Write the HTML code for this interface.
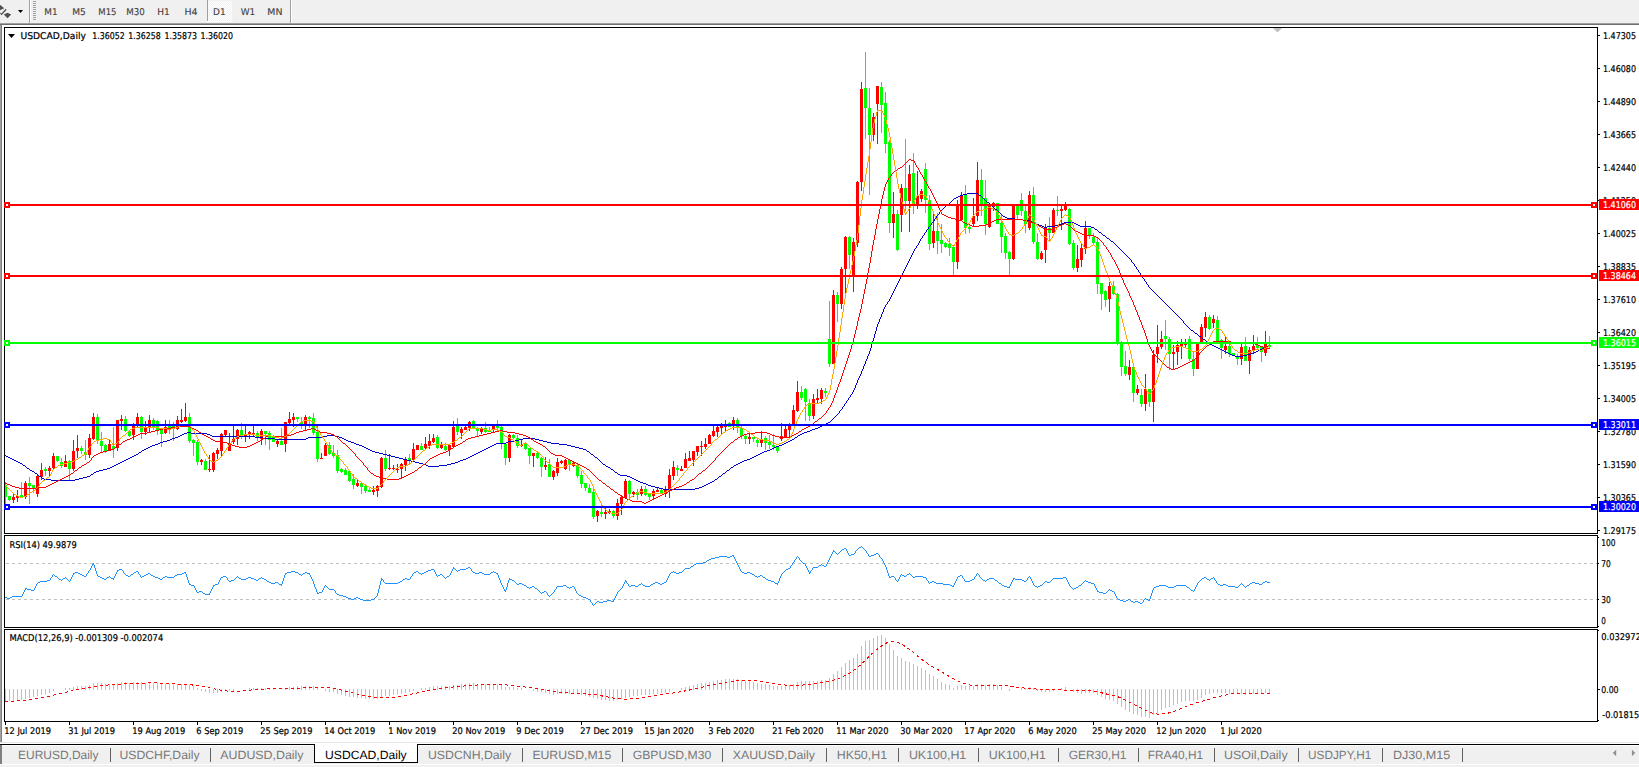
<!DOCTYPE html>
<html><head><meta charset="utf-8"><title>USDCAD,Daily</title>
<style>html,body{margin:0;padding:0;background:#fff;overflow:hidden}svg{display:block}</style></head>
<body>
<svg width="1639" height="767" viewBox="0 0 1639 767" shape-rendering="crispEdges" text-rendering="geometricPrecision">
<rect x="0" y="0" width="1639" height="767" fill="#fff"/>
<rect x="0" y="0" width="1639" height="23" fill="#f0f0f0"/>
<rect x="0" y="23" width="1639" height="1" fill="#a0a0a0"/>
<rect x="0" y="24" width="1639" height="1" fill="#707070"/>
<g fill="#505050" shape-rendering="auto"><path d="M0 4.8 L4.2 8.2 L0 10.2Z"/><path d="M5.6 8.8 L6.6 9.8 L1.7 15.2 L0 13.6 L0 12.4 L1.5 13.6Z"/><path d="M7.5 12.8 L11.2 14.5 L7.5 18.2 L3.8 14.5Z"/></g>
<path d="M18 10h5l-2.5 3z" fill="#000" shape-rendering="auto"/>
<rect x="29" y="0" width="1" height="23" fill="#a0a0a0"/>
<rect x="30" y="0" width="1" height="23" fill="#fff"/>
<rect x="33" y="1" width="3" height="1" fill="#a0a0a0"/>
<rect x="33" y="3" width="3" height="1" fill="#a0a0a0"/>
<rect x="33" y="5" width="3" height="1" fill="#a0a0a0"/>
<rect x="33" y="7" width="3" height="1" fill="#a0a0a0"/>
<rect x="33" y="9" width="3" height="1" fill="#a0a0a0"/>
<rect x="33" y="11" width="3" height="1" fill="#a0a0a0"/>
<rect x="33" y="13" width="3" height="1" fill="#a0a0a0"/>
<rect x="33" y="15" width="3" height="1" fill="#a0a0a0"/>
<rect x="33" y="17" width="3" height="1" fill="#a0a0a0"/>
<rect x="33" y="19" width="3" height="1" fill="#a0a0a0"/>
<defs><pattern id="dz" width="2" height="2" patternUnits="userSpaceOnUse"><rect width="2" height="2" fill="#f0f0f0"/><rect width="1" height="1" fill="#fff"/><rect x="1" y="1" width="1" height="1" fill="#fff"/></pattern></defs>
<rect x="208" y="1" width="24" height="20" fill="url(#dz)"/>
<rect x="207" y="21" width="26" height="1" fill="#fff"/>
<rect x="207" y="0" width="1" height="21" fill="#a0a0a0"/>
<rect x="290" y="0" width="1" height="23" fill="#a0a0a0"/>
<rect x="291" y="0" width="1" height="23" fill="#fff"/>
<text x="50.95" y="15" font-size="9.3" fill="#404040" stroke="#404040" stroke-width="0.12" font-family="'DejaVu Sans','Liberation Sans',sans-serif" text-anchor="middle" textLength="13.3" lengthAdjust="spacingAndGlyphs">M1</text>
<text x="79" y="15" font-size="9.3" fill="#404040" stroke="#404040" stroke-width="0.12" font-family="'DejaVu Sans','Liberation Sans',sans-serif" text-anchor="middle" textLength="13.6" lengthAdjust="spacingAndGlyphs">M5</text>
<text x="107.4" y="15" font-size="9.3" fill="#404040" stroke="#404040" stroke-width="0.12" font-family="'DejaVu Sans','Liberation Sans',sans-serif" text-anchor="middle" textLength="18.2" lengthAdjust="spacingAndGlyphs">M15</text>
<text x="135.45" y="15" font-size="9.3" fill="#404040" stroke="#404040" stroke-width="0.12" font-family="'DejaVu Sans','Liberation Sans',sans-serif" text-anchor="middle" textLength="18.5" lengthAdjust="spacingAndGlyphs">M30</text>
<text x="163.55" y="15" font-size="9.3" fill="#404040" stroke="#404040" stroke-width="0.12" font-family="'DejaVu Sans','Liberation Sans',sans-serif" text-anchor="middle" textLength="12.5" lengthAdjust="spacingAndGlyphs">H1</text>
<text x="190.95" y="15" font-size="9.3" fill="#404040" stroke="#404040" stroke-width="0.12" font-family="'DejaVu Sans','Liberation Sans',sans-serif" text-anchor="middle" textLength="13.1" lengthAdjust="spacingAndGlyphs">H4</text>
<text x="219.4" y="15" font-size="9.3" fill="#404040" stroke="#404040" stroke-width="0.12" font-family="'DejaVu Sans','Liberation Sans',sans-serif" text-anchor="middle" textLength="12.6" lengthAdjust="spacingAndGlyphs">D1</text>
<text x="248.05" y="15" font-size="9.3" fill="#404040" stroke="#404040" stroke-width="0.12" font-family="'DejaVu Sans','Liberation Sans',sans-serif" text-anchor="middle" textLength="14.5" lengthAdjust="spacingAndGlyphs">W1</text>
<text x="274.85" y="15" font-size="9.3" fill="#404040" stroke="#404040" stroke-width="0.12" font-family="'DejaVu Sans','Liberation Sans',sans-serif" text-anchor="middle" textLength="15.1" lengthAdjust="spacingAndGlyphs">MN</text>
<rect x="0" y="25" width="1" height="717" fill="#a0a0a0"/>
<rect x="1" y="25" width="1" height="717" fill="#808080"/>
<rect x="4" y="27" width="1594" height="1" fill="#000"/>
<rect x="4" y="27" width="1" height="507" fill="#000"/>
<rect x="4" y="533" width="1594" height="1" fill="#000"/>
<rect x="1597" y="27" width="1" height="507" fill="#000"/>
<rect x="4" y="535" width="1594" height="1" fill="#000"/>
<rect x="4" y="535" width="1" height="93" fill="#000"/>
<rect x="4" y="627" width="1594" height="1" fill="#000"/>
<rect x="1597" y="535" width="1" height="93" fill="#000"/>
<rect x="4" y="629" width="1594" height="1" fill="#000"/>
<rect x="4" y="629" width="1" height="93" fill="#000"/>
<rect x="4" y="721" width="1594" height="1" fill="#000"/>
<rect x="1597" y="629" width="1" height="93" fill="#000"/>
<defs><clipPath id="cm"><rect x="5" y="28" width="1592" height="505"/></clipPath><clipPath id="cr"><rect x="5" y="536" width="1592" height="91"/></clipPath><clipPath id="cd"><rect x="5" y="630" width="1592" height="91"/></clipPath></defs>
<g clip-path="url(#cm)">
<path fill="#ff0000" d="M13 493h1v10h-1z M12 497h3v3h-3z M17 490h1v12h-1z M16 496h3v2h-3z M25 481h1v18h-1z M24 483h3v14h-3z M37 475h1v22h-1z M36 476h3v18h-3z M41 463h1v17h-1z M40 470h3v7h-3z M49 466h1v11h-1z M48 468h3v3h-3z M53 453h1v16h-1z M52 456h3v12h-3z M65 455h1v12h-1z M64 461h3v6h-3z M73 440h1v31h-1z M72 451h3v18h-3z M77 435h1v23h-1z M76 448h3v3h-3z M89 434h1v24h-1z M88 438h3v17h-3z M93 413h1v27h-1z M92 417h3v22h-3z M109 439h1v12h-1z M108 444h3v6h-3z M117 420h1v31h-1z M116 420h3v28h-3z M121 415h1v15h-1z M120 419h3v2h-3z M133 423h1v17h-1z M132 426h3v9h-3z M137 413h1v14h-1z M136 417h3v9h-3z M145 421h1v14h-1z M144 427h3v5h-3z M149 415h1v18h-1z M148 420h3v8h-3z M165 420h1v14h-1z M164 427h3v6h-3z M177 416h1v14h-1z M176 420h3v9h-3z M181 409h1v14h-1z M180 420h3v2h-3z M185 403h1v19h-1z M184 417h3v4h-3z M201 459h1v6h-1z M200 460h3v2h-3z M209 455h1v17h-1z M208 469h3v1h-3z M213 452h1v20h-1z M212 453h3v17h-3z M217 448h1v11h-1z M216 450h3v4h-3z M221 433h1v23h-1z M220 434h3v17h-3z M225 430h1v7h-1z M224 430h3v5h-3z M229 433h1v18h-1z M228 443h3v8h-3z M233 426h1v18h-1z M232 439h3v3h-3z M237 429h1v16h-1z M236 430h3v9h-3z M245 426h1v16h-1z M244 435h3v2h-3z M249 431h1v8h-1z M248 432h3v2h-3z M253 426h1v10h-1z M252 433h3v1h-3z M261 429h1v16h-1z M260 431h3v8h-3z M277 439h1v8h-1z M276 441h3v3h-3z M285 422h1v30h-1z M284 422h3v22h-3z M289 412h1v12h-1z M288 419h3v4h-3z M293 413h1v14h-1z M292 417h3v3h-3z M305 415h1v16h-1z M304 417h3v7h-3z M321 453h1v6h-1z M320 458h3v1h-3z M325 443h1v13h-1z M324 445h3v11h-3z M357 479h1v8h-1z M356 483h3v3h-3z M373 486h1v9h-1z M372 490h3v2h-3z M377 485h1v12h-1z M376 486h3v5h-3z M381 457h1v31h-1z M380 458h3v29h-3z M389 454h1v16h-1z M388 468h3v1h-3z M393 465h1v5h-1z M392 468h3v1h-3z M397 464h1v9h-1z M396 469h3v1h-3z M401 463h1v15h-1z M400 464h3v5h-3z M405 457h1v14h-1z M404 459h3v6h-3z M413 443h1v17h-1z M412 449h3v11h-3z M417 445h1v5h-1z M416 445h3v5h-3z M425 437h1v13h-1z M424 444h3v4h-3z M429 434h1v15h-1z M428 441h3v5h-3z M433 434h1v9h-1z M432 438h3v4h-3z M441 442h1v7h-1z M440 444h3v4h-3z M449 445h1v11h-1z M448 445h3v5h-3z M453 421h1v27h-1z M452 427h3v20h-3z M461 427h1v12h-1z M460 429h3v4h-3z M465 426h1v4h-1z M464 427h3v3h-3z M469 421h1v10h-1z M468 422h3v6h-3z M481 427h1v7h-1z M480 429h3v3h-3z M493 426h1v6h-1z M492 426h3v4h-3z M509 434h1v28h-1z M508 435h3v23h-3z M521 440h1v7h-1z M520 445h3v1h-3z M533 453h1v14h-1z M532 453h3v3h-3z M545 457h1v13h-1z M544 465h3v2h-3z M553 470h1v10h-1z M552 471h3v6h-3z M557 458h1v18h-1z M556 462h3v11h-3z M561 460h1v4h-1z M560 461h3v2h-3z M565 459h1v11h-1z M564 460h3v9h-3z M573 461h1v6h-1z M572 463h3v3h-3z M597 510h1v12h-1z M596 511h3v5h-3z M605 508h1v11h-1z M604 512h3v2h-3z M609 509h1v5h-1z M608 511h3v2h-3z M617 499h1v21h-1z M616 503h3v13h-3z M621 496h1v19h-1z M620 497h3v7h-3z M625 479h1v20h-1z M624 481h3v17h-3z M633 491h1v6h-1z M632 492h3v2h-3z M641 486h1v10h-1z M640 489h3v5h-3z M653 489h1v11h-1z M652 491h3v5h-3z M657 488h1v4h-1z M656 490h3v2h-3z M665 486h1v11h-1z M664 490h3v4h-3z M669 469h1v29h-1z M668 475h3v15h-3z M673 461h1v19h-1z M672 467h3v9h-3z M681 466h1v5h-1z M680 469h3v2h-3z M685 453h1v15h-1z M684 459h3v9h-3z M689 451h1v10h-1z M688 458h3v3h-3z M693 451h1v15h-1z M692 451h3v9h-3z M697 446h1v10h-1z M696 446h3v6h-3z M701 441h1v15h-1z M700 446h3v1h-3z M705 438h1v11h-1z M704 444h3v3h-3z M709 434h1v10h-1z M708 435h3v9h-3z M713 426h1v11h-1z M712 431h3v5h-3z M717 426h1v11h-1z M716 427h3v5h-3z M721 423h1v12h-1z M720 426h3v2h-3z M725 420h1v12h-1z M724 426h3v1h-3z M733 417h1v13h-1z M732 420h3v4h-3z M749 433h1v11h-1z M748 437h3v2h-3z M761 431h1v16h-1z M760 439h3v4h-3z M781 423h1v18h-1z M780 436h3v3h-3z M785 426h1v12h-1z M784 429h3v8h-3z M789 423h1v14h-1z M788 426h3v4h-3z M793 405h1v21h-1z M792 410h3v16h-3z M797 381h1v31h-1z M796 392h3v19h-3z M813 394h1v25h-1z M812 399h3v17h-3z M817 389h1v15h-1z M816 398h3v2h-3z M821 388h1v16h-1z M820 390h3v9h-3z M833 290h1v74h-1z M832 295h3v69h-3z M841 267h1v42h-1z M840 269h3v35h-3z M845 236h1v58h-1z M844 237h3v32h-3z M853 238h1v54h-1z M852 242h3v33h-3z M857 181h1v66h-1z M856 182h3v61h-3z M861 82h1v109h-1z M860 89h3v93h-3z M873 113h1v28h-1z M872 117h3v18h-3z M877 86h1v58h-1z M876 86h3v18h-3z M893 192h1v46h-1z M892 214h3v9h-3z M901 184h1v48h-1z M900 188h3v27h-3z M909 165h1v67h-1z M908 174h3v27h-3z M917 171h1v38h-1z M916 196h3v8h-3z M921 189h1v13h-1z M920 191h3v8h-3z M933 214h1v34h-1z M932 231h3v12h-3z M957 200h1v69h-1z M956 205h3v57h-3z M961 192h1v29h-1z M960 196h3v24h-3z M973 198h1v29h-1z M972 216h3v8h-3z M977 162h1v59h-1z M976 180h3v36h-3z M989 205h1v23h-1z M988 206h3v21h-3z M993 202h1v9h-1z M992 203h3v4h-3z M1013 205h1v55h-1z M1012 206h3v53h-3z M1029 191h1v39h-1z M1028 195h3v33h-3z M1041 251h1v9h-1z M1040 253h3v6h-3z M1045 224h1v39h-1z M1044 228h3v22h-3z M1053 208h1v25h-1z M1052 210h3v23h-3z M1061 206h1v24h-1z M1060 209h3v2h-3z M1065 202h1v9h-1z M1064 206h3v4h-3z M1077 245h1v27h-1z M1076 259h3v9h-3z M1081 243h1v24h-1z M1080 248h3v12h-3z M1085 221h1v33h-1z M1084 228h3v21h-3z M1109 282h1v30h-1z M1108 286h3v13h-3z M1129 360h1v20h-1z M1128 367h3v8h-3z M1137 385h1v10h-1z M1136 389h3v4h-3z M1145 374h1v37h-1z M1144 389h3v15h-3z M1153 350h1v72h-1z M1152 355h3v47h-3z M1157 325h1v38h-1z M1156 347h3v7h-3z M1161 331h1v18h-1z M1160 339h3v8h-3z M1173 345h1v25h-1z M1172 352h3v2h-3z M1177 341h1v24h-1z M1176 345h3v7h-3z M1181 339h1v20h-1z M1180 344h3v2h-3z M1185 339h1v8h-1z M1184 344h3v1h-3z M1197 344h1v25h-1z M1196 344h3v25h-3z M1201 324h1v20h-1z M1200 327h3v17h-3z M1205 312h1v25h-1z M1204 317h3v11h-3z M1213 315h1v13h-1z M1212 319h3v4h-3z M1225 337h1v17h-1z M1224 346h3v4h-3z M1241 344h1v21h-1z M1240 347h3v12h-3z M1249 347h1v27h-1z M1248 350h3v11h-3z M1253 335h1v19h-1z M1252 346h3v4h-3z M1265 331h1v25h-1z M1264 344h3v9h-3z"/>
<path fill="#00ff00" d="M5 482h1v23h-1z M4 485h3v12h-3z M9 496h1v5h-1z M8 496h3v4h-3z M21 482h1v16h-1z M20 495h3v2h-3z M29 477h1v27h-1z M28 483h3v3h-3z M33 485h1v8h-1z M32 485h3v4h-3z M45 467h1v9h-1z M44 469h3v2h-3z M57 456h1v6h-1z M56 456h3v5h-3z M61 458h1v10h-1z M60 462h3v4h-3z M69 460h1v20h-1z M68 461h3v8h-3z M81 446h1v8h-1z M80 448h3v3h-3z M85 440h1v20h-1z M84 452h3v3h-3z M97 414h1v30h-1z M96 417h3v24h-3z M101 432h1v20h-1z M100 441h3v5h-3z M105 444h1v9h-1z M104 445h3v6h-3z M113 427h1v31h-1z M112 446h3v3h-3z M125 416h1v16h-1z M124 419h3v12h-3z M129 431h1v6h-1z M128 431h3v5h-3z M141 416h1v23h-1z M140 417h3v15h-3z M153 418h1v12h-1z M152 420h3v8h-3z M157 420h1v15h-1z M156 421h3v9h-3z M161 429h1v18h-1z M160 430h3v4h-3z M169 420h1v14h-1z M168 426h3v2h-3z M173 422h1v19h-1z M172 426h3v2h-3z M189 413h1v30h-1z M188 417h3v24h-3z M193 439h1v17h-1z M192 440h3v3h-3z M197 440h1v25h-1z M196 442h3v20h-3z M205 459h1v11h-1z M204 461h3v9h-3z M241 423h1v16h-1z M240 430h3v7h-3z M257 431h1v10h-1z M256 433h3v5h-3z M265 431h1v14h-1z M264 431h3v3h-3z M269 431h1v19h-1z M268 433h3v7h-3z M273 435h1v7h-1z M272 436h3v6h-3z M281 428h1v17h-1z M280 441h3v4h-3z M297 417h1v5h-1z M296 417h3v2h-3z M301 417h1v12h-1z M300 422h3v2h-3z M309 416h1v12h-1z M308 417h3v2h-3z M313 413h1v22h-1z M312 418h3v15h-3z M317 426h1v36h-1z M316 432h3v27h-3z M329 442h1v13h-1z M328 445h3v9h-3z M333 445h1v13h-1z M332 453h3v3h-3z M337 450h1v23h-1z M336 455h3v16h-3z M341 468h1v5h-1z M340 469h3v3h-3z M345 468h1v7h-1z M344 470h3v5h-3z M349 471h1v11h-1z M348 471h3v10h-3z M353 474h1v15h-1z M352 479h3v6h-3z M361 482h1v12h-1z M360 483h3v4h-3z M365 484h1v9h-1z M364 486h3v5h-3z M369 488h1v4h-1z M368 490h3v2h-3z M385 450h1v21h-1z M384 458h3v11h-3z M409 454h1v10h-1z M408 458h3v3h-3z M421 443h1v7h-1z M420 446h3v4h-3z M437 435h1v14h-1z M436 437h3v11h-3z M445 443h1v8h-1z M444 446h3v4h-3z M457 418h1v17h-1z M456 426h3v6h-3z M473 420h1v9h-1z M472 421h3v8h-3z M477 427h1v9h-1z M476 428h3v3h-3z M485 422h1v11h-1z M484 428h3v4h-3z M489 427h1v5h-1z M488 430h3v2h-3z M497 420h1v11h-1z M496 426h3v2h-3z M501 426h1v23h-1z M500 427h3v17h-3z M505 443h1v22h-1z M504 444h3v14h-3z M513 434h1v5h-1z M512 435h3v3h-3z M517 435h1v13h-1z M516 438h3v8h-3z M525 443h1v7h-1z M524 444h3v5h-3z M529 448h1v16h-1z M528 448h3v8h-3z M537 451h1v8h-1z M536 453h3v5h-3z M541 457h1v20h-1z M540 458h3v9h-3z M549 459h1v18h-1z M548 464h3v13h-3z M569 460h1v11h-1z M568 460h3v5h-3z M577 464h1v14h-1z M576 465h3v11h-3z M581 471h1v17h-1z M580 475h3v9h-3z M585 483h1v8h-1z M584 483h3v5h-3z M589 484h1v9h-1z M588 488h3v5h-3z M593 489h1v30h-1z M592 492h3v25h-3z M601 505h1v12h-1z M600 512h3v2h-3z M613 510h1v8h-1z M612 511h3v5h-3z M629 480h1v19h-1z M628 481h3v13h-3z M637 489h1v11h-1z M636 492h3v3h-3z M645 486h1v10h-1z M644 489h3v6h-3z M649 493h1v7h-1z M648 494h3v3h-3z M661 489h1v5h-1z M660 490h3v3h-3z M677 465h1v11h-1z M676 468h3v2h-3z M729 422h1v5h-1z M728 423h3v4h-3z M737 418h1v15h-1z M736 420h3v8h-3z M741 426h1v13h-1z M740 428h3v8h-3z M745 434h1v10h-1z M744 436h3v3h-3z M753 437h1v5h-1z M752 437h3v2h-3z M757 439h1v8h-1z M756 440h3v3h-3z M765 436h1v14h-1z M764 438h3v5h-3z M769 435h1v14h-1z M768 442h3v3h-3z M773 434h1v16h-1z M772 445h3v2h-3z M777 446h1v7h-1z M776 447h3v4h-3z M801 386h1v14h-1z M800 392h3v6h-3z M805 388h1v33h-1z M804 389h3v13h-3z M809 399h1v22h-1z M808 403h3v13h-3z M825 388h1v9h-1z M824 391h3v2h-3z M829 301h1v66h-1z M828 339h3v25h-3z M837 292h1v30h-1z M836 295h3v9h-3z M849 236h1v33h-1z M848 237h3v18h-3z M865 52h1v87h-1z M864 88h3v20h-3z M869 88h1v107h-1z M868 108h3v27h-3z M881 82h1v51h-1z M880 87h3v18h-3z M885 92h1v61h-1z M884 103h3v41h-3z M889 140h1v93h-1z M888 142h3v81h-3z M897 210h1v41h-1z M896 214h3v36h-3z M905 139h1v72h-1z M904 188h3v13h-3z M913 153h1v61h-1z M912 173h3v31h-3z M925 163h1v50h-1z M924 169h3v31h-3z M929 195h1v55h-1z M928 200h3v44h-3z M937 213h1v41h-1z M936 231h3v10h-3z M941 224h1v29h-1z M940 240h3v4h-3z M945 242h1v6h-1z M944 243h3v4h-3z M949 238h1v18h-1z M948 244h3v4h-3z M953 245h1v30h-1z M952 247h3v15h-3z M965 185h1v49h-1z M964 195h3v33h-3z M969 225h1v8h-1z M968 227h3v2h-3z M981 169h1v47h-1z M980 180h3v26h-3z M985 180h1v55h-1z M984 198h3v26h-3z M997 203h1v21h-1z M996 203h3v21h-3z M1001 215h1v38h-1z M1000 223h3v14h-3z M1005 233h1v26h-1z M1004 236h3v17h-3z M1009 251h1v24h-1z M1008 252h3v7h-3z M1017 205h1v14h-1z M1016 206h3v9h-3z M1021 193h1v23h-1z M1020 200h3v11h-3z M1025 206h1v27h-1z M1024 211h3v13h-3z M1033 187h1v57h-1z M1032 195h3v47h-3z M1037 233h1v27h-1z M1036 242h3v17h-3z M1049 217h1v25h-1z M1048 228h3v5h-3z M1057 196h1v20h-1z M1056 210h3v1h-3z M1069 208h1v37h-1z M1068 209h3v35h-3z M1073 240h1v30h-1z M1072 243h3v25h-3z M1089 228h1v11h-1z M1088 228h3v8h-3z M1093 233h1v12h-1z M1092 237h3v6h-3z M1097 238h1v56h-1z M1096 242h3v42h-3z M1101 283h1v27h-1z M1100 283h3v11h-3z M1105 290h1v17h-1z M1104 291h3v9h-3z M1113 281h1v14h-1z M1112 286h3v8h-3z M1117 293h1v52h-1z M1116 294h3v48h-3z M1121 341h1v35h-1z M1120 343h3v24h-3z M1125 351h1v25h-1z M1124 366h3v8h-3z M1133 365h1v37h-1z M1132 367h3v26h-3z M1141 389h1v18h-1z M1140 395h3v9h-3z M1149 389h1v18h-1z M1148 389h3v13h-3z M1165 320h1v30h-1z M1164 336h3v3h-3z M1169 337h1v33h-1z M1168 339h3v15h-3z M1189 336h1v25h-1z M1188 339h3v20h-3z M1193 352h1v24h-1z M1192 359h3v10h-3z M1209 315h1v15h-1z M1208 317h3v12h-3z M1217 316h1v26h-1z M1216 320h3v21h-3z M1221 339h1v20h-1z M1220 340h3v8h-3z M1229 344h1v13h-1z M1228 346h3v8h-3z M1233 353h1v3h-1z M1232 353h3v2h-3z M1237 354h1v11h-1z M1236 356h3v3h-3z M1245 337h1v24h-1z M1244 346h3v15h-3z M1257 337h1v12h-1z M1256 345h3v3h-3z M1261 346h1v16h-1z M1260 346h3v6h-3z M1269 336h1v12h-1z M1268 345h3v2h-3z"/>
<path fill="#0000cd" d="M5 455h1v1h-1zM6 456h1v1h-1zM7 456h1v1h-1zM8 457h1v1h-1zM9 457h1v1h-1zM10 458h1v1h-1zM11 458h1v1h-1zM12 459h1v1h-1zM13 459h1v1h-1zM14 460h1v1h-1zM15 460h1v1h-1zM16 461h1v1h-1zM17 461h1v1h-1zM18 462h1v1h-1zM19 462h1v1h-1zM20 463h1v1h-1zM21 463h1v1h-1zM22 464h1v1h-1zM23 465h1v1h-1zM24 465h1v1h-1zM25 466h1v1h-1zM26 467h1v1h-1zM27 468h1v1h-1zM28 468h1v1h-1zM29 469h1v1h-1zM30 470h1v1h-1zM31 470h1v1h-1zM32 471h1v1h-1zM33 471h1v1h-1zM34 472h1v1h-1zM35 473h1v1h-1zM36 473h1v1h-1zM37 474h1v1h-1zM38 475h1v1h-1zM39 476h1v1h-1zM40 476h1v1h-1zM41 477h1v1h-1zM42 478h1v1h-1zM43 478h1v1h-1zM44 479h1v1h-1zM45 479h1v1h-1zM46 479h1v1h-1zM47 479h1v1h-1zM48 479h1v1h-1zM49 479h1v1h-1zM50 479h1v1h-1zM51 480h1v1h-1zM52 480h1v1h-1zM53 480h1v1h-1zM54 480h1v1h-1zM55 480h1v1h-1zM56 480h1v1h-1zM57 480h1v1h-1zM58 480h1v1h-1zM59 480h1v1h-1zM60 480h1v1h-1zM61 480h1v1h-1zM62 480h1v1h-1zM63 480h1v1h-1zM64 480h1v1h-1zM65 480h1v1h-1zM66 480h1v1h-1zM67 480h1v1h-1zM68 480h1v1h-1zM69 480h1v1h-1zM70 480h1v1h-1zM71 480h1v1h-1zM72 480h1v1h-1zM73 480h1v1h-1zM74 480h1v1h-1zM75 479h1v1h-1zM76 479h1v1h-1zM77 479h1v1h-1zM78 479h1v1h-1zM79 478h1v1h-1zM80 478h1v1h-1zM81 478h1v1h-1zM82 478h1v1h-1zM83 477h1v1h-1zM84 477h1v1h-1zM85 477h1v1h-1zM86 477h1v1h-1zM87 476h1v1h-1zM88 476h1v1h-1zM89 476h1v1h-1zM90 475h1v1h-1zM91 474h1v1h-1zM92 474h1v1h-1zM93 473h1v1h-1zM94 472h1v1h-1zM95 472h1v1h-1zM96 471h1v1h-1zM97 471h1v1h-1zM98 471h1v1h-1zM99 470h1v1h-1zM100 470h1v1h-1zM101 470h1v1h-1zM102 470h1v1h-1zM103 469h1v1h-1zM104 469h1v1h-1zM105 469h1v1h-1zM106 469h1v1h-1zM107 468h1v1h-1zM108 468h1v1h-1zM109 468h1v1h-1zM110 467h1v1h-1zM111 467h1v1h-1zM112 466h1v1h-1zM113 466h1v1h-1zM114 465h1v1h-1zM115 465h1v1h-1zM116 464h1v1h-1zM117 464h1v1h-1zM118 463h1v1h-1zM119 463h1v1h-1zM120 462h1v1h-1zM121 462h1v1h-1zM122 461h1v1h-1zM123 461h1v1h-1zM124 460h1v1h-1zM125 460h1v1h-1zM126 459h1v1h-1zM127 459h1v1h-1zM128 458h1v1h-1zM129 458h1v1h-1zM130 457h1v1h-1zM131 457h1v1h-1zM132 456h1v1h-1zM133 456h1v1h-1zM134 455h1v1h-1zM135 455h1v1h-1zM136 454h1v1h-1zM137 454h1v1h-1zM138 453h1v1h-1zM139 452h1v1h-1zM140 452h1v1h-1zM141 451h1v1h-1zM142 450h1v1h-1zM143 450h1v1h-1zM144 449h1v1h-1zM145 449h1v1h-1zM146 448h1v1h-1zM147 448h1v1h-1zM148 447h1v1h-1zM149 447h1v1h-1zM150 446h1v1h-1zM151 446h1v1h-1zM152 445h1v1h-1zM153 445h1v1h-1zM154 445h1v1h-1zM155 444h1v1h-1zM156 444h1v1h-1zM157 444h1v1h-1zM158 443h1v1h-1zM159 443h1v1h-1zM160 442h1v1h-1zM161 442h1v1h-1zM162 442h1v1h-1zM163 441h1v1h-1zM164 441h1v1h-1zM165 441h1v1h-1zM166 441h1v1h-1zM167 440h1v1h-1zM168 440h1v1h-1zM169 440h1v1h-1zM170 439h1v1h-1zM171 439h1v1h-1zM172 438h1v1h-1zM173 438h1v1h-1zM174 438h1v1h-1zM175 437h1v1h-1zM176 437h1v1h-1zM177 437h1v1h-1zM178 436h1v1h-1zM179 436h1v1h-1zM180 435h1v1h-1zM181 435h1v1h-1zM182 434h1v1h-1zM183 434h1v1h-1zM184 433h1v1h-1zM185 433h1v1h-1zM186 433h1v1h-1zM187 432h1v1h-1zM188 432h1v1h-1zM189 432h1v1h-1zM190 432h1v1h-1zM191 433h1v1h-1zM192 433h1v1h-1zM193 433h1v1h-1zM194 433h1v1h-1zM195 433h1v1h-1zM196 433h1v1h-1zM197 433h1v1h-1zM198 433h1v1h-1zM199 433h1v1h-1zM200 433h1v1h-1zM201 433h1v1h-1zM202 433h1v1h-1zM203 433h1v1h-1zM204 433h1v1h-1zM205 433h1v1h-1zM206 433h1v1h-1zM207 434h1v1h-1zM208 434h1v1h-1zM209 434h1v1h-1zM210 435h1v1h-1zM211 435h1v1h-1zM212 436h1v1h-1zM213 436h1v1h-1zM214 436h1v1h-1zM215 436h1v1h-1zM216 436h1v1h-1zM217 436h1v1h-1zM218 436h1v1h-1zM219 436h1v1h-1zM220 436h1v1h-1zM221 436h1v1h-1zM222 436h1v1h-1zM223 436h1v1h-1zM224 436h1v1h-1zM225 436h1v1h-1zM226 436h1v1h-1zM227 436h1v1h-1zM228 436h1v1h-1zM229 436h1v1h-1zM230 436h1v1h-1zM231 436h1v1h-1zM232 436h1v1h-1zM233 436h1v1h-1zM234 436h1v1h-1zM235 436h1v1h-1zM236 436h1v1h-1zM237 436h1v1h-1zM238 436h1v1h-1zM239 436h1v1h-1zM240 436h1v1h-1zM241 436h1v1h-1zM242 436h1v1h-1zM243 436h1v1h-1zM244 436h1v1h-1zM245 436h1v1h-1zM246 436h1v1h-1zM247 436h1v1h-1zM248 436h1v1h-1zM249 436h1v1h-1zM250 436h1v1h-1zM251 436h1v1h-1zM252 436h1v1h-1zM253 436h1v1h-1zM254 436h1v1h-1zM255 437h1v1h-1zM256 437h1v1h-1zM257 437h1v1h-1zM258 437h1v1h-1zM259 437h1v1h-1zM260 437h1v1h-1zM261 437h1v1h-1zM262 437h1v1h-1zM263 438h1v1h-1zM264 438h1v1h-1zM265 438h1v1h-1zM266 438h1v1h-1zM267 438h1v1h-1zM268 438h1v1h-1zM269 438h1v1h-1zM270 438h1v1h-1zM271 438h1v1h-1zM272 438h1v1h-1zM273 438h1v1h-1zM274 438h1v1h-1zM275 439h1v1h-1zM276 439h1v1h-1zM277 439h1v1h-1zM278 439h1v1h-1zM279 439h1v1h-1zM280 439h1v1h-1zM281 439h1v1h-1zM282 439h1v1h-1zM283 439h1v1h-1zM284 439h1v1h-1zM285 439h1v1h-1zM286 439h1v1h-1zM287 439h1v1h-1zM288 439h1v1h-1zM289 439h1v1h-1zM290 439h1v1h-1zM291 439h1v1h-1zM292 439h1v1h-1zM293 439h1v1h-1zM294 439h1v1h-1zM295 439h1v1h-1zM296 439h1v1h-1zM297 439h1v1h-1zM298 439h1v1h-1zM299 439h1v1h-1zM300 439h1v1h-1zM301 439h1v1h-1zM302 439h1v1h-1zM303 439h1v1h-1zM304 439h1v1h-1zM305 439h1v1h-1zM306 438h1v1h-1zM307 438h1v1h-1zM308 437h1v1h-1zM309 437h1v1h-1zM310 437h1v1h-1zM311 437h1v1h-1zM312 437h1v1h-1zM313 437h1v1h-1zM314 437h1v1h-1zM315 437h1v1h-1zM316 437h1v1h-1zM317 437h1v1h-1zM318 437h1v1h-1zM319 437h1v1h-1zM320 437h1v1h-1zM321 437h1v1h-1zM322 437h1v1h-1zM323 436h1v1h-1zM324 436h1v1h-1zM325 436h1v1h-1zM326 436h1v1h-1zM327 435h1v1h-1zM328 435h1v1h-1zM329 435h1v1h-1zM330 435h1v1h-1zM331 435h1v1h-1zM332 435h1v1h-1zM333 435h1v1h-1zM334 435h1v1h-1zM335 436h1v1h-1zM336 436h1v1h-1zM337 436h1v1h-1zM338 436h1v1h-1zM339 437h1v1h-1zM340 437h1v1h-1zM341 437h1v1h-1zM342 438h1v1h-1zM343 438h1v1h-1zM344 439h1v1h-1zM345 439h1v1h-1zM346 440h1v1h-1zM347 440h1v1h-1zM348 441h1v1h-1zM349 441h1v1h-1zM350 441h1v1h-1zM351 442h1v1h-1zM352 442h1v1h-1zM353 442h1v1h-1zM354 443h1v1h-1zM355 443h1v1h-1zM356 444h1v1h-1zM357 444h1v1h-1zM358 444h1v1h-1zM359 445h1v1h-1zM360 445h1v1h-1zM361 445h1v1h-1zM362 446h1v1h-1zM363 446h1v1h-1zM364 447h1v1h-1zM365 447h1v1h-1zM366 448h1v1h-1zM367 448h1v1h-1zM368 449h1v1h-1zM369 449h1v1h-1zM370 450h1v1h-1zM371 450h1v1h-1zM372 451h1v1h-1zM373 451h1v1h-1zM374 451h1v1h-1zM375 452h1v1h-1zM376 452h1v1h-1zM377 452h1v1h-1zM378 452h1v1h-1zM379 453h1v1h-1zM380 453h1v1h-1zM381 453h1v1h-1zM382 453h1v1h-1zM383 454h1v1h-1zM384 454h1v1h-1zM385 454h1v1h-1zM386 454h1v1h-1zM387 455h1v1h-1zM388 455h1v1h-1zM389 455h1v1h-1zM390 455h1v1h-1zM391 456h1v1h-1zM392 456h1v1h-1zM393 456h1v1h-1zM394 456h1v1h-1zM395 457h1v1h-1zM396 457h1v1h-1zM397 457h1v1h-1zM398 457h1v1h-1zM399 458h1v1h-1zM400 458h1v1h-1zM401 458h1v1h-1zM402 458h1v1h-1zM403 459h1v1h-1zM404 459h1v1h-1zM405 459h1v1h-1zM406 459h1v1h-1zM407 460h1v1h-1zM408 460h1v1h-1zM409 460h1v1h-1zM410 460h1v1h-1zM411 461h1v1h-1zM412 461h1v1h-1zM413 461h1v1h-1zM414 461h1v1h-1zM415 462h1v1h-1zM416 462h1v1h-1zM417 462h1v1h-1zM418 462h1v1h-1zM419 463h1v1h-1zM420 463h1v1h-1zM421 463h1v1h-1zM422 463h1v1h-1zM423 464h1v1h-1zM424 464h1v1h-1zM425 464h1v1h-1zM426 465h1v1h-1zM427 465h1v1h-1zM428 466h1v1h-1zM429 466h1v1h-1zM430 466h1v1h-1zM431 466h1v1h-1zM432 466h1v1h-1zM433 466h1v1h-1zM434 466h1v1h-1zM435 466h1v1h-1zM436 466h1v1h-1zM437 466h1v1h-1zM438 466h1v1h-1zM439 465h1v1h-1zM440 465h1v1h-1zM441 465h1v1h-1zM442 465h1v1h-1zM443 465h1v1h-1zM444 465h1v1h-1zM445 465h1v1h-1zM446 465h1v1h-1zM447 464h1v1h-1zM448 464h1v1h-1zM449 464h1v1h-1zM450 464h1v1h-1zM451 463h1v1h-1zM452 463h1v1h-1zM453 463h1v1h-1zM454 463h1v1h-1zM455 462h1v1h-1zM456 462h1v1h-1zM457 462h1v1h-1zM458 461h1v1h-1zM459 461h1v1h-1zM460 460h1v1h-1zM461 460h1v1h-1zM462 460h1v1h-1zM463 459h1v1h-1zM464 459h1v1h-1zM465 459h1v1h-1zM466 458h1v1h-1zM467 458h1v1h-1zM468 457h1v1h-1zM469 457h1v1h-1zM470 456h1v1h-1zM471 456h1v1h-1zM472 455h1v1h-1zM473 455h1v1h-1zM474 454h1v1h-1zM475 454h1v1h-1zM476 453h1v1h-1zM477 453h1v1h-1zM478 452h1v1h-1zM479 452h1v1h-1zM480 451h1v1h-1zM481 451h1v1h-1zM482 450h1v1h-1zM483 450h1v1h-1zM484 449h1v1h-1zM485 449h1v1h-1zM486 448h1v1h-1zM487 448h1v1h-1zM488 447h1v1h-1zM489 447h1v1h-1zM490 446h1v1h-1zM491 446h1v1h-1zM492 445h1v1h-1zM493 445h1v1h-1zM494 444h1v1h-1zM495 444h1v1h-1zM496 443h1v1h-1zM497 443h1v1h-1zM498 443h1v1h-1zM499 443h1v1h-1zM500 443h1v1h-1zM501 443h1v1h-1zM502 443h1v1h-1zM503 443h1v1h-1zM504 443h1v1h-1zM505 443h1v1h-1zM506 442h1v1h-1zM507 442h1v1h-1zM508 441h1v1h-1zM509 441h1v1h-1zM510 441h1v1h-1zM511 441h1v1h-1zM512 441h1v1h-1zM513 441h1v1h-1zM514 441h1v1h-1zM515 440h1v1h-1zM516 440h1v1h-1zM517 440h1v1h-1zM518 440h1v1h-1zM519 439h1v1h-1zM520 439h1v1h-1zM521 439h1v1h-1zM522 439h1v1h-1zM523 438h1v1h-1zM524 438h1v1h-1zM525 438h1v1h-1zM526 438h1v1h-1zM527 438h1v1h-1zM528 438h1v1h-1zM529 438h1v1h-1zM530 438h1v1h-1zM531 438h1v1h-1zM532 438h1v1h-1zM533 438h1v1h-1zM534 438h1v1h-1zM535 439h1v1h-1zM536 439h1v1h-1zM537 439h1v1h-1zM538 439h1v1h-1zM539 440h1v1h-1zM540 440h1v1h-1zM541 440h1v1h-1zM542 440h1v1h-1zM543 441h1v1h-1zM544 441h1v1h-1zM545 441h1v1h-1zM546 441h1v1h-1zM547 442h1v1h-1zM548 442h1v1h-1zM549 442h1v1h-1zM550 442h1v1h-1zM551 443h1v1h-1zM552 443h1v1h-1zM553 443h1v1h-1zM554 443h1v1h-1zM555 443h1v1h-1zM556 443h1v1h-1zM557 443h1v1h-1zM558 443h1v1h-1zM559 444h1v1h-1zM560 444h1v1h-1zM561 444h1v1h-1zM562 444h1v1h-1zM563 444h1v1h-1zM564 444h1v1h-1zM565 444h1v1h-1zM566 444h1v1h-1zM567 445h1v1h-1zM568 445h1v1h-1zM569 445h1v1h-1zM570 445h1v1h-1zM571 446h1v1h-1zM572 446h1v1h-1zM573 446h1v1h-1zM574 446h1v1h-1zM575 447h1v1h-1zM576 447h1v1h-1zM577 447h1v1h-1zM578 447h1v1h-1zM579 448h1v1h-1zM580 448h1v1h-1zM581 448h1v1h-1zM582 448h1v1h-1zM583 449h1v1h-1zM584 449h1v1h-1zM585 449h1v1h-1zM586 450h1v1h-1zM587 451h1v1h-1zM588 451h1v1h-1zM589 452h1v1h-1zM590 453h1v1h-1zM591 454h1v1h-1zM592 454h1v1h-1zM593 455h1v1h-1zM594 456h1v1h-1zM595 457h1v1h-1zM596 457h1v1h-1zM597 458h1v1h-1zM598 459h1v1h-1zM599 460h1v1h-1zM600 461h1v1h-1zM601 462h1v1h-1zM602 463h1v1h-1zM603 464h1v1h-1zM604 464h1v1h-1zM605 465h1v1h-1zM606 466h1v1h-1zM607 466h1v1h-1zM608 467h1v1h-1zM609 467h1v1h-1zM610 468h1v1h-1zM611 469h1v1h-1zM612 469h1v1h-1zM613 470h1v1h-1zM614 471h1v1h-1zM615 472h1v1h-1zM616 472h1v1h-1zM617 473h1v1h-1zM618 474h1v1h-1zM619 474h1v1h-1zM620 475h1v1h-1zM621 475h1v1h-1zM622 475h1v1h-1zM623 475h1v1h-1zM624 475h1v1h-1zM625 475h1v1h-1zM626 475h1v1h-1zM627 476h1v1h-1zM628 476h1v1h-1zM629 476h1v1h-1zM630 477h1v1h-1zM631 477h1v1h-1zM632 478h1v1h-1zM633 478h1v1h-1zM634 479h1v1h-1zM635 479h1v1h-1zM636 480h1v1h-1zM637 480h1v1h-1zM638 481h1v1h-1zM639 481h1v1h-1zM640 482h1v1h-1zM641 482h1v1h-1zM642 482h1v1h-1zM643 483h1v1h-1zM644 483h1v1h-1zM645 483h1v1h-1zM646 484h1v1h-1zM647 484h1v1h-1zM648 485h1v1h-1zM649 485h1v1h-1zM650 485h1v1h-1zM651 486h1v1h-1zM652 486h1v1h-1zM653 486h1v1h-1zM654 486h1v1h-1zM655 487h1v1h-1zM656 487h1v1h-1zM657 487h1v1h-1zM658 487h1v1h-1zM659 488h1v1h-1zM660 488h1v1h-1zM661 488h1v1h-1zM662 488h1v1h-1zM663 489h1v1h-1zM664 489h1v1h-1zM665 489h1v1h-1zM666 489h1v1h-1zM667 489h1v1h-1zM668 489h1v1h-1zM669 489h1v1h-1zM670 489h1v1h-1zM671 489h1v1h-1zM672 489h1v1h-1zM673 489h1v1h-1zM674 489h1v1h-1zM675 489h1v1h-1zM676 489h1v1h-1zM677 489h1v1h-1zM678 489h1v1h-1zM679 489h1v1h-1zM680 489h1v1h-1zM681 489h1v1h-1zM682 489h1v1h-1zM683 489h1v1h-1zM684 489h1v1h-1zM685 489h1v1h-1zM686 489h1v1h-1zM687 489h1v1h-1zM688 489h1v1h-1zM689 489h1v1h-1zM690 489h1v1h-1zM691 489h1v1h-1zM692 489h1v1h-1zM693 489h1v1h-1zM694 489h1v1h-1zM695 488h1v1h-1zM696 488h1v1h-1zM697 488h1v1h-1zM698 488h1v1h-1zM699 487h1v1h-1zM700 487h1v1h-1zM701 487h1v1h-1zM702 486h1v1h-1zM703 486h1v1h-1zM704 485h1v1h-1zM705 485h1v1h-1zM706 484h1v1h-1zM707 484h1v1h-1zM708 483h1v1h-1zM709 483h1v1h-1zM710 482h1v1h-1zM711 482h1v1h-1zM712 481h1v1h-1zM713 481h1v1h-1zM714 480h1v1h-1zM715 479h1v1h-1zM716 479h1v1h-1zM717 478h1v1h-1zM718 477h1v1h-1zM719 476h1v1h-1zM720 476h1v1h-1zM721 475h1v1h-1zM722 474h1v1h-1zM723 473h1v1h-1zM724 473h1v1h-1zM725 472h1v1h-1zM726 471h1v1h-1zM727 470h1v1h-1zM728 470h1v1h-1zM729 469h1v1h-1zM730 468h1v1h-1zM731 467h1v1h-1zM732 467h1v1h-1zM733 466h1v1h-1zM734 465h1v1h-1zM735 465h1v1h-1zM736 464h1v1h-1zM737 464h1v1h-1zM738 463h1v1h-1zM739 463h1v1h-1zM740 462h1v1h-1zM741 462h1v1h-1zM742 461h1v1h-1zM743 461h1v1h-1zM744 460h1v1h-1zM745 460h1v1h-1zM746 460h1v1h-1zM747 459h1v1h-1zM748 459h1v1h-1zM749 459h1v1h-1zM750 458h1v1h-1zM751 458h1v1h-1zM752 457h1v1h-1zM753 457h1v1h-1zM754 456h1v1h-1zM755 456h1v1h-1zM756 455h1v1h-1zM757 455h1v1h-1zM758 454h1v1h-1zM759 454h1v1h-1zM760 453h1v1h-1zM761 453h1v1h-1zM762 452h1v1h-1zM763 452h1v1h-1zM764 451h1v1h-1zM765 451h1v1h-1zM766 451h1v1h-1zM767 450h1v1h-1zM768 450h1v1h-1zM769 450h1v1h-1zM770 449h1v1h-1zM771 449h1v1h-1zM772 448h1v1h-1zM773 448h1v1h-1zM774 447h1v1h-1zM775 447h1v1h-1zM776 446h1v1h-1zM777 446h1v1h-1zM778 446h1v1h-1zM779 445h1v1h-1zM780 445h1v1h-1zM781 445h1v1h-1zM782 444h1v1h-1zM783 444h1v1h-1zM784 443h1v1h-1zM785 443h1v1h-1zM786 442h1v1h-1zM787 442h1v1h-1zM788 441h1v1h-1zM789 441h1v1h-1zM790 440h1v1h-1zM791 440h1v1h-1zM792 439h1v1h-1zM793 439h1v1h-1zM794 438h1v1h-1zM795 437h1v1h-1zM796 437h1v1h-1zM797 436h1v1h-1zM798 435h1v1h-1zM799 435h1v1h-1zM800 434h1v1h-1zM801 434h1v1h-1zM802 433h1v1h-1zM803 433h1v1h-1zM804 432h1v1h-1zM805 432h1v1h-1zM806 432h1v1h-1zM807 431h1v1h-1zM808 431h1v1h-1zM809 431h1v1h-1zM810 430h1v1h-1zM811 430h1v1h-1zM812 429h1v1h-1zM813 429h1v1h-1zM814 429h1v1h-1zM815 428h1v1h-1zM816 428h1v1h-1zM817 428h1v1h-1zM818 427h1v1h-1zM819 427h1v1h-1zM820 426h1v1h-1zM821 426h1v1h-1zM822 425h1v1h-1zM823 425h1v1h-1zM824 424h1v1h-1zM825 424h1v1h-1zM826 423h1v1h-1zM827 423h1v1h-1zM828 422h1v1h-1zM829 422h1v1h-1zM830 421h1v1h-1zM831 420h1v1h-1zM832 419h1v1h-1zM833 418h1v1h-1zM834 417h1v1h-1zM835 416h1v1h-1zM836 415h1v1h-1zM837 414h1v1h-1zM838 413h1v1h-1zM839 411h1v2h-1zM840 410h1v1h-1zM841 409h1v1h-1zM842 407h1v2h-1zM843 406h1v1h-1zM844 404h1v2h-1zM845 403h1v1h-1zM846 401h1v2h-1zM847 400h1v1h-1zM848 398h1v2h-1zM849 397h1v1h-1zM850 395h1v2h-1zM851 394h1v1h-1zM852 392h1v2h-1zM853 390h1v2h-1zM854 388h1v2h-1zM855 385h1v3h-1zM856 383h1v2h-1zM857 380h1v3h-1zM858 378h1v2h-1zM859 376h1v2h-1zM860 374h1v2h-1zM861 371h1v3h-1zM862 369h1v2h-1zM863 366h1v3h-1zM864 364h1v2h-1zM865 361h1v3h-1zM866 359h1v2h-1zM867 356h1v3h-1zM868 354h1v2h-1zM869 351h1v3h-1zM870 348h1v3h-1zM871 344h1v4h-1zM872 341h1v3h-1zM873 338h1v3h-1zM874 334h1v4h-1zM875 331h1v3h-1zM876 327h1v4h-1zM877 324h1v3h-1zM878 322h1v2h-1zM879 319h1v3h-1zM880 317h1v2h-1zM881 314h1v3h-1zM882 312h1v2h-1zM883 309h1v3h-1zM884 307h1v2h-1zM885 305h1v2h-1zM886 304h1v1h-1zM887 302h1v2h-1zM888 301h1v1h-1zM889 299h1v2h-1zM890 297h1v2h-1zM891 295h1v2h-1zM892 293h1v2h-1zM893 291h1v2h-1zM894 289h1v2h-1zM895 287h1v2h-1zM896 285h1v2h-1zM897 283h1v2h-1zM898 281h1v2h-1zM899 279h1v2h-1zM900 277h1v2h-1zM901 275h1v2h-1zM902 273h1v2h-1zM903 271h1v2h-1zM904 269h1v2h-1zM905 267h1v2h-1zM906 265h1v2h-1zM907 263h1v2h-1zM908 261h1v2h-1zM909 259h1v2h-1zM910 257h1v2h-1zM911 255h1v2h-1zM912 253h1v2h-1zM913 251h1v2h-1zM914 249h1v2h-1zM915 248h1v1h-1zM916 246h1v2h-1zM917 245h1v1h-1zM918 243h1v2h-1zM919 241h1v2h-1zM920 239h1v2h-1zM921 238h1v1h-1zM922 236h1v2h-1zM923 235h1v1h-1zM924 233h1v2h-1zM925 232h1v1h-1zM926 230h1v2h-1zM927 229h1v1h-1zM928 227h1v2h-1zM929 226h1v1h-1zM930 225h1v1h-1zM931 223h1v2h-1zM932 222h1v1h-1zM933 221h1v1h-1zM934 219h1v2h-1zM935 218h1v1h-1zM936 216h1v2h-1zM937 215h1v1h-1zM938 214h1v1h-1zM939 212h1v2h-1zM940 211h1v1h-1zM941 210h1v1h-1zM942 209h1v1h-1zM943 208h1v1h-1zM944 207h1v1h-1zM945 206h1v1h-1zM946 205h1v1h-1zM947 204h1v1h-1zM948 204h1v1h-1zM949 203h1v1h-1zM950 202h1v1h-1zM951 201h1v1h-1zM952 200h1v1h-1zM953 199h1v1h-1zM954 198h1v1h-1zM955 198h1v1h-1zM956 197h1v1h-1zM957 197h1v1h-1zM958 196h1v1h-1zM959 196h1v1h-1zM960 195h1v1h-1zM961 195h1v1h-1zM962 195h1v1h-1zM963 194h1v1h-1zM964 194h1v1h-1zM965 194h1v1h-1zM966 194h1v1h-1zM967 193h1v1h-1zM968 193h1v1h-1zM969 193h1v1h-1zM970 193h1v1h-1zM971 193h1v1h-1zM972 193h1v1h-1zM973 193h1v1h-1zM974 193h1v1h-1zM975 193h1v1h-1zM976 193h1v1h-1zM977 193h1v1h-1zM978 194h1v1h-1zM979 195h1v1h-1zM980 195h1v1h-1zM981 196h1v1h-1zM982 197h1v1h-1zM983 198h1v1h-1zM984 199h1v1h-1zM985 200h1v1h-1zM986 201h1v1h-1zM987 202h1v1h-1zM988 202h1v1h-1zM989 203h1v1h-1zM990 204h1v1h-1zM991 205h1v1h-1zM992 206h1v1h-1zM993 207h1v1h-1zM994 208h1v1h-1zM995 209h1v1h-1zM996 209h1v1h-1zM997 210h1v1h-1zM998 211h1v1h-1zM999 212h1v1h-1zM1000 213h1v1h-1zM1001 214h1v1h-1zM1002 215h1v1h-1zM1003 216h1v1h-1zM1004 216h1v1h-1zM1005 217h1v1h-1zM1006 217h1v1h-1zM1007 218h1v1h-1zM1008 218h1v1h-1zM1009 218h1v1h-1zM1010 218h1v1h-1zM1011 218h1v1h-1zM1012 218h1v1h-1zM1013 218h1v1h-1zM1014 218h1v1h-1zM1015 219h1v1h-1zM1016 219h1v1h-1zM1017 219h1v1h-1zM1018 219h1v1h-1zM1019 219h1v1h-1zM1020 219h1v1h-1zM1021 219h1v1h-1zM1022 219h1v1h-1zM1023 220h1v1h-1zM1024 220h1v1h-1zM1025 220h1v1h-1zM1026 220h1v1h-1zM1027 220h1v1h-1zM1028 220h1v1h-1zM1029 220h1v1h-1zM1030 221h1v1h-1zM1031 221h1v1h-1zM1032 222h1v1h-1zM1033 222h1v1h-1zM1034 223h1v1h-1zM1035 223h1v1h-1zM1036 224h1v1h-1zM1037 224h1v1h-1zM1038 224h1v1h-1zM1039 225h1v1h-1zM1040 225h1v1h-1zM1041 225h1v1h-1zM1042 226h1v1h-1zM1043 226h1v1h-1zM1044 227h1v1h-1zM1045 227h1v1h-1zM1046 227h1v1h-1zM1047 226h1v1h-1zM1048 226h1v1h-1zM1049 226h1v1h-1zM1050 226h1v1h-1zM1051 226h1v1h-1zM1052 226h1v1h-1zM1053 226h1v1h-1zM1054 226h1v1h-1zM1055 225h1v1h-1zM1056 225h1v1h-1zM1057 225h1v1h-1zM1058 225h1v1h-1zM1059 224h1v1h-1zM1060 224h1v1h-1zM1061 224h1v1h-1zM1062 223h1v1h-1zM1063 223h1v1h-1zM1064 222h1v1h-1zM1065 222h1v1h-1zM1066 222h1v1h-1zM1067 222h1v1h-1zM1068 222h1v1h-1zM1069 222h1v1h-1zM1070 222h1v1h-1zM1071 222h1v1h-1zM1072 222h1v1h-1zM1073 222h1v1h-1zM1074 223h1v1h-1zM1075 223h1v1h-1zM1076 224h1v1h-1zM1077 224h1v1h-1zM1078 225h1v1h-1zM1079 225h1v1h-1zM1080 226h1v1h-1zM1081 226h1v1h-1zM1082 226h1v1h-1zM1083 226h1v1h-1zM1084 226h1v1h-1zM1085 226h1v1h-1zM1086 226h1v1h-1zM1087 226h1v1h-1zM1088 226h1v1h-1zM1089 226h1v1h-1zM1090 226h1v1h-1zM1091 227h1v1h-1zM1092 227h1v1h-1zM1093 227h1v1h-1zM1094 228h1v1h-1zM1095 229h1v1h-1zM1096 229h1v1h-1zM1097 230h1v1h-1zM1098 231h1v1h-1zM1099 232h1v1h-1zM1100 232h1v1h-1zM1101 233h1v1h-1zM1102 234h1v1h-1zM1103 235h1v1h-1zM1104 235h1v1h-1zM1105 236h1v1h-1zM1106 237h1v1h-1zM1107 238h1v1h-1zM1108 238h1v1h-1zM1109 239h1v1h-1zM1110 240h1v1h-1zM1111 241h1v1h-1zM1112 241h1v1h-1zM1113 242h1v1h-1zM1114 243h1v1h-1zM1115 244h1v1h-1zM1116 245h1v1h-1zM1117 246h1v1h-1zM1118 247h1v1h-1zM1119 248h1v1h-1zM1120 249h1v1h-1zM1121 250h1v1h-1zM1122 251h1v1h-1zM1123 252h1v1h-1zM1124 253h1v1h-1zM1125 254h1v1h-1zM1126 255h1v1h-1zM1127 256h1v1h-1zM1128 257h1v1h-1zM1129 258h1v1h-1zM1130 259h1v1h-1zM1131 260h1v2h-1zM1132 262h1v1h-1zM1133 263h1v1h-1zM1134 264h1v2h-1zM1135 266h1v1h-1zM1136 267h1v2h-1zM1137 269h1v1h-1zM1138 270h1v2h-1zM1139 272h1v1h-1zM1140 273h1v2h-1zM1141 275h1v1h-1zM1142 276h1v2h-1zM1143 278h1v1h-1zM1144 279h1v2h-1zM1145 281h1v1h-1zM1146 282h1v2h-1zM1147 284h1v1h-1zM1148 285h1v2h-1zM1149 287h1v1h-1zM1150 288h1v1h-1zM1151 289h1v1h-1zM1152 290h1v1h-1zM1153 291h1v1h-1zM1154 292h1v1h-1zM1155 293h1v1h-1zM1156 294h1v1h-1zM1157 295h1v1h-1zM1158 296h1v1h-1zM1159 297h1v1h-1zM1160 298h1v1h-1zM1161 299h1v1h-1zM1162 300h1v1h-1zM1163 301h1v1h-1zM1164 302h1v1h-1zM1165 303h1v1h-1zM1166 304h1v1h-1zM1167 305h1v1h-1zM1168 306h1v1h-1zM1169 307h1v1h-1zM1170 308h1v1h-1zM1171 309h1v1h-1zM1172 310h1v1h-1zM1173 311h1v1h-1zM1174 312h1v1h-1zM1175 313h1v1h-1zM1176 314h1v1h-1zM1177 315h1v1h-1zM1178 316h1v1h-1zM1179 317h1v1h-1zM1180 318h1v1h-1zM1181 319h1v1h-1zM1182 320h1v1h-1zM1183 321h1v2h-1zM1184 323h1v1h-1zM1185 324h1v1h-1zM1186 325h1v1h-1zM1187 326h1v1h-1zM1188 327h1v1h-1zM1189 328h1v1h-1zM1190 329h1v1h-1zM1191 330h1v1h-1zM1192 330h1v1h-1zM1193 331h1v1h-1zM1194 332h1v1h-1zM1195 333h1v1h-1zM1196 333h1v1h-1zM1197 334h1v1h-1zM1198 335h1v1h-1zM1199 336h1v1h-1zM1200 336h1v1h-1zM1201 337h1v1h-1zM1202 338h1v1h-1zM1203 339h1v1h-1zM1204 339h1v1h-1zM1205 340h1v1h-1zM1206 341h1v1h-1zM1207 342h1v1h-1zM1208 342h1v1h-1zM1209 343h1v1h-1zM1210 344h1v1h-1zM1211 344h1v1h-1zM1212 345h1v1h-1zM1213 345h1v1h-1zM1214 346h1v1h-1zM1215 346h1v1h-1zM1216 347h1v1h-1zM1217 347h1v1h-1zM1218 348h1v1h-1zM1219 348h1v1h-1zM1220 349h1v1h-1zM1221 349h1v1h-1zM1222 350h1v1h-1zM1223 350h1v1h-1zM1224 351h1v1h-1zM1225 351h1v1h-1zM1226 352h1v1h-1zM1227 352h1v1h-1zM1228 353h1v1h-1zM1229 353h1v1h-1zM1230 354h1v1h-1zM1231 354h1v1h-1zM1232 355h1v1h-1zM1233 355h1v1h-1zM1234 355h1v1h-1zM1235 356h1v1h-1zM1236 356h1v1h-1zM1237 356h1v1h-1zM1238 356h1v1h-1zM1239 356h1v1h-1zM1240 356h1v1h-1zM1241 356h1v1h-1zM1242 356h1v1h-1zM1243 355h1v1h-1zM1244 355h1v1h-1zM1245 355h1v1h-1zM1246 355h1v1h-1zM1247 354h1v1h-1zM1248 354h1v1h-1zM1249 354h1v1h-1zM1250 354h1v1h-1zM1251 353h1v1h-1zM1252 353h1v1h-1zM1253 353h1v1h-1zM1254 352h1v1h-1zM1255 352h1v1h-1zM1256 351h1v1h-1zM1257 351h1v1h-1zM1258 350h1v1h-1zM1259 350h1v1h-1zM1260 349h1v1h-1zM1261 349h1v1h-1zM1262 348h1v1h-1zM1263 348h1v1h-1zM1264 347h1v1h-1zM1265 347h1v1h-1zM1266 347h1v1h-1zM1267 346h1v1h-1zM1268 346h1v1h-1zM1269 346h1v1h-1z"/>
<path fill="#ff0000" d="M5 483h1v1h-1zM6 483h1v1h-1zM7 484h1v1h-1zM8 484h1v1h-1zM9 484h1v1h-1zM10 485h1v1h-1zM11 485h1v1h-1zM12 486h1v1h-1zM13 486h1v1h-1zM14 486h1v1h-1zM15 487h1v1h-1zM16 487h1v1h-1zM17 487h1v1h-1zM18 487h1v1h-1zM19 488h1v1h-1zM20 488h1v1h-1zM21 488h1v1h-1zM22 488h1v1h-1zM23 488h1v1h-1zM24 488h1v1h-1zM25 488h1v1h-1zM26 488h1v1h-1zM27 488h1v1h-1zM28 488h1v1h-1zM29 488h1v1h-1zM30 488h1v1h-1zM31 488h1v1h-1zM32 488h1v1h-1zM33 488h1v1h-1zM34 488h1v1h-1zM35 488h1v1h-1zM36 488h1v1h-1zM37 488h1v1h-1zM38 488h1v1h-1zM39 487h1v1h-1zM40 487h1v1h-1zM41 487h1v1h-1zM42 487h1v1h-1zM43 487h1v1h-1zM44 487h1v1h-1zM45 487h1v1h-1zM46 486h1v1h-1zM47 486h1v1h-1zM48 485h1v1h-1zM49 485h1v1h-1zM50 484h1v1h-1zM51 484h1v1h-1zM52 483h1v1h-1zM53 483h1v1h-1zM54 482h1v1h-1zM55 482h1v1h-1zM56 481h1v1h-1zM57 481h1v1h-1zM58 480h1v1h-1zM59 480h1v1h-1zM60 479h1v1h-1zM61 479h1v1h-1zM62 478h1v1h-1zM63 478h1v1h-1zM64 477h1v1h-1zM65 477h1v1h-1zM66 476h1v1h-1zM67 476h1v1h-1zM68 475h1v1h-1zM69 475h1v1h-1zM70 474h1v1h-1zM71 473h1v1h-1zM72 473h1v1h-1zM73 472h1v1h-1zM74 471h1v1h-1zM75 470h1v1h-1zM76 470h1v1h-1zM77 469h1v1h-1zM78 468h1v1h-1zM79 467h1v1h-1zM80 467h1v1h-1zM81 466h1v1h-1zM82 465h1v1h-1zM83 465h1v1h-1zM84 464h1v1h-1zM85 464h1v1h-1zM86 463h1v1h-1zM87 462h1v1h-1zM88 462h1v1h-1zM89 461h1v1h-1zM90 460h1v1h-1zM91 458h1v2h-1zM92 457h1v1h-1zM93 456h1v1h-1zM94 455h1v1h-1zM95 455h1v1h-1zM96 454h1v1h-1zM97 454h1v1h-1zM98 453h1v1h-1zM99 453h1v1h-1zM100 452h1v1h-1zM101 452h1v1h-1zM102 452h1v1h-1zM103 451h1v1h-1zM104 451h1v1h-1zM105 451h1v1h-1zM106 451h1v1h-1zM107 450h1v1h-1zM108 450h1v1h-1zM109 450h1v1h-1zM110 450h1v1h-1zM111 449h1v1h-1zM112 449h1v1h-1zM113 449h1v1h-1zM114 448h1v1h-1zM115 447h1v1h-1zM116 447h1v1h-1zM117 446h1v1h-1zM118 445h1v1h-1zM119 444h1v1h-1zM120 444h1v1h-1zM121 443h1v1h-1zM122 442h1v1h-1zM123 441h1v1h-1zM124 441h1v1h-1zM125 440h1v1h-1zM126 440h1v1h-1zM127 439h1v1h-1zM128 439h1v1h-1zM129 439h1v1h-1zM130 438h1v1h-1zM131 438h1v1h-1zM132 437h1v1h-1zM133 437h1v1h-1zM134 436h1v1h-1zM135 436h1v1h-1zM136 435h1v1h-1zM137 435h1v1h-1zM138 434h1v1h-1zM139 434h1v1h-1zM140 433h1v1h-1zM141 433h1v1h-1zM142 433h1v1h-1zM143 433h1v1h-1zM144 433h1v1h-1zM145 433h1v1h-1zM146 433h1v1h-1zM147 432h1v1h-1zM148 432h1v1h-1zM149 432h1v1h-1zM150 432h1v1h-1zM151 431h1v1h-1zM152 431h1v1h-1zM153 431h1v1h-1zM154 431h1v1h-1zM155 430h1v1h-1zM156 430h1v1h-1zM157 430h1v1h-1zM158 430h1v1h-1zM159 429h1v1h-1zM160 429h1v1h-1zM161 429h1v1h-1zM162 429h1v1h-1zM163 428h1v1h-1zM164 428h1v1h-1zM165 428h1v1h-1zM166 428h1v1h-1zM167 428h1v1h-1zM168 428h1v1h-1zM169 428h1v1h-1zM170 428h1v1h-1zM171 427h1v1h-1zM172 427h1v1h-1zM173 427h1v1h-1zM174 427h1v1h-1zM175 427h1v1h-1zM176 427h1v1h-1zM177 427h1v1h-1zM178 427h1v1h-1zM179 426h1v1h-1zM180 426h1v1h-1zM181 426h1v1h-1zM182 426h1v1h-1zM183 426h1v1h-1zM184 426h1v1h-1zM185 426h1v1h-1zM186 426h1v1h-1zM187 426h1v1h-1zM188 426h1v1h-1zM189 426h1v1h-1zM190 427h1v1h-1zM191 427h1v1h-1zM192 428h1v1h-1zM193 428h1v1h-1zM194 429h1v1h-1zM195 429h1v1h-1zM196 430h1v1h-1zM197 430h1v1h-1zM198 431h1v1h-1zM199 432h1v1h-1zM200 432h1v1h-1zM201 433h1v1h-1zM202 434h1v1h-1zM203 434h1v1h-1zM204 435h1v1h-1zM205 435h1v1h-1zM206 436h1v1h-1zM207 436h1v1h-1zM208 437h1v1h-1zM209 437h1v1h-1zM210 438h1v1h-1zM211 439h1v1h-1zM212 439h1v1h-1zM213 440h1v1h-1zM214 440h1v1h-1zM215 441h1v1h-1zM216 441h1v1h-1zM217 441h1v1h-1zM218 441h1v1h-1zM219 441h1v1h-1zM220 441h1v1h-1zM221 441h1v1h-1zM222 441h1v1h-1zM223 442h1v1h-1zM224 442h1v1h-1zM225 442h1v1h-1zM226 442h1v1h-1zM227 443h1v1h-1zM228 443h1v1h-1zM229 443h1v1h-1zM230 444h1v1h-1zM231 444h1v1h-1zM232 445h1v1h-1zM233 445h1v1h-1zM234 445h1v1h-1zM235 446h1v1h-1zM236 446h1v1h-1zM237 446h1v1h-1zM238 446h1v1h-1zM239 447h1v1h-1zM240 447h1v1h-1zM241 447h1v1h-1zM242 447h1v1h-1zM243 447h1v1h-1zM244 447h1v1h-1zM245 447h1v1h-1zM246 447h1v1h-1zM247 446h1v1h-1zM248 446h1v1h-1zM249 446h1v1h-1zM250 445h1v1h-1zM251 445h1v1h-1zM252 444h1v1h-1zM253 444h1v1h-1zM254 443h1v1h-1zM255 443h1v1h-1zM256 442h1v1h-1zM257 442h1v1h-1zM258 441h1v1h-1zM259 441h1v1h-1zM260 440h1v1h-1zM261 440h1v1h-1zM262 439h1v1h-1zM263 438h1v1h-1zM264 438h1v1h-1zM265 437h1v1h-1zM266 436h1v1h-1zM267 436h1v1h-1zM268 435h1v1h-1zM269 435h1v1h-1zM270 435h1v1h-1zM271 436h1v1h-1zM272 436h1v1h-1zM273 436h1v1h-1zM274 436h1v1h-1zM275 436h1v1h-1zM276 436h1v1h-1zM277 436h1v1h-1zM278 436h1v1h-1zM279 436h1v1h-1zM280 436h1v1h-1zM281 436h1v1h-1zM282 436h1v1h-1zM283 436h1v1h-1zM284 436h1v1h-1zM285 436h1v1h-1zM286 436h1v1h-1zM287 435h1v1h-1zM288 435h1v1h-1zM289 435h1v1h-1zM290 435h1v1h-1zM291 434h1v1h-1zM292 434h1v1h-1zM293 434h1v1h-1zM294 433h1v1h-1zM295 433h1v1h-1zM296 432h1v1h-1zM297 432h1v1h-1zM298 432h1v1h-1zM299 431h1v1h-1zM300 431h1v1h-1zM301 431h1v1h-1zM302 431h1v1h-1zM303 430h1v1h-1zM304 430h1v1h-1zM305 430h1v1h-1zM306 430h1v1h-1zM307 429h1v1h-1zM308 429h1v1h-1zM309 429h1v1h-1zM310 429h1v1h-1zM311 428h1v1h-1zM312 428h1v1h-1zM313 428h1v1h-1zM314 429h1v1h-1zM315 429h1v1h-1zM316 430h1v1h-1zM317 430h1v1h-1zM318 431h1v1h-1zM319 431h1v1h-1zM320 432h1v1h-1zM321 432h1v1h-1zM322 432h1v1h-1zM323 432h1v1h-1zM324 432h1v1h-1zM325 432h1v1h-1zM326 432h1v1h-1zM327 433h1v1h-1zM328 433h1v1h-1zM329 433h1v1h-1zM330 433h1v1h-1zM331 434h1v1h-1zM332 434h1v1h-1zM333 434h1v1h-1zM334 435h1v1h-1zM335 436h1v1h-1zM336 436h1v1h-1zM337 437h1v1h-1zM338 438h1v1h-1zM339 439h1v1h-1zM340 440h1v1h-1zM341 441h1v1h-1zM342 442h1v1h-1zM343 443h1v1h-1zM344 443h1v1h-1zM345 444h1v1h-1zM346 445h1v1h-1zM347 446h1v1h-1zM348 447h1v1h-1zM349 448h1v1h-1zM350 449h1v1h-1zM351 450h1v1h-1zM352 451h1v1h-1zM353 452h1v1h-1zM354 453h1v1h-1zM355 454h1v2h-1zM356 456h1v1h-1zM357 457h1v1h-1zM358 458h1v1h-1zM359 459h1v1h-1zM360 460h1v1h-1zM361 461h1v1h-1zM362 462h1v1h-1zM363 463h1v2h-1zM364 465h1v1h-1zM365 466h1v1h-1zM366 467h1v1h-1zM367 468h1v2h-1zM368 470h1v1h-1zM369 471h1v1h-1zM370 472h1v1h-1zM371 473h1v1h-1zM372 473h1v1h-1zM373 474h1v1h-1zM374 475h1v1h-1zM375 475h1v1h-1zM376 476h1v1h-1zM377 476h1v1h-1zM378 476h1v1h-1zM379 477h1v1h-1zM380 477h1v1h-1zM381 477h1v1h-1zM382 477h1v1h-1zM383 478h1v1h-1zM384 478h1v1h-1zM385 478h1v1h-1zM386 478h1v1h-1zM387 479h1v1h-1zM388 479h1v1h-1zM389 479h1v1h-1zM390 479h1v1h-1zM391 479h1v1h-1zM392 479h1v1h-1zM393 479h1v1h-1zM394 479h1v1h-1zM395 479h1v1h-1zM396 479h1v1h-1zM397 479h1v1h-1zM398 479h1v1h-1zM399 478h1v1h-1zM400 478h1v1h-1zM401 478h1v1h-1zM402 477h1v1h-1zM403 477h1v1h-1zM404 476h1v1h-1zM405 476h1v1h-1zM406 475h1v1h-1zM407 475h1v1h-1zM408 474h1v1h-1zM409 474h1v1h-1zM410 473h1v1h-1zM411 473h1v1h-1zM412 472h1v1h-1zM413 472h1v1h-1zM414 471h1v1h-1zM415 470h1v1h-1zM416 470h1v1h-1zM417 469h1v1h-1zM418 468h1v1h-1zM419 467h1v1h-1zM420 467h1v1h-1zM421 466h1v1h-1zM422 465h1v1h-1zM423 464h1v1h-1zM424 464h1v1h-1zM425 463h1v1h-1zM426 462h1v1h-1zM427 461h1v1h-1zM428 460h1v1h-1zM429 459h1v1h-1zM430 458h1v1h-1zM431 458h1v1h-1zM432 457h1v1h-1zM433 457h1v1h-1zM434 456h1v1h-1zM435 456h1v1h-1zM436 455h1v1h-1zM437 455h1v1h-1zM438 454h1v1h-1zM439 454h1v1h-1zM440 453h1v1h-1zM441 453h1v1h-1zM442 453h1v1h-1zM443 452h1v1h-1zM444 452h1v1h-1zM445 452h1v1h-1zM446 451h1v1h-1zM447 451h1v1h-1zM448 450h1v1h-1zM449 450h1v1h-1zM450 449h1v1h-1zM451 448h1v1h-1zM452 448h1v1h-1zM453 447h1v1h-1zM454 446h1v1h-1zM455 446h1v1h-1zM456 445h1v1h-1zM457 445h1v1h-1zM458 444h1v1h-1zM459 444h1v1h-1zM460 443h1v1h-1zM461 443h1v1h-1zM462 442h1v1h-1zM463 441h1v1h-1zM464 441h1v1h-1zM465 440h1v1h-1zM466 439h1v1h-1zM467 439h1v1h-1zM468 438h1v1h-1zM469 438h1v1h-1zM470 438h1v1h-1zM471 437h1v1h-1zM472 437h1v1h-1zM473 437h1v1h-1zM474 437h1v1h-1zM475 436h1v1h-1zM476 436h1v1h-1zM477 436h1v1h-1zM478 436h1v1h-1zM479 435h1v1h-1zM480 435h1v1h-1zM481 435h1v1h-1zM482 435h1v1h-1zM483 434h1v1h-1zM484 434h1v1h-1zM485 434h1v1h-1zM486 434h1v1h-1zM487 433h1v1h-1zM488 433h1v1h-1zM489 433h1v1h-1zM490 433h1v1h-1zM491 432h1v1h-1zM492 432h1v1h-1zM493 432h1v1h-1zM494 432h1v1h-1zM495 431h1v1h-1zM496 431h1v1h-1zM497 431h1v1h-1zM498 431h1v1h-1zM499 430h1v1h-1zM500 430h1v1h-1zM501 430h1v1h-1zM502 430h1v1h-1zM503 431h1v1h-1zM504 431h1v1h-1zM505 431h1v1h-1zM506 431h1v1h-1zM507 432h1v1h-1zM508 432h1v1h-1zM509 432h1v1h-1zM510 432h1v1h-1zM511 432h1v1h-1zM512 432h1v1h-1zM513 432h1v1h-1zM514 432h1v1h-1zM515 433h1v1h-1zM516 433h1v1h-1zM517 433h1v1h-1zM518 433h1v1h-1zM519 434h1v1h-1zM520 434h1v1h-1zM521 434h1v1h-1zM522 434h1v1h-1zM523 435h1v1h-1zM524 435h1v1h-1zM525 435h1v1h-1zM526 436h1v1h-1zM527 436h1v1h-1zM528 437h1v1h-1zM529 437h1v1h-1zM530 438h1v1h-1zM531 439h1v1h-1zM532 439h1v1h-1zM533 440h1v1h-1zM534 441h1v1h-1zM535 441h1v1h-1zM536 442h1v1h-1zM537 442h1v1h-1zM538 443h1v1h-1zM539 443h1v1h-1zM540 444h1v1h-1zM541 444h1v1h-1zM542 445h1v1h-1zM543 446h1v1h-1zM544 446h1v1h-1zM545 447h1v1h-1zM546 448h1v1h-1zM547 449h1v1h-1zM548 450h1v1h-1zM549 451h1v1h-1zM550 452h1v1h-1zM551 453h1v1h-1zM552 453h1v1h-1zM553 454h1v1h-1zM554 454h1v1h-1zM555 455h1v1h-1zM556 455h1v1h-1zM557 455h1v1h-1zM558 455h1v1h-1zM559 455h1v1h-1zM560 455h1v1h-1zM561 455h1v1h-1zM562 456h1v1h-1zM563 456h1v1h-1zM564 457h1v1h-1zM565 457h1v1h-1zM566 458h1v1h-1zM567 458h1v1h-1zM568 459h1v1h-1zM569 459h1v1h-1zM570 460h1v1h-1zM571 460h1v1h-1zM572 461h1v1h-1zM573 461h1v1h-1zM574 462h1v1h-1zM575 462h1v1h-1zM576 463h1v1h-1zM577 463h1v1h-1zM578 464h1v1h-1zM579 464h1v1h-1zM580 465h1v1h-1zM581 465h1v1h-1zM582 466h1v1h-1zM583 466h1v1h-1zM584 467h1v1h-1zM585 467h1v1h-1zM586 468h1v1h-1zM587 469h1v1h-1zM588 469h1v1h-1zM589 470h1v1h-1zM590 471h1v1h-1zM591 472h1v1h-1zM592 473h1v1h-1zM593 474h1v1h-1zM594 475h1v1h-1zM595 476h1v1h-1zM596 477h1v1h-1zM597 478h1v1h-1zM598 479h1v1h-1zM599 480h1v1h-1zM600 480h1v1h-1zM601 481h1v1h-1zM602 482h1v1h-1zM603 483h1v1h-1zM604 483h1v1h-1zM605 484h1v1h-1zM606 485h1v1h-1zM607 486h1v1h-1zM608 486h1v1h-1zM609 487h1v1h-1zM610 488h1v1h-1zM611 489h1v1h-1zM612 489h1v1h-1zM613 490h1v1h-1zM614 491h1v1h-1zM615 492h1v1h-1zM616 492h1v1h-1zM617 493h1v1h-1zM618 494h1v1h-1zM619 494h1v1h-1zM620 495h1v1h-1zM621 495h1v1h-1zM622 496h1v1h-1zM623 497h1v1h-1zM624 497h1v1h-1zM625 498h1v1h-1zM626 498h1v1h-1zM627 499h1v1h-1zM628 499h1v1h-1zM629 499h1v1h-1zM630 500h1v1h-1zM631 500h1v1h-1zM632 501h1v1h-1zM633 501h1v1h-1zM634 501h1v1h-1zM635 501h1v1h-1zM636 501h1v1h-1zM637 501h1v1h-1zM638 501h1v1h-1zM639 501h1v1h-1zM640 501h1v1h-1zM641 501h1v1h-1zM642 502h1v1h-1zM643 502h1v1h-1zM644 503h1v1h-1zM645 503h1v1h-1zM646 502h1v1h-1zM647 502h1v1h-1zM648 501h1v1h-1zM649 501h1v1h-1zM650 500h1v1h-1zM651 500h1v1h-1zM652 499h1v1h-1zM653 499h1v1h-1zM654 498h1v1h-1zM655 498h1v1h-1zM656 497h1v1h-1zM657 497h1v1h-1zM658 496h1v1h-1zM659 496h1v1h-1zM660 495h1v1h-1zM661 495h1v1h-1zM662 494h1v1h-1zM663 494h1v1h-1zM664 493h1v1h-1zM665 493h1v1h-1zM666 492h1v1h-1zM667 492h1v1h-1zM668 491h1v1h-1zM669 491h1v1h-1zM670 490h1v1h-1zM671 490h1v1h-1zM672 489h1v1h-1zM673 489h1v1h-1zM674 488h1v1h-1zM675 488h1v1h-1zM676 487h1v1h-1zM677 487h1v1h-1zM678 487h1v1h-1zM679 486h1v1h-1zM680 486h1v1h-1zM681 486h1v1h-1zM682 485h1v1h-1zM683 485h1v1h-1zM684 484h1v1h-1zM685 484h1v1h-1zM686 483h1v1h-1zM687 482h1v1h-1zM688 482h1v1h-1zM689 481h1v1h-1zM690 480h1v1h-1zM691 480h1v1h-1zM692 479h1v1h-1zM693 479h1v1h-1zM694 478h1v1h-1zM695 477h1v1h-1zM696 476h1v1h-1zM697 475h1v1h-1zM698 474h1v1h-1zM699 473h1v1h-1zM700 473h1v1h-1zM701 472h1v1h-1zM702 471h1v1h-1zM703 470h1v1h-1zM704 470h1v1h-1zM705 469h1v1h-1zM706 468h1v1h-1zM707 467h1v1h-1zM708 466h1v1h-1zM709 465h1v1h-1zM710 464h1v1h-1zM711 463h1v1h-1zM712 462h1v1h-1zM713 461h1v1h-1zM714 460h1v1h-1zM715 458h1v2h-1zM716 457h1v1h-1zM717 456h1v1h-1zM718 455h1v1h-1zM719 454h1v1h-1zM720 453h1v1h-1zM721 452h1v1h-1zM722 451h1v1h-1zM723 450h1v1h-1zM724 449h1v1h-1zM725 448h1v1h-1zM726 447h1v1h-1zM727 446h1v1h-1zM728 445h1v1h-1zM729 444h1v1h-1zM730 443h1v1h-1zM731 442h1v1h-1zM732 442h1v1h-1zM733 441h1v1h-1zM734 440h1v1h-1zM735 439h1v1h-1zM736 439h1v1h-1zM737 438h1v1h-1zM738 437h1v1h-1zM739 437h1v1h-1zM740 436h1v1h-1zM741 436h1v1h-1zM742 435h1v1h-1zM743 435h1v1h-1zM744 434h1v1h-1zM745 434h1v1h-1zM746 434h1v1h-1zM747 433h1v1h-1zM748 433h1v1h-1zM749 433h1v1h-1zM750 433h1v1h-1zM751 433h1v1h-1zM752 433h1v1h-1zM753 433h1v1h-1zM754 433h1v1h-1zM755 432h1v1h-1zM756 432h1v1h-1zM757 432h1v1h-1zM758 432h1v1h-1zM759 432h1v1h-1zM760 432h1v1h-1zM761 432h1v1h-1zM762 432h1v1h-1zM763 432h1v1h-1zM764 432h1v1h-1zM765 432h1v1h-1zM766 432h1v1h-1zM767 433h1v1h-1zM768 433h1v1h-1zM769 433h1v1h-1zM770 434h1v1h-1zM771 434h1v1h-1zM772 435h1v1h-1zM773 435h1v1h-1zM774 435h1v1h-1zM775 436h1v1h-1zM776 436h1v1h-1zM777 436h1v1h-1zM778 436h1v1h-1zM779 437h1v1h-1zM780 437h1v1h-1zM781 437h1v1h-1zM782 437h1v1h-1zM783 437h1v1h-1zM784 437h1v1h-1zM785 437h1v1h-1zM786 437h1v1h-1zM787 437h1v1h-1zM788 437h1v1h-1zM789 437h1v1h-1zM790 436h1v1h-1zM791 436h1v1h-1zM792 435h1v1h-1zM793 435h1v1h-1zM794 434h1v1h-1zM795 434h1v1h-1zM796 433h1v1h-1zM797 433h1v1h-1zM798 432h1v1h-1zM799 431h1v1h-1zM800 431h1v1h-1zM801 430h1v1h-1zM802 429h1v1h-1zM803 429h1v1h-1zM804 428h1v1h-1zM805 428h1v1h-1zM806 427h1v1h-1zM807 427h1v1h-1zM808 426h1v1h-1zM809 426h1v1h-1zM810 425h1v1h-1zM811 424h1v1h-1zM812 424h1v1h-1zM813 423h1v1h-1zM814 422h1v1h-1zM815 421h1v1h-1zM816 421h1v1h-1zM817 420h1v1h-1zM818 419h1v1h-1zM819 418h1v1h-1zM820 418h1v1h-1zM821 417h1v1h-1zM822 416h1v1h-1zM823 415h1v1h-1zM824 414h1v1h-1zM825 413h1v1h-1zM826 411h1v2h-1zM827 410h1v1h-1zM828 408h1v2h-1zM829 407h1v1h-1zM830 405h1v2h-1zM831 403h1v2h-1zM832 401h1v2h-1zM833 398h1v3h-1zM834 395h1v3h-1zM835 393h1v2h-1zM836 390h1v3h-1zM837 387h1v3h-1zM838 384h1v3h-1zM839 382h1v2h-1zM840 379h1v3h-1zM841 376h1v3h-1zM842 373h1v3h-1zM843 370h1v3h-1zM844 367h1v3h-1zM845 364h1v3h-1zM846 361h1v3h-1zM847 358h1v3h-1zM848 355h1v3h-1zM849 352h1v3h-1zM850 349h1v3h-1zM851 345h1v4h-1zM852 342h1v3h-1zM853 338h1v4h-1zM854 334h1v4h-1zM855 330h1v4h-1zM856 326h1v4h-1zM857 321h1v5h-1zM858 317h1v4h-1zM859 313h1v4h-1zM860 309h1v4h-1zM861 304h1v5h-1zM862 299h1v5h-1zM863 294h1v5h-1zM864 289h1v5h-1zM865 284h1v5h-1zM866 279h1v5h-1zM867 273h1v6h-1zM868 268h1v5h-1zM869 263h1v5h-1zM870 257h1v6h-1zM871 251h1v6h-1zM872 245h1v6h-1zM873 240h1v5h-1zM874 235h1v5h-1zM875 229h1v6h-1zM876 224h1v5h-1zM877 219h1v5h-1zM878 214h1v5h-1zM879 209h1v5h-1zM880 204h1v5h-1zM881 199h1v5h-1zM882 195h1v4h-1zM883 191h1v4h-1zM884 187h1v4h-1zM885 184h1v3h-1zM886 182h1v2h-1zM887 180h1v2h-1zM888 178h1v2h-1zM889 177h1v1h-1zM890 176h1v1h-1zM891 174h1v2h-1zM892 173h1v1h-1zM893 172h1v1h-1zM894 171h1v1h-1zM895 170h1v1h-1zM896 170h1v1h-1zM897 169h1v1h-1zM898 168h1v1h-1zM899 168h1v1h-1zM900 167h1v1h-1zM901 167h1v1h-1zM902 166h1v1h-1zM903 165h1v1h-1zM904 164h1v1h-1zM905 163h1v1h-1zM906 162h1v1h-1zM907 161h1v1h-1zM908 160h1v1h-1zM909 159h1v1h-1zM910 159h1v1h-1zM911 160h1v1h-1zM912 160h1v1h-1zM913 160h1v1h-1zM914 161h1v2h-1zM915 163h1v2h-1zM916 165h1v2h-1zM917 167h1v1h-1zM918 168h1v2h-1zM919 170h1v2h-1zM920 172h1v2h-1zM921 174h1v1h-1zM922 175h1v2h-1zM923 177h1v2h-1zM924 179h1v2h-1zM925 181h1v1h-1zM926 182h1v2h-1zM927 184h1v2h-1zM928 186h1v2h-1zM929 188h1v1h-1zM930 189h1v2h-1zM931 191h1v2h-1zM932 193h1v2h-1zM933 195h1v2h-1zM934 197h1v2h-1zM935 199h1v2h-1zM936 201h1v2h-1zM937 203h1v3h-1zM938 206h1v2h-1zM939 208h1v2h-1zM940 210h1v2h-1zM941 212h1v2h-1zM942 214h1v1h-1zM943 214h1v1h-1zM944 215h1v1h-1zM945 215h1v1h-1zM946 216h1v1h-1zM947 216h1v1h-1zM948 217h1v1h-1zM949 217h1v1h-1zM950 217h1v1h-1zM951 218h1v1h-1zM952 218h1v1h-1zM953 218h1v1h-1zM954 218h1v1h-1zM955 219h1v1h-1zM956 219h1v1h-1zM957 219h1v1h-1zM958 219h1v1h-1zM959 220h1v1h-1zM960 220h1v1h-1zM961 220h1v1h-1zM962 221h1v1h-1zM963 222h1v1h-1zM964 222h1v1h-1zM965 223h1v1h-1zM966 223h1v1h-1zM967 224h1v1h-1zM968 224h1v1h-1zM969 224h1v1h-1zM970 225h1v1h-1zM971 225h1v1h-1zM972 226h1v1h-1zM973 226h1v1h-1zM974 226h1v1h-1zM975 226h1v1h-1zM976 226h1v1h-1zM977 226h1v1h-1zM978 226h1v1h-1zM979 225h1v1h-1zM980 225h1v1h-1zM981 225h1v1h-1zM982 225h1v1h-1zM983 225h1v1h-1zM984 225h1v1h-1zM985 225h1v1h-1zM986 224h1v1h-1zM987 224h1v1h-1zM988 223h1v1h-1zM989 223h1v1h-1zM990 222h1v1h-1zM991 222h1v1h-1zM992 221h1v1h-1zM993 221h1v1h-1zM994 220h1v1h-1zM995 220h1v1h-1zM996 219h1v1h-1zM997 219h1v1h-1zM998 219h1v1h-1zM999 219h1v1h-1zM1000 219h1v1h-1zM1001 219h1v1h-1zM1002 219h1v1h-1zM1003 219h1v1h-1zM1004 219h1v1h-1zM1005 219h1v1h-1zM1006 219h1v1h-1zM1007 219h1v1h-1zM1008 219h1v1h-1zM1009 219h1v1h-1zM1010 219h1v1h-1zM1011 219h1v1h-1zM1012 219h1v1h-1zM1013 219h1v1h-1zM1014 219h1v1h-1zM1015 219h1v1h-1zM1016 219h1v1h-1zM1017 219h1v1h-1zM1018 219h1v1h-1zM1019 219h1v1h-1zM1020 219h1v1h-1zM1021 219h1v1h-1zM1022 219h1v1h-1zM1023 220h1v1h-1zM1024 220h1v1h-1zM1025 220h1v1h-1zM1026 220h1v1h-1zM1027 221h1v1h-1zM1028 221h1v1h-1zM1029 221h1v1h-1zM1030 221h1v1h-1zM1031 222h1v1h-1zM1032 222h1v1h-1zM1033 222h1v1h-1zM1034 223h1v1h-1zM1035 223h1v1h-1zM1036 224h1v1h-1zM1037 224h1v1h-1zM1038 225h1v1h-1zM1039 226h1v1h-1zM1040 226h1v1h-1zM1041 227h1v1h-1zM1042 227h1v1h-1zM1043 228h1v1h-1zM1044 228h1v1h-1zM1045 228h1v1h-1zM1046 228h1v1h-1zM1047 229h1v1h-1zM1048 229h1v1h-1zM1049 229h1v1h-1zM1050 229h1v1h-1zM1051 229h1v1h-1zM1052 229h1v1h-1zM1053 229h1v1h-1zM1054 228h1v1h-1zM1055 227h1v1h-1zM1056 227h1v1h-1zM1057 226h1v1h-1zM1058 226h1v1h-1zM1059 225h1v1h-1zM1060 225h1v1h-1zM1061 225h1v1h-1zM1062 224h1v1h-1zM1063 224h1v1h-1zM1064 223h1v1h-1zM1065 223h1v1h-1zM1066 224h1v1h-1zM1067 224h1v1h-1zM1068 225h1v1h-1zM1069 225h1v1h-1zM1070 226h1v1h-1zM1071 227h1v1h-1zM1072 228h1v1h-1zM1073 229h1v1h-1zM1074 230h1v1h-1zM1075 230h1v1h-1zM1076 231h1v1h-1zM1077 231h1v1h-1zM1078 232h1v1h-1zM1079 232h1v1h-1zM1080 233h1v1h-1zM1081 233h1v1h-1zM1082 234h1v1h-1zM1083 234h1v1h-1zM1084 235h1v1h-1zM1085 235h1v1h-1zM1086 235h1v1h-1zM1087 235h1v1h-1zM1088 235h1v1h-1zM1089 235h1v1h-1zM1090 235h1v1h-1zM1091 235h1v1h-1zM1092 235h1v1h-1zM1093 235h1v1h-1zM1094 236h1v1h-1zM1095 236h1v1h-1zM1096 237h1v1h-1zM1097 237h1v1h-1zM1098 238h1v1h-1zM1099 239h1v1h-1zM1100 240h1v1h-1zM1101 241h1v1h-1zM1102 242h1v1h-1zM1103 243h1v2h-1zM1104 245h1v1h-1zM1105 246h1v1h-1zM1106 247h1v2h-1zM1107 249h1v1h-1zM1108 250h1v2h-1zM1109 252h1v1h-1zM1110 253h1v2h-1zM1111 255h1v2h-1zM1112 257h1v2h-1zM1113 259h1v1h-1zM1114 260h1v2h-1zM1115 262h1v2h-1zM1116 264h1v2h-1zM1117 266h1v2h-1zM1118 268h1v2h-1zM1119 270h1v3h-1zM1120 273h1v2h-1zM1121 275h1v3h-1zM1122 278h1v2h-1zM1123 280h1v3h-1zM1124 283h1v2h-1zM1125 285h1v2h-1zM1126 287h1v2h-1zM1127 289h1v2h-1zM1128 291h1v2h-1zM1129 293h1v3h-1zM1130 296h1v2h-1zM1131 298h1v2h-1zM1132 300h1v2h-1zM1133 302h1v3h-1zM1134 305h1v2h-1zM1135 307h1v3h-1zM1136 310h1v2h-1zM1137 312h1v3h-1zM1138 315h1v2h-1zM1139 317h1v3h-1zM1140 320h1v2h-1zM1141 322h1v3h-1zM1142 325h1v3h-1zM1143 328h1v2h-1zM1144 330h1v3h-1zM1145 333h1v3h-1zM1146 336h1v3h-1zM1147 339h1v3h-1zM1148 342h1v3h-1zM1149 345h1v2h-1zM1150 347h1v2h-1zM1151 349h1v2h-1zM1152 351h1v2h-1zM1153 353h1v1h-1zM1154 354h1v1h-1zM1155 355h1v1h-1zM1156 356h1v1h-1zM1157 357h1v1h-1zM1158 358h1v1h-1zM1159 359h1v1h-1zM1160 360h1v1h-1zM1161 361h1v1h-1zM1162 362h1v1h-1zM1163 363h1v1h-1zM1164 364h1v1h-1zM1165 365h1v1h-1zM1166 366h1v1h-1zM1167 367h1v1h-1zM1168 367h1v1h-1zM1169 368h1v1h-1zM1170 368h1v1h-1zM1171 369h1v1h-1zM1172 369h1v1h-1zM1173 369h1v1h-1zM1174 369h1v1h-1zM1175 368h1v1h-1zM1176 368h1v1h-1zM1177 368h1v1h-1zM1178 367h1v1h-1zM1179 367h1v1h-1zM1180 366h1v1h-1zM1181 366h1v1h-1zM1182 365h1v1h-1zM1183 365h1v1h-1zM1184 364h1v1h-1zM1185 364h1v1h-1zM1186 363h1v1h-1zM1187 363h1v1h-1zM1188 362h1v1h-1zM1189 362h1v1h-1zM1190 361h1v1h-1zM1191 361h1v1h-1zM1192 360h1v1h-1zM1193 360h1v1h-1zM1194 359h1v1h-1zM1195 358h1v1h-1zM1196 357h1v1h-1zM1197 356h1v1h-1zM1198 355h1v1h-1zM1199 353h1v2h-1zM1200 352h1v1h-1zM1201 351h1v1h-1zM1202 350h1v1h-1zM1203 349h1v1h-1zM1204 348h1v1h-1zM1205 347h1v1h-1zM1206 346h1v1h-1zM1207 345h1v1h-1zM1208 345h1v1h-1zM1209 344h1v1h-1zM1210 343h1v1h-1zM1211 342h1v1h-1zM1212 342h1v1h-1zM1213 341h1v1h-1zM1214 341h1v1h-1zM1215 341h1v1h-1zM1216 341h1v1h-1zM1217 341h1v1h-1zM1218 341h1v1h-1zM1219 341h1v1h-1zM1220 341h1v1h-1zM1221 341h1v1h-1zM1222 341h1v1h-1zM1223 341h1v1h-1zM1224 341h1v1h-1zM1225 341h1v1h-1zM1226 341h1v1h-1zM1227 341h1v1h-1zM1228 341h1v1h-1zM1229 341h1v1h-1zM1230 341h1v1h-1zM1231 342h1v1h-1zM1232 342h1v1h-1zM1233 342h1v1h-1zM1234 342h1v1h-1zM1235 343h1v1h-1zM1236 343h1v1h-1zM1237 343h1v1h-1zM1238 343h1v1h-1zM1239 343h1v1h-1zM1240 343h1v1h-1zM1241 343h1v1h-1zM1242 343h1v1h-1zM1243 343h1v1h-1zM1244 343h1v1h-1zM1245 343h1v1h-1zM1246 343h1v1h-1zM1247 343h1v1h-1zM1248 343h1v1h-1zM1249 343h1v1h-1zM1250 343h1v1h-1zM1251 343h1v1h-1zM1252 343h1v1h-1zM1253 343h1v1h-1zM1254 343h1v1h-1zM1255 344h1v1h-1zM1256 344h1v1h-1zM1257 344h1v1h-1zM1258 345h1v1h-1zM1259 345h1v1h-1zM1260 346h1v1h-1zM1261 346h1v1h-1zM1262 346h1v1h-1zM1263 347h1v1h-1zM1264 347h1v1h-1zM1265 347h1v1h-1zM1266 347h1v1h-1zM1267 348h1v1h-1zM1268 348h1v1h-1zM1269 348h1v1h-1z"/>
<path fill="#ffa500" d="M5 485h1v1h-1zM6 486h1v1h-1zM7 487h1v1h-1zM8 488h1v1h-1zM9 489h1v1h-1zM10 490h1v1h-1zM11 491h1v1h-1zM12 492h1v1h-1zM13 493h1v1h-1zM14 494h1v1h-1zM15 494h1v1h-1zM16 495h1v1h-1zM17 495h1v1h-1zM18 496h1v1h-1zM19 496h1v1h-1zM20 497h1v1h-1zM21 497h1v1h-1zM22 497h1v1h-1zM23 496h1v1h-1zM24 496h1v1h-1zM25 496h1v1h-1zM26 495h1v1h-1zM27 494h1v1h-1zM28 494h1v1h-1zM29 493h1v1h-1zM30 492h1v1h-1zM31 492h1v1h-1zM32 491h1v1h-1zM33 491h1v1h-1zM34 490h1v1h-1zM35 489h1v1h-1zM36 488h1v1h-1zM37 487h1v1h-1zM38 486h1v1h-1zM39 484h1v2h-1zM40 483h1v1h-1zM41 482h1v1h-1zM42 481h1v1h-1zM43 480h1v1h-1zM44 480h1v1h-1zM45 479h1v1h-1zM46 478h1v1h-1zM47 477h1v1h-1zM48 477h1v1h-1zM49 476h1v1h-1zM50 474h1v2h-1zM51 472h1v2h-1zM52 470h1v2h-1zM53 469h1v1h-1zM54 468h1v1h-1zM55 467h1v1h-1zM56 467h1v1h-1zM57 466h1v1h-1zM58 465h1v1h-1zM59 465h1v1h-1zM60 464h1v1h-1zM61 464h1v1h-1zM62 464h1v1h-1zM63 463h1v1h-1zM64 463h1v1h-1zM65 463h1v1h-1zM66 463h1v1h-1zM67 462h1v1h-1zM68 462h1v1h-1zM69 462h1v1h-1zM70 462h1v1h-1zM71 461h1v1h-1zM72 461h1v1h-1zM73 461h1v1h-1zM74 460h1v1h-1zM75 460h1v1h-1zM76 459h1v1h-1zM77 459h1v1h-1zM78 458h1v1h-1zM79 457h1v1h-1zM80 457h1v1h-1zM81 456h1v1h-1zM82 455h1v1h-1zM83 455h1v1h-1zM84 454h1v1h-1zM85 454h1v1h-1zM86 452h1v2h-1zM87 450h1v2h-1zM88 448h1v2h-1zM89 447h1v1h-1zM90 446h1v1h-1zM91 444h1v2h-1zM92 443h1v1h-1zM93 442h1v1h-1zM94 441h1v1h-1zM95 441h1v1h-1zM96 440h1v1h-1zM97 440h1v1h-1zM98 440h1v1h-1zM99 439h1v1h-1zM100 439h1v1h-1zM101 439h1v1h-1zM102 439h1v1h-1zM103 438h1v1h-1zM104 438h1v1h-1zM105 438h1v1h-1zM106 438h1v1h-1zM107 439h1v1h-1zM108 439h1v1h-1zM109 439h1v1h-1zM110 440h1v2h-1zM111 442h1v1h-1zM112 443h1v2h-1zM113 445h1v1h-1zM114 444h1v1h-1zM115 443h1v1h-1zM116 443h1v1h-1zM117 442h1v1h-1zM118 441h1v1h-1zM119 439h1v2h-1zM120 438h1v1h-1zM121 437h1v1h-1zM122 436h1v1h-1zM123 435h1v1h-1zM124 435h1v1h-1zM125 434h1v1h-1zM126 433h1v1h-1zM127 432h1v1h-1zM128 431h1v1h-1zM129 430h1v1h-1zM130 429h1v1h-1zM131 429h1v1h-1zM132 428h1v1h-1zM133 428h1v1h-1zM134 428h1v1h-1zM135 427h1v1h-1zM136 427h1v1h-1zM137 427h1v1h-1zM138 427h1v1h-1zM139 427h1v1h-1zM140 427h1v1h-1zM141 427h1v1h-1zM142 427h1v1h-1zM143 427h1v1h-1zM144 427h1v1h-1zM145 427h1v1h-1zM146 427h1v1h-1zM147 427h1v1h-1zM148 427h1v1h-1zM149 427h1v1h-1zM150 427h1v1h-1zM151 427h1v1h-1zM152 427h1v1h-1zM153 427h1v1h-1zM154 427h1v1h-1zM155 427h1v1h-1zM156 427h1v1h-1zM157 427h1v1h-1zM158 427h1v1h-1zM159 428h1v1h-1zM160 428h1v1h-1zM161 428h1v1h-1zM162 428h1v1h-1zM163 428h1v1h-1zM164 428h1v1h-1zM165 428h1v1h-1zM166 428h1v1h-1zM167 429h1v1h-1zM168 429h1v1h-1zM169 429h1v1h-1zM170 429h1v1h-1zM171 428h1v1h-1zM172 428h1v1h-1zM173 428h1v1h-1zM174 428h1v1h-1zM175 427h1v1h-1zM176 427h1v1h-1zM177 427h1v1h-1zM178 426h1v1h-1zM179 426h1v1h-1zM180 425h1v1h-1zM181 425h1v1h-1zM182 425h1v1h-1zM183 424h1v1h-1zM184 424h1v1h-1zM185 424h1v1h-1zM186 424h1v1h-1zM187 425h1v1h-1zM188 425h1v1h-1zM189 425h1v1h-1zM190 426h1v1h-1zM191 427h1v2h-1zM192 429h1v1h-1zM193 430h1v1h-1zM194 431h1v2h-1zM195 433h1v2h-1zM196 435h1v2h-1zM197 437h1v2h-1zM198 439h1v2h-1zM199 441h1v2h-1zM200 443h1v2h-1zM201 445h1v2h-1zM202 447h1v2h-1zM203 449h1v2h-1zM204 451h1v2h-1zM205 453h1v1h-1zM206 454h1v2h-1zM207 456h1v1h-1zM208 457h1v2h-1zM209 459h1v1h-1zM210 460h1v1h-1zM211 461h1v1h-1zM212 461h1v1h-1zM213 462h1v1h-1zM214 461h1v1h-1zM215 461h1v1h-1zM216 460h1v1h-1zM217 460h1v1h-1zM218 459h1v1h-1zM219 458h1v1h-1zM220 457h1v1h-1zM221 456h1v1h-1zM222 454h1v2h-1zM223 453h1v1h-1zM224 451h1v2h-1zM225 450h1v1h-1zM226 448h1v2h-1zM227 447h1v1h-1zM228 445h1v2h-1zM229 444h1v1h-1zM230 443h1v1h-1zM231 441h1v2h-1zM232 440h1v1h-1zM233 439h1v1h-1zM234 438h1v1h-1zM235 437h1v1h-1zM236 437h1v1h-1zM237 436h1v1h-1zM238 436h1v1h-1zM239 435h1v1h-1zM240 435h1v1h-1zM241 435h1v1h-1zM242 435h1v1h-1zM243 434h1v1h-1zM244 434h1v1h-1zM245 434h1v1h-1zM246 434h1v1h-1zM247 434h1v1h-1zM248 434h1v1h-1zM249 434h1v1h-1zM250 434h1v1h-1zM251 434h1v1h-1zM252 434h1v1h-1zM253 434h1v1h-1zM254 434h1v1h-1zM255 435h1v1h-1zM256 435h1v1h-1zM257 435h1v1h-1zM258 435h1v1h-1zM259 435h1v1h-1zM260 435h1v1h-1zM261 435h1v1h-1zM262 435h1v1h-1zM263 435h1v1h-1zM264 435h1v1h-1zM265 435h1v1h-1zM266 435h1v1h-1zM267 435h1v1h-1zM268 435h1v1h-1zM269 435h1v1h-1zM270 435h1v1h-1zM271 436h1v1h-1zM272 436h1v1h-1zM273 436h1v1h-1zM274 436h1v1h-1zM275 437h1v1h-1zM276 437h1v1h-1zM277 437h1v1h-1zM278 437h1v1h-1zM279 438h1v1h-1zM280 438h1v1h-1zM281 438h1v1h-1zM282 437h1v1h-1zM283 437h1v1h-1zM284 436h1v1h-1zM285 436h1v1h-1zM286 435h1v1h-1zM287 434h1v1h-1zM288 434h1v1h-1zM289 433h1v1h-1zM290 432h1v1h-1zM291 431h1v1h-1zM292 430h1v1h-1zM293 429h1v1h-1zM294 428h1v1h-1zM295 427h1v1h-1zM296 426h1v1h-1zM297 425h1v1h-1zM298 424h1v1h-1zM299 423h1v1h-1zM300 422h1v1h-1zM301 421h1v1h-1zM302 421h1v1h-1zM303 420h1v1h-1zM304 420h1v1h-1zM305 420h1v1h-1zM306 420h1v1h-1zM307 420h1v1h-1zM308 420h1v1h-1zM309 420h1v1h-1zM310 420h1v1h-1zM311 421h1v1h-1zM312 421h1v1h-1zM313 421h1v1h-1zM314 422h1v2h-1zM315 424h1v2h-1zM316 426h1v2h-1zM317 428h1v2h-1zM318 430h1v2h-1zM319 432h1v1h-1zM320 433h1v2h-1zM321 435h1v1h-1zM322 436h1v2h-1zM323 438h1v1h-1zM324 439h1v2h-1zM325 441h1v1h-1zM326 442h1v2h-1zM327 444h1v2h-1zM328 446h1v2h-1zM329 448h1v1h-1zM330 449h1v1h-1zM331 450h1v2h-1zM332 452h1v1h-1zM333 453h1v1h-1zM334 454h1v1h-1zM335 454h1v1h-1zM336 455h1v1h-1zM337 455h1v1h-1zM338 456h1v1h-1zM339 457h1v2h-1zM340 459h1v1h-1zM341 460h1v1h-1zM342 461h1v1h-1zM343 462h1v2h-1zM344 464h1v1h-1zM345 465h1v1h-1zM346 466h1v1h-1zM347 467h1v2h-1zM348 469h1v1h-1zM349 470h1v1h-1zM350 471h1v2h-1zM351 473h1v1h-1zM352 474h1v2h-1zM353 476h1v1h-1zM354 477h1v1h-1zM355 478h1v1h-1zM356 478h1v1h-1zM357 479h1v1h-1zM358 480h1v1h-1zM359 481h1v1h-1zM360 481h1v1h-1zM361 482h1v1h-1zM362 483h1v1h-1zM363 483h1v1h-1zM364 484h1v1h-1zM365 484h1v1h-1zM366 485h1v1h-1zM367 486h1v1h-1zM368 486h1v1h-1zM369 487h1v1h-1zM370 487h1v1h-1zM371 488h1v1h-1zM372 488h1v1h-1zM373 488h1v1h-1zM374 488h1v1h-1zM375 488h1v1h-1zM376 488h1v1h-1zM377 488h1v1h-1zM378 487h1v1h-1zM379 486h1v1h-1zM380 485h1v1h-1zM381 484h1v1h-1zM382 483h1v1h-1zM383 481h1v2h-1zM384 480h1v1h-1zM385 479h1v1h-1zM386 478h1v1h-1zM387 477h1v1h-1zM388 476h1v1h-1zM389 475h1v1h-1zM390 474h1v1h-1zM391 473h1v1h-1zM392 472h1v1h-1zM393 471h1v1h-1zM394 470h1v1h-1zM395 469h1v1h-1zM396 468h1v1h-1zM397 467h1v1h-1zM398 467h1v1h-1zM399 466h1v1h-1zM400 466h1v1h-1zM401 466h1v1h-1zM402 466h1v1h-1zM403 466h1v1h-1zM404 466h1v1h-1zM405 466h1v1h-1zM406 465h1v1h-1zM407 465h1v1h-1zM408 464h1v1h-1zM409 464h1v1h-1zM410 463h1v1h-1zM411 462h1v1h-1zM412 461h1v1h-1zM413 460h1v1h-1zM414 459h1v1h-1zM415 458h1v1h-1zM416 457h1v1h-1zM417 456h1v1h-1zM418 455h1v1h-1zM419 454h1v1h-1zM420 453h1v1h-1zM421 452h1v1h-1zM422 451h1v1h-1zM423 450h1v1h-1zM424 450h1v1h-1zM425 449h1v1h-1zM426 448h1v1h-1zM427 447h1v1h-1zM428 447h1v1h-1zM429 446h1v1h-1zM430 445h1v1h-1zM431 445h1v1h-1zM432 444h1v1h-1zM433 444h1v1h-1zM434 444h1v1h-1zM435 444h1v1h-1zM436 444h1v1h-1zM437 444h1v1h-1zM438 444h1v1h-1zM439 444h1v1h-1zM440 444h1v1h-1zM441 444h1v1h-1zM442 444h1v1h-1zM443 444h1v1h-1zM444 444h1v1h-1zM445 444h1v1h-1zM446 444h1v1h-1zM447 444h1v1h-1zM448 444h1v1h-1zM449 444h1v1h-1zM450 443h1v1h-1zM451 443h1v1h-1zM452 442h1v1h-1zM453 442h1v1h-1zM454 441h1v1h-1zM455 440h1v1h-1zM456 440h1v1h-1zM457 439h1v1h-1zM458 438h1v1h-1zM459 437h1v1h-1zM460 437h1v1h-1zM461 436h1v1h-1zM462 435h1v1h-1zM463 434h1v1h-1zM464 433h1v1h-1zM465 432h1v1h-1zM466 431h1v1h-1zM467 430h1v1h-1zM468 429h1v1h-1zM469 428h1v1h-1zM470 428h1v1h-1zM471 428h1v1h-1zM472 428h1v1h-1zM473 428h1v1h-1zM474 428h1v1h-1zM475 428h1v1h-1zM476 428h1v1h-1zM477 428h1v1h-1zM478 428h1v1h-1zM479 428h1v1h-1zM480 428h1v1h-1zM481 428h1v1h-1zM482 428h1v1h-1zM483 429h1v1h-1zM484 429h1v1h-1zM485 429h1v1h-1zM486 429h1v1h-1zM487 430h1v1h-1zM488 430h1v1h-1zM489 430h1v1h-1zM490 430h1v1h-1zM491 429h1v1h-1zM492 429h1v1h-1zM493 429h1v1h-1zM494 429h1v1h-1zM495 429h1v1h-1zM496 429h1v1h-1zM497 429h1v1h-1zM498 430h1v1h-1zM499 430h1v1h-1zM500 431h1v1h-1zM501 431h1v1h-1zM502 432h1v1h-1zM503 433h1v2h-1zM504 435h1v1h-1zM505 436h1v1h-1zM506 436h1v1h-1zM507 437h1v1h-1zM508 437h1v1h-1zM509 437h1v1h-1zM510 438h1v1h-1zM511 439h1v1h-1zM512 439h1v1h-1zM513 440h1v1h-1zM514 441h1v1h-1zM515 442h1v1h-1zM516 442h1v1h-1zM517 443h1v1h-1zM518 444h1v1h-1zM519 444h1v1h-1zM520 445h1v1h-1zM521 445h1v1h-1zM522 444h1v1h-1zM523 443h1v1h-1zM524 443h1v1h-1zM525 442h1v1h-1zM526 443h1v1h-1zM527 444h1v1h-1zM528 445h1v1h-1zM529 446h1v1h-1zM530 447h1v1h-1zM531 448h1v1h-1zM532 448h1v1h-1zM533 449h1v1h-1zM534 450h1v1h-1zM535 450h1v1h-1zM536 451h1v1h-1zM537 451h1v1h-1zM538 452h1v1h-1zM539 453h1v1h-1zM540 454h1v1h-1zM541 455h1v1h-1zM542 456h1v1h-1zM543 457h1v2h-1zM544 459h1v1h-1zM545 460h1v1h-1zM546 461h1v1h-1zM547 462h1v1h-1zM548 462h1v1h-1zM549 463h1v1h-1zM550 464h1v1h-1zM551 465h1v1h-1zM552 466h1v1h-1zM553 467h1v1h-1zM554 467h1v1h-1zM555 467h1v1h-1zM556 467h1v1h-1zM557 467h1v1h-1zM558 467h1v1h-1zM559 467h1v1h-1zM560 467h1v1h-1zM561 467h1v1h-1zM562 467h1v1h-1zM563 466h1v1h-1zM564 466h1v1h-1zM565 466h1v1h-1zM566 465h1v1h-1zM567 465h1v1h-1zM568 464h1v1h-1zM569 464h1v1h-1zM570 464h1v1h-1zM571 464h1v1h-1zM572 464h1v1h-1zM573 464h1v1h-1zM574 464h1v1h-1zM575 465h1v1h-1zM576 465h1v1h-1zM577 465h1v1h-1zM578 466h1v1h-1zM579 467h1v1h-1zM580 468h1v1h-1zM581 469h1v1h-1zM582 470h1v1h-1zM583 471h1v2h-1zM584 473h1v1h-1zM585 474h1v1h-1zM586 475h1v1h-1zM587 476h1v2h-1zM588 478h1v1h-1zM589 479h1v1h-1zM590 480h1v2h-1zM591 482h1v2h-1zM592 484h1v2h-1zM593 486h1v3h-1zM594 489h1v2h-1zM595 491h1v2h-1zM596 493h1v2h-1zM597 495h1v2h-1zM598 497h1v2h-1zM599 499h1v2h-1zM600 501h1v2h-1zM601 503h1v2h-1zM602 505h1v1h-1zM603 506h1v2h-1zM604 508h1v1h-1zM605 509h1v1h-1zM606 510h1v1h-1zM607 511h1v1h-1zM608 511h1v1h-1zM609 512h1v1h-1zM610 512h1v1h-1zM611 513h1v1h-1zM612 513h1v1h-1zM613 513h1v1h-1zM614 513h1v1h-1zM615 513h1v1h-1zM616 513h1v1h-1zM617 513h1v1h-1zM618 512h1v1h-1zM619 511h1v1h-1zM620 510h1v1h-1zM621 509h1v1h-1zM622 507h1v2h-1zM623 505h1v2h-1zM624 503h1v2h-1zM625 502h1v1h-1zM626 501h1v1h-1zM627 500h1v1h-1zM628 499h1v1h-1zM629 498h1v1h-1zM630 497h1v1h-1zM631 496h1v1h-1zM632 496h1v1h-1zM633 495h1v1h-1zM634 494h1v1h-1zM635 493h1v1h-1zM636 493h1v1h-1zM637 492h1v1h-1zM638 492h1v1h-1zM639 491h1v1h-1zM640 491h1v1h-1zM641 491h1v1h-1zM642 491h1v1h-1zM643 492h1v1h-1zM644 492h1v1h-1zM645 492h1v1h-1zM646 492h1v1h-1zM647 493h1v1h-1zM648 493h1v1h-1zM649 493h1v1h-1zM650 493h1v1h-1zM651 493h1v1h-1zM652 493h1v1h-1zM653 493h1v1h-1zM654 493h1v1h-1zM655 493h1v1h-1zM656 493h1v1h-1zM657 493h1v1h-1zM658 493h1v1h-1zM659 493h1v1h-1zM660 493h1v1h-1zM661 493h1v1h-1zM662 493h1v1h-1zM663 492h1v1h-1zM664 492h1v1h-1zM665 492h1v1h-1zM666 491h1v1h-1zM667 490h1v1h-1zM668 490h1v1h-1zM669 489h1v1h-1zM670 488h1v1h-1zM671 487h1v1h-1zM672 486h1v1h-1zM673 485h1v1h-1zM674 484h1v1h-1zM675 483h1v1h-1zM676 482h1v1h-1zM677 481h1v1h-1zM678 480h1v1h-1zM679 478h1v2h-1zM680 477h1v1h-1zM681 476h1v1h-1zM682 475h1v1h-1zM683 473h1v2h-1zM684 472h1v1h-1zM685 471h1v1h-1zM686 470h1v1h-1zM687 468h1v2h-1zM688 467h1v1h-1zM689 466h1v1h-1zM690 465h1v1h-1zM691 464h1v1h-1zM692 463h1v1h-1zM693 462h1v1h-1zM694 461h1v1h-1zM695 460h1v1h-1zM696 459h1v1h-1zM697 458h1v1h-1zM698 457h1v1h-1zM699 456h1v1h-1zM700 455h1v1h-1zM701 454h1v1h-1zM702 453h1v1h-1zM703 452h1v1h-1zM704 451h1v1h-1zM705 450h1v1h-1zM706 449h1v1h-1zM707 448h1v1h-1zM708 447h1v1h-1zM709 446h1v1h-1zM710 445h1v1h-1zM711 443h1v2h-1zM712 442h1v1h-1zM713 441h1v1h-1zM714 440h1v1h-1zM715 439h1v1h-1zM716 439h1v1h-1zM717 438h1v1h-1zM718 437h1v1h-1zM719 436h1v1h-1zM720 435h1v1h-1zM721 434h1v1h-1zM722 433h1v1h-1zM723 432h1v1h-1zM724 432h1v1h-1zM725 431h1v1h-1zM726 430h1v1h-1zM727 430h1v1h-1zM728 429h1v1h-1zM729 429h1v1h-1zM730 428h1v1h-1zM731 428h1v1h-1zM732 427h1v1h-1zM733 427h1v1h-1zM734 427h1v1h-1zM735 427h1v1h-1zM736 427h1v1h-1zM737 427h1v1h-1zM738 427h1v1h-1zM739 427h1v1h-1zM740 427h1v1h-1zM741 427h1v1h-1zM742 428h1v1h-1zM743 428h1v1h-1zM744 429h1v1h-1zM745 429h1v1h-1zM746 430h1v1h-1zM747 431h1v1h-1zM748 431h1v1h-1zM749 432h1v1h-1zM750 433h1v1h-1zM751 434h1v1h-1zM752 434h1v1h-1zM753 435h1v1h-1zM754 436h1v1h-1zM755 437h1v1h-1zM756 437h1v1h-1zM757 438h1v1h-1zM758 438h1v1h-1zM759 439h1v1h-1zM760 439h1v1h-1zM761 439h1v1h-1zM762 439h1v1h-1zM763 440h1v1h-1zM764 440h1v1h-1zM765 440h1v1h-1zM766 440h1v1h-1zM767 440h1v1h-1zM768 440h1v1h-1zM769 440h1v1h-1zM770 441h1v1h-1zM771 441h1v1h-1zM772 442h1v1h-1zM773 442h1v1h-1zM774 443h1v1h-1zM775 443h1v1h-1zM776 444h1v1h-1zM777 444h1v1h-1zM778 444h1v1h-1zM779 443h1v1h-1zM780 443h1v1h-1zM781 443h1v1h-1zM782 442h1v1h-1zM783 442h1v1h-1zM784 441h1v1h-1zM785 441h1v1h-1zM786 440h1v1h-1zM787 439h1v1h-1zM788 439h1v1h-1zM789 438h1v1h-1zM790 436h1v2h-1zM791 434h1v2h-1zM792 432h1v2h-1zM793 429h1v3h-1zM794 426h1v3h-1zM795 424h1v2h-1zM796 421h1v3h-1zM797 419h1v2h-1zM798 417h1v2h-1zM799 415h1v2h-1zM800 413h1v2h-1zM801 412h1v1h-1zM802 410h1v2h-1zM803 409h1v1h-1zM804 407h1v2h-1zM805 406h1v1h-1zM806 405h1v1h-1zM807 404h1v1h-1zM808 404h1v1h-1zM809 403h1v1h-1zM810 403h1v1h-1zM811 403h1v1h-1zM812 403h1v1h-1zM813 403h1v1h-1zM814 403h1v1h-1zM815 403h1v1h-1zM816 403h1v1h-1zM817 403h1v1h-1zM818 403h1v1h-1zM819 402h1v1h-1zM820 402h1v1h-1zM821 402h1v1h-1zM822 401h1v1h-1zM823 400h1v1h-1zM824 400h1v1h-1zM825 399h1v1h-1zM826 397h1v2h-1zM827 395h1v2h-1zM828 393h1v2h-1zM829 390h1v3h-1zM830 385h1v5h-1zM831 379h1v6h-1zM832 374h1v5h-1zM833 369h1v5h-1zM834 363h1v6h-1zM835 357h1v6h-1zM836 351h1v6h-1zM837 345h1v6h-1zM838 338h1v7h-1zM839 332h1v6h-1zM840 325h1v7h-1zM841 318h1v7h-1zM842 312h1v6h-1zM843 305h1v7h-1zM844 299h1v6h-1zM845 293h1v6h-1zM846 288h1v5h-1zM847 284h1v4h-1zM848 279h1v5h-1zM849 274h1v5h-1zM850 270h1v4h-1zM851 265h1v5h-1zM852 261h1v4h-1zM853 256h1v5h-1zM854 251h1v5h-1zM855 245h1v6h-1zM856 240h1v5h-1zM857 233h1v7h-1zM858 225h1v8h-1zM859 216h1v9h-1zM860 208h1v8h-1zM861 200h1v8h-1zM862 194h1v6h-1zM863 187h1v7h-1zM864 181h1v6h-1zM865 174h1v7h-1zM866 168h1v6h-1zM867 162h1v6h-1zM868 156h1v6h-1zM869 149h1v7h-1zM870 142h1v7h-1zM871 135h1v7h-1zM872 128h1v7h-1zM873 123h1v5h-1zM874 119h1v4h-1zM875 116h1v3h-1zM876 112h1v4h-1zM877 110h1v2h-1zM878 110h1v1h-1zM879 110h1v1h-1zM880 110h1v1h-1zM881 110h1v1h-1zM882 111h1v2h-1zM883 113h1v2h-1zM884 115h1v2h-1zM885 117h1v3h-1zM886 120h1v4h-1zM887 124h1v4h-1zM888 128h1v4h-1zM889 132h1v5h-1zM890 137h1v6h-1zM891 143h1v5h-1zM892 148h1v6h-1zM893 154h1v6h-1zM894 160h1v6h-1zM895 166h1v6h-1zM896 172h1v6h-1zM897 178h1v6h-1zM898 184h1v5h-1zM899 189h1v4h-1zM900 193h1v5h-1zM901 198h1v4h-1zM902 202h1v4h-1zM903 206h1v3h-1zM904 209h1v4h-1zM905 213h1v2h-1zM906 212h1v2h-1zM907 211h1v1h-1zM908 209h1v2h-1zM909 208h1v1h-1zM910 206h1v2h-1zM911 205h1v1h-1zM912 203h1v2h-1zM913 202h1v1h-1zM914 200h1v2h-1zM915 198h1v2h-1zM916 196h1v2h-1zM917 195h1v1h-1zM918 195h1v1h-1zM919 194h1v1h-1zM920 194h1v1h-1zM921 194h1v1h-1zM922 194h1v1h-1zM923 195h1v1h-1zM924 195h1v1h-1zM925 195h1v1h-1zM926 196h1v2h-1zM927 198h1v2h-1zM928 200h1v2h-1zM929 202h1v2h-1zM930 204h1v2h-1zM931 206h1v3h-1zM932 209h1v2h-1zM933 211h1v3h-1zM934 214h1v2h-1zM935 216h1v2h-1zM936 218h1v2h-1zM937 220h1v3h-1zM938 223h1v2h-1zM939 225h1v2h-1zM940 227h1v2h-1zM941 229h1v2h-1zM942 231h1v2h-1zM943 233h1v2h-1zM944 235h1v2h-1zM945 237h1v1h-1zM946 238h1v1h-1zM947 239h1v2h-1zM948 241h1v1h-1zM949 242h1v1h-1zM950 243h1v1h-1zM951 244h1v1h-1zM952 245h1v1h-1zM953 246h1v1h-1zM954 244h1v2h-1zM955 242h1v2h-1zM956 240h1v2h-1zM957 239h1v1h-1zM958 237h1v2h-1zM959 235h1v2h-1zM960 233h1v2h-1zM961 232h1v1h-1zM962 231h1v1h-1zM963 230h1v1h-1zM964 229h1v1h-1zM965 228h1v1h-1zM966 226h1v2h-1zM967 225h1v1h-1zM968 223h1v2h-1zM969 222h1v1h-1zM970 220h1v2h-1zM971 218h1v2h-1zM972 216h1v2h-1zM973 215h1v1h-1zM974 214h1v1h-1zM975 213h1v1h-1zM976 212h1v1h-1zM977 211h1v1h-1zM978 211h1v1h-1zM979 210h1v1h-1zM980 210h1v1h-1zM981 210h1v1h-1zM982 210h1v1h-1zM983 209h1v1h-1zM984 209h1v1h-1zM985 209h1v1h-1zM986 208h1v1h-1zM987 208h1v1h-1zM988 207h1v1h-1zM989 207h1v1h-1zM990 207h1v1h-1zM991 208h1v1h-1zM992 208h1v1h-1zM993 208h1v1h-1zM994 209h1v1h-1zM995 210h1v1h-1zM996 211h1v1h-1zM997 212h1v1h-1zM998 213h1v2h-1zM999 215h1v2h-1zM1000 217h1v2h-1zM1001 219h1v2h-1zM1002 221h1v2h-1zM1003 223h1v2h-1zM1004 225h1v2h-1zM1005 227h1v2h-1zM1006 229h1v2h-1zM1007 231h1v1h-1zM1008 232h1v2h-1zM1009 234h1v1h-1zM1010 234h1v1h-1zM1011 235h1v1h-1zM1012 235h1v1h-1zM1013 235h1v1h-1zM1014 234h1v1h-1zM1015 234h1v1h-1zM1016 233h1v1h-1zM1017 233h1v1h-1zM1018 232h1v1h-1zM1019 231h1v1h-1zM1020 230h1v1h-1zM1021 229h1v1h-1zM1022 227h1v2h-1zM1023 226h1v1h-1zM1024 224h1v2h-1zM1025 222h1v2h-1zM1026 220h1v2h-1zM1027 218h1v2h-1zM1028 216h1v2h-1zM1029 214h1v2h-1zM1030 215h1v1h-1zM1031 216h1v1h-1zM1032 217h1v1h-1zM1033 218h1v2h-1zM1034 220h1v2h-1zM1035 222h1v2h-1zM1036 224h1v2h-1zM1037 226h1v2h-1zM1038 228h1v2h-1zM1039 230h1v2h-1zM1040 232h1v2h-1zM1041 234h1v2h-1zM1042 235h1v1h-1zM1043 236h1v1h-1zM1044 236h1v1h-1zM1045 236h1v1h-1zM1046 237h1v1h-1zM1047 238h1v2h-1zM1048 240h1v1h-1zM1049 241h1v1h-1zM1050 239h1v2h-1zM1051 238h1v1h-1zM1052 236h1v2h-1zM1053 234h1v2h-1zM1054 232h1v2h-1zM1055 230h1v2h-1zM1056 228h1v2h-1zM1057 226h1v2h-1zM1058 224h1v2h-1zM1059 222h1v2h-1zM1060 220h1v2h-1zM1061 218h1v2h-1zM1062 217h1v1h-1zM1063 216h1v1h-1zM1064 215h1v1h-1zM1065 214h1v1h-1zM1066 215h1v1h-1zM1067 215h1v1h-1zM1068 216h1v1h-1zM1069 216h1v2h-1zM1070 218h1v2h-1zM1071 220h1v3h-1zM1072 223h1v2h-1zM1073 225h1v3h-1zM1074 228h1v2h-1zM1075 230h1v3h-1zM1076 233h1v2h-1zM1077 235h1v2h-1zM1078 237h1v2h-1zM1079 239h1v2h-1zM1080 241h1v2h-1zM1081 243h1v1h-1zM1082 244h1v1h-1zM1083 245h1v2h-1zM1084 247h1v1h-1zM1085 248h1v1h-1zM1086 248h1v1h-1zM1087 247h1v1h-1zM1088 247h1v1h-1zM1089 247h1v1h-1zM1090 246h1v1h-1zM1091 245h1v1h-1zM1092 245h1v1h-1zM1093 244h1v1h-1zM1094 245h1v1h-1zM1095 246h1v1h-1zM1096 246h1v1h-1zM1097 247h1v2h-1zM1098 249h1v2h-1zM1099 251h1v3h-1zM1100 254h1v2h-1zM1101 256h1v3h-1zM1102 259h1v3h-1zM1103 262h1v3h-1zM1104 265h1v3h-1zM1105 268h1v3h-1zM1106 271h1v2h-1zM1107 273h1v3h-1zM1108 276h1v2h-1zM1109 278h1v3h-1zM1110 281h1v2h-1zM1111 283h1v2h-1zM1112 285h1v2h-1zM1113 287h1v3h-1zM1114 290h1v3h-1zM1115 293h1v2h-1zM1116 295h1v3h-1zM1117 298h1v4h-1zM1118 302h1v4h-1zM1119 306h1v5h-1zM1120 311h1v4h-1zM1121 315h1v4h-1zM1122 319h1v4h-1zM1123 323h1v4h-1zM1124 327h1v4h-1zM1125 331h1v4h-1zM1126 335h1v4h-1zM1127 339h1v3h-1zM1128 342h1v4h-1zM1129 346h1v4h-1zM1130 350h1v4h-1zM1131 354h1v5h-1zM1132 359h1v4h-1zM1133 363h1v4h-1zM1134 367h1v3h-1zM1135 370h1v2h-1zM1136 372h1v3h-1zM1137 375h1v2h-1zM1138 377h1v2h-1zM1139 379h1v2h-1zM1140 381h1v2h-1zM1141 383h1v2h-1zM1142 385h1v1h-1zM1143 386h1v1h-1zM1144 387h1v1h-1zM1145 388h1v1h-1zM1146 389h1v2h-1zM1147 391h1v1h-1zM1148 392h1v2h-1zM1149 394h1v1h-1zM1150 393h1v1h-1zM1151 391h1v2h-1zM1152 390h1v1h-1zM1153 388h1v2h-1zM1154 385h1v3h-1zM1155 383h1v2h-1zM1156 380h1v3h-1zM1157 377h1v3h-1zM1158 374h1v3h-1zM1159 371h1v3h-1zM1160 368h1v3h-1zM1161 365h1v3h-1zM1162 362h1v3h-1zM1163 360h1v2h-1zM1164 357h1v3h-1zM1165 355h1v2h-1zM1166 353h1v2h-1zM1167 352h1v1h-1zM1168 350h1v2h-1zM1169 349h1v1h-1zM1170 348h1v1h-1zM1171 348h1v1h-1zM1172 347h1v1h-1zM1173 347h1v1h-1zM1174 347h1v1h-1zM1175 346h1v1h-1zM1176 346h1v1h-1zM1177 346h1v1h-1zM1178 346h1v1h-1zM1179 346h1v1h-1zM1180 346h1v1h-1zM1181 346h1v1h-1zM1182 346h1v1h-1zM1183 347h1v1h-1zM1184 347h1v1h-1zM1185 347h1v1h-1zM1186 348h1v1h-1zM1187 348h1v1h-1zM1188 349h1v1h-1zM1189 349h1v1h-1zM1190 350h1v1h-1zM1191 350h1v1h-1zM1192 351h1v1h-1zM1193 351h1v1h-1zM1194 351h1v1h-1zM1195 351h1v1h-1zM1196 351h1v1h-1zM1197 351h1v1h-1zM1198 350h1v1h-1zM1199 350h1v1h-1zM1200 349h1v1h-1zM1201 349h1v1h-1zM1202 348h1v1h-1zM1203 347h1v1h-1zM1204 346h1v1h-1zM1205 345h1v1h-1zM1206 343h1v2h-1zM1207 341h1v2h-1zM1208 339h1v2h-1zM1209 337h1v2h-1zM1210 335h1v2h-1zM1211 333h1v2h-1zM1212 331h1v2h-1zM1213 330h1v1h-1zM1214 329h1v1h-1zM1215 328h1v1h-1zM1216 328h1v1h-1zM1217 327h1v1h-1zM1218 328h1v1h-1zM1219 329h1v1h-1zM1220 329h1v1h-1zM1221 330h1v1h-1zM1222 331h1v2h-1zM1223 333h1v1h-1zM1224 334h1v2h-1zM1225 336h1v1h-1zM1226 337h1v2h-1zM1227 339h1v1h-1zM1228 340h1v2h-1zM1229 342h1v1h-1zM1230 343h1v2h-1zM1231 345h1v1h-1zM1232 346h1v2h-1zM1233 348h1v1h-1zM1234 349h1v1h-1zM1235 350h1v1h-1zM1236 350h1v1h-1zM1237 351h1v1h-1zM1238 352h1v1h-1zM1239 352h1v1h-1zM1240 353h1v1h-1zM1241 353h1v1h-1zM1242 353h1v1h-1zM1243 353h1v1h-1zM1244 353h1v1h-1zM1245 353h1v1h-1zM1246 353h1v1h-1zM1247 352h1v1h-1zM1248 352h1v1h-1zM1249 352h1v1h-1zM1250 351h1v1h-1zM1251 351h1v1h-1zM1252 350h1v1h-1zM1253 350h1v1h-1zM1254 350h1v1h-1zM1255 349h1v1h-1zM1256 349h1v1h-1zM1257 349h1v1h-1zM1258 349h1v1h-1zM1259 350h1v1h-1zM1260 350h1v1h-1zM1261 350h1v1h-1zM1262 349h1v1h-1zM1263 349h1v1h-1zM1264 348h1v1h-1zM1265 348h1v1h-1zM1266 347h1v1h-1zM1267 347h1v1h-1zM1268 346h1v1h-1zM1269 346h1v1h-1z"/>
</g>
<rect x="1598" y="35" width="2" height="1" fill="#000"/>
<text x="1603" y="38.5" font-size="9.3" fill="#000" stroke="#000" stroke-width="0.2" font-family="'DejaVu Sans Condensed','DejaVu Sans','Liberation Sans',sans-serif" textLength="33" lengthAdjust="spacingAndGlyphs">1.47305</text>
<rect x="1598" y="68" width="2" height="1" fill="#000"/>
<text x="1603" y="71.5" font-size="9.3" fill="#000" stroke="#000" stroke-width="0.2" font-family="'DejaVu Sans Condensed','DejaVu Sans','Liberation Sans',sans-serif" textLength="33" lengthAdjust="spacingAndGlyphs">1.46080</text>
<rect x="1598" y="101" width="2" height="1" fill="#000"/>
<text x="1603" y="104.5" font-size="9.3" fill="#000" stroke="#000" stroke-width="0.2" font-family="'DejaVu Sans Condensed','DejaVu Sans','Liberation Sans',sans-serif" textLength="33" lengthAdjust="spacingAndGlyphs">1.44890</text>
<rect x="1598" y="134" width="2" height="1" fill="#000"/>
<text x="1603" y="137.5" font-size="9.3" fill="#000" stroke="#000" stroke-width="0.2" font-family="'DejaVu Sans Condensed','DejaVu Sans','Liberation Sans',sans-serif" textLength="33" lengthAdjust="spacingAndGlyphs">1.43665</text>
<rect x="1598" y="167" width="2" height="1" fill="#000"/>
<text x="1603" y="170.5" font-size="9.3" fill="#000" stroke="#000" stroke-width="0.2" font-family="'DejaVu Sans Condensed','DejaVu Sans','Liberation Sans',sans-serif" textLength="33" lengthAdjust="spacingAndGlyphs">1.42440</text>
<rect x="1598" y="200" width="2" height="1" fill="#000"/>
<text x="1603" y="203.5" font-size="9.3" fill="#000" stroke="#000" stroke-width="0.2" font-family="'DejaVu Sans Condensed','DejaVu Sans','Liberation Sans',sans-serif" textLength="33" lengthAdjust="spacingAndGlyphs">1.41250</text>
<rect x="1598" y="233" width="2" height="1" fill="#000"/>
<text x="1603" y="236.5" font-size="9.3" fill="#000" stroke="#000" stroke-width="0.2" font-family="'DejaVu Sans Condensed','DejaVu Sans','Liberation Sans',sans-serif" textLength="33" lengthAdjust="spacingAndGlyphs">1.40025</text>
<rect x="1598" y="266" width="2" height="1" fill="#000"/>
<text x="1603" y="269.5" font-size="9.3" fill="#000" stroke="#000" stroke-width="0.2" font-family="'DejaVu Sans Condensed','DejaVu Sans','Liberation Sans',sans-serif" textLength="33" lengthAdjust="spacingAndGlyphs">1.38835</text>
<rect x="1598" y="299" width="2" height="1" fill="#000"/>
<text x="1603" y="302.5" font-size="9.3" fill="#000" stroke="#000" stroke-width="0.2" font-family="'DejaVu Sans Condensed','DejaVu Sans','Liberation Sans',sans-serif" textLength="33" lengthAdjust="spacingAndGlyphs">1.37610</text>
<rect x="1598" y="332" width="2" height="1" fill="#000"/>
<text x="1603" y="335.5" font-size="9.3" fill="#000" stroke="#000" stroke-width="0.2" font-family="'DejaVu Sans Condensed','DejaVu Sans','Liberation Sans',sans-serif" textLength="33" lengthAdjust="spacingAndGlyphs">1.36420</text>
<rect x="1598" y="365" width="2" height="1" fill="#000"/>
<text x="1603" y="368.5" font-size="9.3" fill="#000" stroke="#000" stroke-width="0.2" font-family="'DejaVu Sans Condensed','DejaVu Sans','Liberation Sans',sans-serif" textLength="33" lengthAdjust="spacingAndGlyphs">1.35195</text>
<rect x="1598" y="398" width="2" height="1" fill="#000"/>
<text x="1603" y="401.5" font-size="9.3" fill="#000" stroke="#000" stroke-width="0.2" font-family="'DejaVu Sans Condensed','DejaVu Sans','Liberation Sans',sans-serif" textLength="33" lengthAdjust="spacingAndGlyphs">1.34005</text>
<rect x="1598" y="431" width="2" height="1" fill="#000"/>
<text x="1603" y="434.5" font-size="9.3" fill="#000" stroke="#000" stroke-width="0.2" font-family="'DejaVu Sans Condensed','DejaVu Sans','Liberation Sans',sans-serif" textLength="33" lengthAdjust="spacingAndGlyphs">1.32780</text>
<rect x="1598" y="464" width="2" height="1" fill="#000"/>
<text x="1603" y="467.5" font-size="9.3" fill="#000" stroke="#000" stroke-width="0.2" font-family="'DejaVu Sans Condensed','DejaVu Sans','Liberation Sans',sans-serif" textLength="33" lengthAdjust="spacingAndGlyphs">1.31590</text>
<rect x="1598" y="497" width="2" height="1" fill="#000"/>
<text x="1603" y="500.5" font-size="9.3" fill="#000" stroke="#000" stroke-width="0.2" font-family="'DejaVu Sans Condensed','DejaVu Sans','Liberation Sans',sans-serif" textLength="33" lengthAdjust="spacingAndGlyphs">1.30365</text>
<rect x="1598" y="530" width="2" height="1" fill="#000"/>
<text x="1603" y="533.5" font-size="9.3" fill="#000" stroke="#000" stroke-width="0.2" font-family="'DejaVu Sans Condensed','DejaVu Sans','Liberation Sans',sans-serif" textLength="33" lengthAdjust="spacingAndGlyphs">1.29175</text>
<rect x="5" y="204" width="1592" height="2" fill="#ff0000"/>
<rect x="4" y="202" width="6" height="6" fill="#ff0000"/>
<rect x="6" y="204" width="2" height="2" fill="#fff"/>
<rect x="1591" y="202" width="6" height="6" fill="#ff0000"/>
<rect x="1593" y="204" width="2" height="2" fill="#fff"/>
<rect x="1599" y="199" width="40" height="11" fill="#ff0000"/>
<text x="1603" y="207.8" font-size="9.3" fill="#fff" stroke="#fff" stroke-width="0.2" font-family="'DejaVu Sans Condensed','DejaVu Sans','Liberation Sans',sans-serif" textLength="33" lengthAdjust="spacingAndGlyphs">1.41060</text>
<rect x="5" y="275" width="1592" height="2" fill="#ff0000"/>
<rect x="4" y="273" width="6" height="6" fill="#ff0000"/>
<rect x="6" y="275" width="2" height="2" fill="#fff"/>
<rect x="1591" y="273" width="6" height="6" fill="#ff0000"/>
<rect x="1593" y="275" width="2" height="2" fill="#fff"/>
<rect x="1599" y="270" width="40" height="11" fill="#ff0000"/>
<text x="1603" y="278.8" font-size="9.3" fill="#fff" stroke="#fff" stroke-width="0.2" font-family="'DejaVu Sans Condensed','DejaVu Sans','Liberation Sans',sans-serif" textLength="33" lengthAdjust="spacingAndGlyphs">1.38464</text>
<rect x="5" y="342" width="1592" height="2" fill="#00ff00"/>
<rect x="4" y="340" width="6" height="6" fill="#00ff00"/>
<rect x="6" y="342" width="2" height="2" fill="#fff"/>
<rect x="1591" y="340" width="6" height="6" fill="#00ff00"/>
<rect x="1593" y="342" width="2" height="2" fill="#fff"/>
<rect x="1599" y="337" width="40" height="11" fill="#00ff00"/>
<text x="1603" y="345.8" font-size="9.3" fill="#fff" stroke="#fff" stroke-width="0.2" font-family="'DejaVu Sans Condensed','DejaVu Sans','Liberation Sans',sans-serif" textLength="33" lengthAdjust="spacingAndGlyphs">1.36015</text>
<rect x="5" y="424" width="1592" height="2" fill="#0000ff"/>
<rect x="4" y="422" width="6" height="6" fill="#0000ff"/>
<rect x="6" y="424" width="2" height="2" fill="#fff"/>
<rect x="1591" y="422" width="6" height="6" fill="#0000ff"/>
<rect x="1593" y="424" width="2" height="2" fill="#fff"/>
<rect x="1599" y="419" width="40" height="11" fill="#0000ff"/>
<text x="1603" y="427.8" font-size="9.3" fill="#fff" stroke="#fff" stroke-width="0.2" font-family="'DejaVu Sans Condensed','DejaVu Sans','Liberation Sans',sans-serif" textLength="33" lengthAdjust="spacingAndGlyphs">1.33011</text>
<rect x="5" y="506" width="1592" height="2" fill="#0000ff"/>
<rect x="4" y="504" width="6" height="6" fill="#0000ff"/>
<rect x="6" y="506" width="2" height="2" fill="#fff"/>
<rect x="1591" y="504" width="6" height="6" fill="#0000ff"/>
<rect x="1593" y="506" width="2" height="2" fill="#fff"/>
<rect x="1599" y="501" width="40" height="11" fill="#0000ff"/>
<text x="1603" y="509.8" font-size="9.3" fill="#fff" stroke="#fff" stroke-width="0.2" font-family="'DejaVu Sans Condensed','DejaVu Sans','Liberation Sans',sans-serif" textLength="33" lengthAdjust="spacingAndGlyphs">1.30020</text>
<path d="M8 34h7l-3.5 4z" fill="#000" shape-rendering="auto"/>
<text x="20.5" y="39" font-size="9.3" fill="#000" stroke="#000" stroke-width="0.2" font-family="'DejaVu Sans Condensed','DejaVu Sans','Liberation Sans',sans-serif" textLength="65.5" lengthAdjust="spacingAndGlyphs">USDCAD,Daily</text>
<text x="92.3" y="39" font-size="9.3" fill="#000" stroke="#000" stroke-width="0.2" font-family="'DejaVu Sans Condensed','DejaVu Sans','Liberation Sans',sans-serif" textLength="32.5" lengthAdjust="spacingAndGlyphs">1.36052</text>
<text x="128.35" y="39" font-size="9.3" fill="#000" stroke="#000" stroke-width="0.2" font-family="'DejaVu Sans Condensed','DejaVu Sans','Liberation Sans',sans-serif" textLength="32.5" lengthAdjust="spacingAndGlyphs">1.36258</text>
<text x="164.4" y="39" font-size="9.3" fill="#000" stroke="#000" stroke-width="0.2" font-family="'DejaVu Sans Condensed','DejaVu Sans','Liberation Sans',sans-serif" textLength="32.5" lengthAdjust="spacingAndGlyphs">1.35873</text>
<text x="200.45" y="39" font-size="9.3" fill="#000" stroke="#000" stroke-width="0.2" font-family="'DejaVu Sans Condensed','DejaVu Sans','Liberation Sans',sans-serif" textLength="32.5" lengthAdjust="spacingAndGlyphs">1.36020</text>
<path d="M1273 28h9l-4.5 4.5z" fill="#c0c0c0" shape-rendering="auto"/>
<path d="M6 563.5H1597" stroke="#c0c0c0" stroke-width="1" stroke-dasharray="3 3" fill="none"/>
<path d="M6 599.5H1597" stroke="#c0c0c0" stroke-width="1" stroke-dasharray="3 3" fill="none"/>
<g clip-path="url(#cr)">
<path fill="#1e90ff" d="M5 597h1v1h-1zM6 597h1v1h-1zM7 598h1v1h-1zM8 598h1v1h-1zM9 598h1v1h-1zM10 597h1v1h-1zM11 597h1v1h-1zM12 596h1v1h-1zM13 596h1v1h-1zM14 596h1v1h-1zM15 596h1v1h-1zM16 596h1v1h-1zM17 596h1v1h-1zM18 596h1v1h-1zM19 596h1v1h-1zM20 596h1v1h-1zM21 596h1v1h-1zM22 594h1v2h-1zM23 592h1v2h-1zM24 590h1v2h-1zM25 588h1v2h-1zM26 588h1v1h-1zM27 589h1v1h-1zM28 589h1v1h-1zM29 589h1v1h-1zM30 589h1v1h-1zM31 590h1v1h-1zM32 590h1v1h-1zM33 590h1v1h-1zM34 588h1v2h-1zM35 586h1v2h-1zM36 584h1v2h-1zM37 583h1v1h-1zM38 582h1v1h-1zM39 582h1v1h-1zM40 581h1v1h-1zM41 581h1v1h-1zM42 581h1v1h-1zM43 581h1v1h-1zM44 581h1v1h-1zM45 581h1v1h-1zM46 581h1v1h-1zM47 580h1v1h-1zM48 580h1v1h-1zM49 580h1v1h-1zM50 578h1v2h-1zM51 577h1v1h-1zM52 575h1v2h-1zM53 574h1v1h-1zM54 575h1v1h-1zM55 576h1v1h-1zM56 576h1v1h-1zM57 577h1v1h-1zM58 578h1v1h-1zM59 579h1v1h-1zM60 579h1v1h-1zM61 580h1v1h-1zM62 579h1v1h-1zM63 578h1v1h-1zM64 578h1v1h-1zM65 577h1v1h-1zM66 578h1v1h-1zM67 579h1v1h-1zM68 580h1v1h-1zM69 581h1v1h-1zM70 579h1v2h-1zM71 577h1v2h-1zM72 575h1v2h-1zM73 573h1v2h-1zM74 573h1v1h-1zM75 572h1v1h-1zM76 572h1v1h-1zM77 572h1v1h-1zM78 573h1v1h-1zM79 573h1v1h-1zM80 574h1v1h-1zM81 574h1v1h-1zM82 575h1v1h-1zM83 575h1v1h-1zM84 576h1v1h-1zM85 576h1v1h-1zM86 574h1v2h-1zM87 573h1v1h-1zM88 571h1v2h-1zM89 570h1v1h-1zM90 568h1v2h-1zM91 566h1v2h-1zM92 564h1v2h-1zM93 563h1v2h-1zM94 565h1v3h-1zM95 568h1v3h-1zM96 571h1v3h-1zM97 574h1v2h-1zM98 576h1v1h-1zM99 576h1v1h-1zM100 577h1v1h-1zM101 577h1v1h-1zM102 578h1v1h-1zM103 578h1v1h-1zM104 579h1v1h-1zM105 579h1v1h-1zM106 578h1v1h-1zM107 577h1v1h-1zM108 577h1v1h-1zM109 576h1v1h-1zM110 577h1v1h-1zM111 578h1v1h-1zM112 578h1v1h-1zM113 578h1v2h-1zM114 576h1v2h-1zM115 574h1v2h-1zM116 572h1v2h-1zM117 570h1v2h-1zM118 570h1v1h-1zM119 569h1v1h-1zM120 569h1v1h-1zM121 569h1v1h-1zM122 570h1v1h-1zM123 571h1v2h-1zM124 573h1v1h-1zM125 574h1v1h-1zM126 575h1v1h-1zM127 575h1v1h-1zM128 576h1v1h-1zM129 576h1v1h-1zM130 575h1v1h-1zM131 574h1v1h-1zM132 574h1v1h-1zM133 573h1v1h-1zM134 572h1v1h-1zM135 572h1v1h-1zM136 571h1v1h-1zM137 571h1v1h-1zM138 572h1v2h-1zM139 574h1v1h-1zM140 575h1v2h-1zM141 577h1v1h-1zM142 576h1v1h-1zM143 576h1v1h-1zM144 575h1v1h-1zM145 575h1v1h-1zM146 574h1v1h-1zM147 574h1v1h-1zM148 573h1v1h-1zM149 573h1v1h-1zM150 574h1v1h-1zM151 575h1v1h-1zM152 575h1v1h-1zM153 576h1v1h-1zM154 576h1v1h-1zM155 577h1v1h-1zM156 577h1v1h-1zM157 577h1v1h-1zM158 578h1v1h-1zM159 578h1v1h-1zM160 579h1v1h-1zM161 579h1v1h-1zM162 578h1v1h-1zM163 577h1v1h-1zM164 577h1v1h-1zM165 576h1v1h-1zM166 576h1v1h-1zM167 577h1v1h-1zM168 577h1v1h-1zM169 577h1v1h-1zM170 577h1v1h-1zM171 577h1v1h-1zM172 577h1v1h-1zM173 577h1v1h-1zM174 576h1v1h-1zM175 575h1v1h-1zM176 575h1v1h-1zM177 574h1v1h-1zM178 574h1v1h-1zM179 574h1v1h-1zM180 574h1v1h-1zM181 574h1v1h-1zM182 573h1v1h-1zM183 573h1v1h-1zM184 572h1v1h-1zM185 572h1v2h-1zM186 574h1v3h-1zM187 577h1v3h-1zM188 580h1v3h-1zM189 583h1v2h-1zM190 584h1v1h-1zM191 585h1v1h-1zM192 585h1v1h-1zM193 585h1v1h-1zM194 586h1v2h-1zM195 588h1v2h-1zM196 590h1v2h-1zM197 592h1v1h-1zM198 592h1v1h-1zM199 591h1v1h-1zM200 591h1v1h-1zM201 591h1v1h-1zM202 592h1v1h-1zM203 593h1v1h-1zM204 593h1v1h-1zM205 594h1v1h-1zM206 594h1v1h-1zM207 594h1v1h-1zM208 594h1v1h-1zM209 593h1v2h-1zM210 591h1v2h-1zM211 589h1v2h-1zM212 587h1v2h-1zM213 585h1v2h-1zM214 585h1v1h-1zM215 584h1v1h-1zM216 584h1v1h-1zM217 584h1v1h-1zM218 582h1v2h-1zM219 580h1v2h-1zM220 578h1v2h-1zM221 577h1v1h-1zM222 577h1v1h-1zM223 576h1v1h-1zM224 576h1v1h-1zM225 576h1v1h-1zM226 577h1v1h-1zM227 578h1v2h-1zM228 580h1v1h-1zM229 581h1v1h-1zM230 581h1v1h-1zM231 580h1v1h-1zM232 580h1v1h-1zM233 580h1v1h-1zM234 579h1v1h-1zM235 578h1v1h-1zM236 577h1v1h-1zM237 576h1v1h-1zM238 577h1v1h-1zM239 578h1v1h-1zM240 578h1v1h-1zM241 579h1v1h-1zM242 579h1v1h-1zM243 579h1v1h-1zM244 579h1v1h-1zM245 579h1v1h-1zM246 578h1v1h-1zM247 578h1v1h-1zM248 577h1v1h-1zM249 577h1v1h-1zM250 577h1v1h-1zM251 578h1v1h-1zM252 578h1v1h-1zM253 578h1v1h-1zM254 579h1v1h-1zM255 579h1v1h-1zM256 580h1v1h-1zM257 580h1v1h-1zM258 579h1v1h-1zM259 578h1v1h-1zM260 578h1v1h-1zM261 577h1v1h-1zM262 578h1v1h-1zM263 578h1v1h-1zM264 579h1v1h-1zM265 579h1v1h-1zM266 580h1v1h-1zM267 581h1v1h-1zM268 581h1v1h-1zM269 582h1v1h-1zM270 582h1v1h-1zM271 583h1v1h-1zM272 583h1v1h-1zM273 583h1v1h-1zM274 583h1v1h-1zM275 582h1v1h-1zM276 582h1v1h-1zM277 582h1v1h-1zM278 583h1v1h-1zM279 584h1v1h-1zM280 584h1v1h-1zM281 584h1v2h-1zM282 581h1v3h-1zM283 578h1v3h-1zM284 575h1v3h-1zM285 573h1v2h-1zM286 573h1v1h-1zM287 572h1v1h-1zM288 572h1v1h-1zM289 572h1v1h-1zM290 572h1v1h-1zM291 571h1v1h-1zM292 571h1v1h-1zM293 571h1v1h-1zM294 571h1v1h-1zM295 572h1v1h-1zM296 572h1v1h-1zM297 572h1v1h-1zM298 573h1v1h-1zM299 574h1v1h-1zM300 574h1v1h-1zM301 575h1v1h-1zM302 574h1v1h-1zM303 573h1v1h-1zM304 573h1v1h-1zM305 572h1v1h-1zM306 572h1v1h-1zM307 573h1v1h-1zM308 573h1v1h-1zM309 573h1v2h-1zM310 575h1v2h-1zM311 577h1v2h-1zM312 579h1v2h-1zM313 581h1v3h-1zM314 584h1v3h-1zM315 587h1v2h-1zM316 589h1v3h-1zM317 592h1v2h-1zM318 593h1v1h-1zM319 592h1v1h-1zM320 592h1v1h-1zM321 592h1v1h-1zM322 590h1v2h-1zM323 588h1v2h-1zM324 586h1v2h-1zM325 585h1v1h-1zM326 586h1v1h-1zM327 587h1v1h-1zM328 588h1v1h-1zM329 589h1v1h-1zM330 589h1v1h-1zM331 589h1v1h-1zM332 589h1v1h-1zM333 589h1v1h-1zM334 590h1v1h-1zM335 591h1v2h-1zM336 593h1v1h-1zM337 594h1v1h-1zM338 594h1v1h-1zM339 595h1v1h-1zM340 595h1v1h-1zM341 595h1v1h-1zM342 595h1v1h-1zM343 596h1v1h-1zM344 596h1v1h-1zM345 596h1v1h-1zM346 597h1v1h-1zM347 597h1v1h-1zM348 598h1v1h-1zM349 598h1v1h-1zM350 598h1v1h-1zM351 599h1v1h-1zM352 599h1v1h-1zM353 599h1v1h-1zM354 598h1v1h-1zM355 598h1v1h-1zM356 597h1v1h-1zM357 597h1v1h-1zM358 598h1v1h-1zM359 598h1v1h-1zM360 599h1v1h-1zM361 599h1v1h-1zM362 599h1v1h-1zM363 600h1v1h-1zM364 600h1v1h-1zM365 600h1v1h-1zM366 600h1v1h-1zM367 600h1v1h-1zM368 600h1v1h-1zM369 600h1v1h-1zM370 600h1v1h-1zM371 599h1v1h-1zM372 599h1v1h-1zM373 599h1v1h-1zM374 598h1v1h-1zM375 597h1v1h-1zM376 596h1v1h-1zM377 593h1v3h-1zM378 589h1v4h-1zM379 585h1v4h-1zM380 581h1v4h-1zM381 578h1v3h-1zM382 579h1v1h-1zM383 580h1v2h-1zM384 582h1v1h-1zM385 583h1v1h-1zM386 583h1v1h-1zM387 583h1v1h-1zM388 583h1v1h-1zM389 583h1v1h-1zM390 583h1v1h-1zM391 583h1v1h-1zM392 583h1v1h-1zM393 583h1v1h-1zM394 583h1v1h-1zM395 583h1v1h-1zM396 583h1v1h-1zM397 583h1v1h-1zM398 582h1v1h-1zM399 582h1v1h-1zM400 581h1v1h-1zM401 581h1v1h-1zM402 580h1v1h-1zM403 579h1v1h-1zM404 579h1v1h-1zM405 578h1v1h-1zM406 578h1v1h-1zM407 579h1v1h-1zM408 579h1v1h-1zM409 579h1v1h-1zM410 577h1v2h-1zM411 576h1v1h-1zM412 574h1v2h-1zM413 573h1v1h-1zM414 572h1v1h-1zM415 572h1v1h-1zM416 571h1v1h-1zM417 571h1v1h-1zM418 572h1v1h-1zM419 573h1v1h-1zM420 573h1v1h-1zM421 574h1v1h-1zM422 573h1v1h-1zM423 573h1v1h-1zM424 572h1v1h-1zM425 572h1v1h-1zM426 571h1v1h-1zM427 571h1v1h-1zM428 570h1v1h-1zM429 570h1v1h-1zM430 570h1v1h-1zM431 569h1v1h-1zM432 569h1v1h-1zM433 569h1v1h-1zM434 570h1v2h-1zM435 572h1v2h-1zM436 574h1v2h-1zM437 576h1v1h-1zM438 575h1v1h-1zM439 575h1v1h-1zM440 574h1v1h-1zM441 574h1v1h-1zM442 575h1v1h-1zM443 576h1v1h-1zM444 577h1v1h-1zM445 578h1v1h-1zM446 577h1v1h-1zM447 576h1v1h-1zM448 576h1v1h-1zM449 575h1v1h-1zM450 573h1v2h-1zM451 571h1v2h-1zM452 569h1v2h-1zM453 567h1v2h-1zM454 568h1v1h-1zM455 569h1v1h-1zM456 570h1v1h-1zM457 571h1v1h-1zM458 570h1v1h-1zM459 570h1v1h-1zM460 569h1v1h-1zM461 569h1v1h-1zM462 569h1v1h-1zM463 569h1v1h-1zM464 569h1v1h-1zM465 569h1v1h-1zM466 568h1v1h-1zM467 568h1v1h-1zM468 567h1v1h-1zM469 567h1v1h-1zM470 568h1v1h-1zM471 569h1v2h-1zM472 571h1v1h-1zM473 572h1v1h-1zM474 572h1v1h-1zM475 573h1v1h-1zM476 573h1v1h-1zM477 573h1v1h-1zM478 573h1v1h-1zM479 572h1v1h-1zM480 572h1v1h-1zM481 572h1v1h-1zM482 573h1v1h-1zM483 573h1v1h-1zM484 574h1v1h-1zM485 574h1v1h-1zM486 574h1v1h-1zM487 574h1v1h-1zM488 574h1v1h-1zM489 574h1v1h-1zM490 573h1v1h-1zM491 572h1v1h-1zM492 572h1v1h-1zM493 571h1v1h-1zM494 572h1v1h-1zM495 572h1v1h-1zM496 573h1v1h-1zM497 573h1v2h-1zM498 575h1v3h-1zM499 578h1v2h-1zM500 580h1v3h-1zM501 583h1v2h-1zM502 585h1v2h-1zM503 587h1v2h-1zM504 589h1v2h-1zM505 590h1v2h-1zM506 587h1v3h-1zM507 583h1v4h-1zM508 580h1v3h-1zM509 578h1v2h-1zM510 579h1v1h-1zM511 579h1v1h-1zM512 580h1v1h-1zM513 580h1v1h-1zM514 581h1v1h-1zM515 582h1v1h-1zM516 583h1v1h-1zM517 584h1v1h-1zM518 584h1v1h-1zM519 583h1v1h-1zM520 583h1v1h-1zM521 583h1v1h-1zM522 584h1v1h-1zM523 584h1v1h-1zM524 585h1v1h-1zM525 585h1v1h-1zM526 586h1v1h-1zM527 587h1v1h-1zM528 587h1v1h-1zM529 588h1v1h-1zM530 587h1v1h-1zM531 587h1v1h-1zM532 586h1v1h-1zM533 586h1v1h-1zM534 587h1v1h-1zM535 588h1v1h-1zM536 588h1v1h-1zM537 589h1v1h-1zM538 590h1v1h-1zM539 591h1v1h-1zM540 592h1v1h-1zM541 593h1v1h-1zM542 592h1v1h-1zM543 592h1v1h-1zM544 591h1v1h-1zM545 591h1v1h-1zM546 592h1v1h-1zM547 593h1v2h-1zM548 595h1v1h-1zM549 596h1v1h-1zM550 595h1v1h-1zM551 594h1v1h-1zM552 593h1v1h-1zM553 592h1v1h-1zM554 590h1v2h-1zM555 589h1v1h-1zM556 587h1v2h-1zM557 586h1v1h-1zM558 586h1v1h-1zM559 586h1v1h-1zM560 586h1v1h-1zM561 586h1v1h-1zM562 586h1v1h-1zM563 585h1v1h-1zM564 585h1v1h-1zM565 585h1v1h-1zM566 586h1v1h-1zM567 587h1v1h-1zM568 587h1v1h-1zM569 588h1v1h-1zM570 587h1v1h-1zM571 587h1v1h-1zM572 586h1v1h-1zM573 586h1v1h-1zM574 587h1v2h-1zM575 589h1v2h-1zM576 591h1v2h-1zM577 593h1v1h-1zM578 594h1v1h-1zM579 595h1v1h-1zM580 595h1v1h-1zM581 596h1v1h-1zM582 596h1v1h-1zM583 597h1v1h-1zM584 597h1v1h-1zM585 597h1v1h-1zM586 598h1v1h-1zM587 598h1v1h-1zM588 599h1v1h-1zM589 599h1v1h-1zM590 600h1v2h-1zM591 602h1v1h-1zM592 603h1v2h-1zM593 605h1v1h-1zM594 604h1v1h-1zM595 603h1v1h-1zM596 602h1v1h-1zM597 601h1v1h-1zM598 601h1v1h-1zM599 602h1v1h-1zM600 602h1v1h-1zM601 602h1v1h-1zM602 602h1v1h-1zM603 601h1v1h-1zM604 601h1v1h-1zM605 601h1v1h-1zM606 601h1v1h-1zM607 600h1v1h-1zM608 600h1v1h-1zM609 600h1v1h-1zM610 600h1v1h-1zM611 601h1v1h-1zM612 601h1v1h-1zM613 600h1v2h-1zM614 598h1v2h-1zM615 596h1v2h-1zM616 594h1v2h-1zM617 592h1v2h-1zM618 591h1v1h-1zM619 590h1v1h-1zM620 589h1v1h-1zM621 588h1v1h-1zM622 586h1v2h-1zM623 584h1v2h-1zM624 582h1v2h-1zM625 580h1v2h-1zM626 581h1v2h-1zM627 583h1v1h-1zM628 584h1v2h-1zM629 586h1v1h-1zM630 586h1v1h-1zM631 585h1v1h-1zM632 585h1v1h-1zM633 585h1v1h-1zM634 585h1v1h-1zM635 586h1v1h-1zM636 586h1v1h-1zM637 586h1v1h-1zM638 585h1v1h-1zM639 584h1v1h-1zM640 584h1v1h-1zM641 583h1v1h-1zM642 584h1v1h-1zM643 585h1v1h-1zM644 585h1v1h-1zM645 586h1v1h-1zM646 586h1v1h-1zM647 586h1v1h-1zM648 586h1v1h-1zM649 586h1v1h-1zM650 585h1v1h-1zM651 584h1v1h-1zM652 584h1v1h-1zM653 583h1v1h-1zM654 583h1v1h-1zM655 582h1v1h-1zM656 582h1v1h-1zM657 582h1v1h-1zM658 583h1v1h-1zM659 583h1v1h-1zM660 584h1v1h-1zM661 584h1v1h-1zM662 583h1v1h-1zM663 583h1v1h-1zM664 582h1v1h-1zM665 582h1v1h-1zM666 580h1v2h-1zM667 578h1v2h-1zM668 576h1v2h-1zM669 574h1v2h-1zM670 573h1v1h-1zM671 572h1v1h-1zM672 572h1v1h-1zM673 571h1v1h-1zM674 572h1v1h-1zM675 572h1v1h-1zM676 573h1v1h-1zM677 573h1v1h-1zM678 573h1v1h-1zM679 572h1v1h-1zM680 572h1v1h-1zM681 572h1v1h-1zM682 571h1v1h-1zM683 570h1v1h-1zM684 569h1v1h-1zM685 568h1v1h-1zM686 568h1v1h-1zM687 568h1v1h-1zM688 568h1v1h-1zM689 568h1v1h-1zM690 567h1v1h-1zM691 566h1v1h-1zM692 566h1v1h-1zM693 565h1v1h-1zM694 564h1v1h-1zM695 564h1v1h-1zM696 563h1v1h-1zM697 563h1v1h-1zM698 563h1v1h-1zM699 563h1v1h-1zM700 563h1v1h-1zM701 563h1v1h-1zM702 563h1v1h-1zM703 562h1v1h-1zM704 562h1v1h-1zM705 562h1v1h-1zM706 561h1v1h-1zM707 560h1v1h-1zM708 560h1v1h-1zM709 559h1v1h-1zM710 559h1v1h-1zM711 558h1v1h-1zM712 558h1v1h-1zM713 558h1v1h-1zM714 558h1v1h-1zM715 557h1v1h-1zM716 557h1v1h-1zM717 557h1v1h-1zM718 557h1v1h-1zM719 556h1v1h-1zM720 556h1v1h-1zM721 556h1v1h-1zM722 556h1v1h-1zM723 556h1v1h-1zM724 556h1v1h-1zM725 556h1v1h-1zM726 556h1v1h-1zM727 557h1v1h-1zM728 557h1v1h-1zM729 557h1v1h-1zM730 556h1v1h-1zM731 556h1v1h-1zM732 555h1v1h-1zM733 555h1v2h-1zM734 557h1v2h-1zM735 559h1v2h-1zM736 561h1v2h-1zM737 563h1v2h-1zM738 565h1v2h-1zM739 567h1v2h-1zM740 569h1v2h-1zM741 571h1v1h-1zM742 572h1v1h-1zM743 572h1v1h-1zM744 573h1v1h-1zM745 573h1v1h-1zM746 573h1v1h-1zM747 572h1v1h-1zM748 572h1v1h-1zM749 572h1v1h-1zM750 573h1v1h-1zM751 573h1v1h-1zM752 574h1v1h-1zM753 574h1v1h-1zM754 575h1v1h-1zM755 576h1v1h-1zM756 576h1v1h-1zM757 577h1v1h-1zM758 576h1v1h-1zM759 576h1v1h-1zM760 575h1v1h-1zM761 575h1v1h-1zM762 576h1v1h-1zM763 577h1v1h-1zM764 577h1v1h-1zM765 578h1v1h-1zM766 579h1v1h-1zM767 579h1v1h-1zM768 580h1v1h-1zM769 580h1v1h-1zM770 580h1v1h-1zM771 581h1v1h-1zM772 581h1v1h-1zM773 581h1v1h-1zM774 582h1v1h-1zM775 583h1v1h-1zM776 583h1v1h-1zM777 583h1v2h-1zM778 581h1v2h-1zM779 578h1v3h-1zM780 576h1v2h-1zM781 574h1v2h-1zM782 573h1v1h-1zM783 572h1v1h-1zM784 571h1v1h-1zM785 570h1v1h-1zM786 569h1v1h-1zM787 569h1v1h-1zM788 568h1v1h-1zM789 568h1v1h-1zM790 566h1v2h-1zM791 565h1v1h-1zM792 563h1v2h-1zM793 562h1v1h-1zM794 560h1v2h-1zM795 559h1v1h-1zM796 557h1v2h-1zM797 556h1v1h-1zM798 557h1v1h-1zM799 558h1v2h-1zM800 560h1v1h-1zM801 561h1v1h-1zM802 562h1v1h-1zM803 563h1v1h-1zM804 563h1v1h-1zM805 564h1v2h-1zM806 566h1v2h-1zM807 568h1v2h-1zM808 570h1v2h-1zM809 572h1v2h-1zM810 571h1v2h-1zM811 570h1v1h-1zM812 568h1v2h-1zM813 567h1v1h-1zM814 567h1v1h-1zM815 567h1v1h-1zM816 567h1v1h-1zM817 567h1v1h-1zM818 566h1v1h-1zM819 565h1v1h-1zM820 565h1v1h-1zM821 564h1v1h-1zM822 565h1v1h-1zM823 565h1v1h-1zM824 566h1v1h-1zM825 566h1v1h-1zM826 564h1v2h-1zM827 562h1v2h-1zM828 560h1v2h-1zM829 558h1v2h-1zM830 556h1v2h-1zM831 554h1v2h-1zM832 552h1v2h-1zM833 550h1v2h-1zM834 551h1v1h-1zM835 552h1v1h-1zM836 553h1v1h-1zM837 554h1v1h-1zM838 553h1v1h-1zM839 552h1v1h-1zM840 551h1v1h-1zM841 550h1v1h-1zM842 549h1v1h-1zM843 549h1v1h-1zM844 548h1v1h-1zM845 548h1v1h-1zM846 549h1v2h-1zM847 551h1v2h-1zM848 553h1v2h-1zM849 555h1v1h-1zM850 555h1v1h-1zM851 554h1v1h-1zM852 554h1v1h-1zM853 554h1v1h-1zM854 553h1v1h-1zM855 551h1v2h-1zM856 550h1v1h-1zM857 549h1v1h-1zM858 548h1v1h-1zM859 547h1v1h-1zM860 547h1v1h-1zM861 546h1v1h-1zM862 547h1v1h-1zM863 548h1v1h-1zM864 549h1v1h-1zM865 550h1v1h-1zM866 551h1v2h-1zM867 553h1v1h-1zM868 554h1v2h-1zM869 556h1v1h-1zM870 556h1v1h-1zM871 555h1v1h-1zM872 555h1v1h-1zM873 555h1v1h-1zM874 554h1v1h-1zM875 554h1v1h-1zM876 553h1v1h-1zM877 553h1v1h-1zM878 554h1v1h-1zM879 555h1v2h-1zM880 557h1v1h-1zM881 558h1v1h-1zM882 559h1v2h-1zM883 561h1v2h-1zM884 563h1v2h-1zM885 565h1v2h-1zM886 567h1v3h-1zM887 570h1v3h-1zM888 573h1v3h-1zM889 576h1v2h-1zM890 577h1v1h-1zM891 576h1v1h-1zM892 576h1v1h-1zM893 576h1v1h-1zM894 577h1v1h-1zM895 578h1v2h-1zM896 580h1v1h-1zM897 581h1v1h-1zM898 579h1v2h-1zM899 577h1v2h-1zM900 575h1v2h-1zM901 574h1v1h-1zM902 575h1v1h-1zM903 575h1v1h-1zM904 576h1v1h-1zM905 576h1v1h-1zM906 575h1v1h-1zM907 574h1v1h-1zM908 574h1v1h-1zM909 573h1v1h-1zM910 574h1v1h-1zM911 575h1v1h-1zM912 576h1v1h-1zM913 577h1v1h-1zM914 577h1v1h-1zM915 576h1v1h-1zM916 576h1v1h-1zM917 576h1v1h-1zM918 576h1v1h-1zM919 576h1v1h-1zM920 576h1v1h-1zM921 576h1v1h-1zM922 576h1v1h-1zM923 577h1v1h-1zM924 577h1v1h-1zM925 577h1v1h-1zM926 578h1v2h-1zM927 580h1v1h-1zM928 581h1v2h-1zM929 583h1v1h-1zM930 582h1v1h-1zM931 582h1v1h-1zM932 581h1v1h-1zM933 581h1v1h-1zM934 582h1v1h-1zM935 582h1v1h-1zM936 583h1v1h-1zM937 583h1v1h-1zM938 583h1v1h-1zM939 583h1v1h-1zM940 583h1v1h-1zM941 583h1v1h-1zM942 583h1v1h-1zM943 584h1v1h-1zM944 584h1v1h-1zM945 584h1v1h-1zM946 584h1v1h-1zM947 584h1v1h-1zM948 584h1v1h-1zM949 584h1v1h-1zM950 585h1v1h-1zM951 585h1v1h-1zM952 586h1v1h-1zM953 585h1v2h-1zM954 583h1v2h-1zM955 581h1v2h-1zM956 579h1v2h-1zM957 577h1v2h-1zM958 576h1v1h-1zM959 576h1v1h-1zM960 575h1v1h-1zM961 575h1v1h-1zM962 576h1v2h-1zM963 578h1v1h-1zM964 579h1v2h-1zM965 581h1v1h-1zM966 581h1v1h-1zM967 581h1v1h-1zM968 581h1v1h-1zM969 581h1v1h-1zM970 580h1v1h-1zM971 580h1v1h-1zM972 579h1v1h-1zM973 579h1v1h-1zM974 577h1v2h-1zM975 576h1v1h-1zM976 574h1v2h-1zM977 573h1v1h-1zM978 574h1v1h-1zM979 575h1v2h-1zM980 577h1v1h-1zM981 578h1v1h-1zM982 579h1v1h-1zM983 580h1v1h-1zM984 580h1v1h-1zM985 581h1v1h-1zM986 580h1v1h-1zM987 579h1v1h-1zM988 579h1v1h-1zM989 578h1v1h-1zM990 578h1v1h-1zM991 578h1v1h-1zM992 578h1v1h-1zM993 578h1v1h-1zM994 579h1v1h-1zM995 580h1v1h-1zM996 580h1v1h-1zM997 581h1v1h-1zM998 582h1v1h-1zM999 583h1v1h-1zM1000 583h1v1h-1zM1001 584h1v1h-1zM1002 585h1v1h-1zM1003 585h1v1h-1zM1004 586h1v1h-1zM1005 586h1v1h-1zM1006 586h1v1h-1zM1007 587h1v1h-1zM1008 587h1v1h-1zM1009 586h1v2h-1zM1010 584h1v2h-1zM1011 582h1v2h-1zM1012 580h1v2h-1zM1013 578h1v2h-1zM1014 578h1v1h-1zM1015 579h1v1h-1zM1016 579h1v1h-1zM1017 579h1v1h-1zM1018 579h1v1h-1zM1019 579h1v1h-1zM1020 579h1v1h-1zM1021 579h1v1h-1zM1022 580h1v1h-1zM1023 580h1v1h-1zM1024 581h1v1h-1zM1025 581h1v1h-1zM1026 580h1v1h-1zM1027 578h1v2h-1zM1028 577h1v1h-1zM1029 576h1v1h-1zM1030 577h1v2h-1zM1031 579h1v2h-1zM1032 581h1v2h-1zM1033 583h1v2h-1zM1034 585h1v1h-1zM1035 586h1v1h-1zM1036 586h1v1h-1zM1037 587h1v1h-1zM1038 586h1v1h-1zM1039 586h1v1h-1zM1040 585h1v1h-1zM1041 585h1v1h-1zM1042 584h1v1h-1zM1043 583h1v1h-1zM1044 582h1v1h-1zM1045 581h1v1h-1zM1046 581h1v1h-1zM1047 582h1v1h-1zM1048 582h1v1h-1zM1049 582h1v1h-1zM1050 581h1v1h-1zM1051 580h1v1h-1zM1052 579h1v1h-1zM1053 578h1v1h-1zM1054 578h1v1h-1zM1055 578h1v1h-1zM1056 578h1v1h-1zM1057 578h1v1h-1zM1058 578h1v1h-1zM1059 578h1v1h-1zM1060 578h1v1h-1zM1061 578h1v1h-1zM1062 578h1v1h-1zM1063 577h1v1h-1zM1064 577h1v1h-1zM1065 577h1v1h-1zM1066 578h1v2h-1zM1067 580h1v2h-1zM1068 582h1v2h-1zM1069 584h1v2h-1zM1070 586h1v1h-1zM1071 587h1v1h-1zM1072 588h1v1h-1zM1073 589h1v1h-1zM1074 588h1v1h-1zM1075 588h1v1h-1zM1076 587h1v1h-1zM1077 587h1v1h-1zM1078 586h1v1h-1zM1079 585h1v1h-1zM1080 585h1v1h-1zM1081 584h1v1h-1zM1082 583h1v1h-1zM1083 582h1v1h-1zM1084 581h1v1h-1zM1085 580h1v1h-1zM1086 581h1v1h-1zM1087 581h1v1h-1zM1088 582h1v1h-1zM1089 582h1v1h-1zM1090 582h1v1h-1zM1091 583h1v1h-1zM1092 583h1v1h-1zM1093 583h1v1h-1zM1094 584h1v2h-1zM1095 586h1v2h-1zM1096 588h1v2h-1zM1097 590h1v2h-1zM1098 591h1v1h-1zM1099 592h1v1h-1zM1100 592h1v1h-1zM1101 592h1v1h-1zM1102 592h1v1h-1zM1103 593h1v1h-1zM1104 593h1v1h-1zM1105 593h1v1h-1zM1106 592h1v1h-1zM1107 591h1v1h-1zM1108 590h1v1h-1zM1109 589h1v1h-1zM1110 590h1v1h-1zM1111 590h1v1h-1zM1112 591h1v1h-1zM1113 591h1v1h-1zM1114 592h1v2h-1zM1115 594h1v2h-1zM1116 596h1v2h-1zM1117 598h1v1h-1zM1118 599h1v1h-1zM1119 599h1v1h-1zM1120 600h1v1h-1zM1121 600h1v1h-1zM1122 600h1v1h-1zM1123 601h1v1h-1zM1124 601h1v1h-1zM1125 601h1v1h-1zM1126 600h1v1h-1zM1127 600h1v1h-1zM1128 599h1v1h-1zM1129 599h1v1h-1zM1130 600h1v1h-1zM1131 601h1v1h-1zM1132 601h1v1h-1zM1133 602h1v1h-1zM1134 602h1v1h-1zM1135 601h1v1h-1zM1136 601h1v1h-1zM1137 601h1v1h-1zM1138 602h1v1h-1zM1139 602h1v1h-1zM1140 603h1v1h-1zM1141 603h1v1h-1zM1142 602h1v1h-1zM1143 600h1v2h-1zM1144 599h1v1h-1zM1145 598h1v1h-1zM1146 599h1v1h-1zM1147 599h1v1h-1zM1148 600h1v1h-1zM1149 599h1v2h-1zM1150 596h1v3h-1zM1151 593h1v3h-1zM1152 590h1v3h-1zM1153 588h1v2h-1zM1154 587h1v1h-1zM1155 587h1v1h-1zM1156 586h1v1h-1zM1157 586h1v1h-1zM1158 586h1v1h-1zM1159 585h1v1h-1zM1160 585h1v1h-1zM1161 585h1v1h-1zM1162 585h1v1h-1zM1163 585h1v1h-1zM1164 585h1v1h-1zM1165 585h1v1h-1zM1166 586h1v1h-1zM1167 586h1v1h-1zM1168 587h1v1h-1zM1169 587h1v1h-1zM1170 587h1v1h-1zM1171 587h1v1h-1zM1172 587h1v1h-1zM1173 587h1v1h-1zM1174 586h1v1h-1zM1175 586h1v1h-1zM1176 585h1v1h-1zM1177 585h1v1h-1zM1178 585h1v1h-1zM1179 585h1v1h-1zM1180 585h1v1h-1zM1181 585h1v1h-1zM1182 585h1v1h-1zM1183 585h1v1h-1zM1184 585h1v1h-1zM1185 585h1v1h-1zM1186 586h1v1h-1zM1187 587h1v1h-1zM1188 587h1v1h-1zM1189 588h1v1h-1zM1190 589h1v1h-1zM1191 590h1v1h-1zM1192 590h1v1h-1zM1193 591h1v1h-1zM1194 589h1v2h-1zM1195 587h1v2h-1zM1196 585h1v2h-1zM1197 583h1v2h-1zM1198 582h1v1h-1zM1199 581h1v1h-1zM1200 580h1v1h-1zM1201 579h1v1h-1zM1202 578h1v1h-1zM1203 578h1v1h-1zM1204 577h1v1h-1zM1205 577h1v1h-1zM1206 578h1v1h-1zM1207 579h1v1h-1zM1208 579h1v1h-1zM1209 580h1v1h-1zM1210 579h1v1h-1zM1211 578h1v1h-1zM1212 578h1v1h-1zM1213 577h1v1h-1zM1214 578h1v2h-1zM1215 580h1v1h-1zM1216 581h1v2h-1zM1217 583h1v1h-1zM1218 584h1v1h-1zM1219 584h1v1h-1zM1220 585h1v1h-1zM1221 585h1v1h-1zM1222 585h1v1h-1zM1223 584h1v1h-1zM1224 584h1v1h-1zM1225 584h1v1h-1zM1226 585h1v1h-1zM1227 585h1v1h-1zM1228 586h1v1h-1zM1229 586h1v1h-1zM1230 586h1v1h-1zM1231 586h1v1h-1zM1232 586h1v1h-1zM1233 586h1v1h-1zM1234 586h1v1h-1zM1235 587h1v1h-1zM1236 587h1v1h-1zM1237 587h1v1h-1zM1238 586h1v1h-1zM1239 585h1v1h-1zM1240 584h1v1h-1zM1241 583h1v1h-1zM1242 584h1v1h-1zM1243 585h1v1h-1zM1244 586h1v1h-1zM1245 587h1v1h-1zM1246 586h1v1h-1zM1247 585h1v1h-1zM1248 585h1v1h-1zM1249 584h1v1h-1zM1250 583h1v1h-1zM1251 583h1v1h-1zM1252 582h1v1h-1zM1253 582h1v1h-1zM1254 582h1v1h-1zM1255 583h1v1h-1zM1256 583h1v1h-1zM1257 583h1v1h-1zM1258 583h1v1h-1zM1259 584h1v1h-1zM1260 584h1v1h-1zM1261 584h1v1h-1zM1262 583h1v1h-1zM1263 582h1v1h-1zM1264 582h1v1h-1zM1265 581h1v1h-1zM1266 581h1v1h-1zM1267 582h1v1h-1zM1268 582h1v1h-1zM1269 582h1v1h-1z"/>
</g>
<text x="9.6" y="548" font-size="9.3" fill="#000" stroke="#000" stroke-width="0.2" font-family="'DejaVu Sans Condensed','DejaVu Sans','Liberation Sans',sans-serif" textLength="67.2" lengthAdjust="spacingAndGlyphs">RSI(14) 49.9879</text>
<rect x="1598" y="537" width="1" height="1" fill="#000"/>
<text x="1601.2" y="546" font-size="9.3" fill="#000" stroke="#000" stroke-width="0.2" font-family="'DejaVu Sans Condensed','DejaVu Sans','Liberation Sans',sans-serif" textLength="14.3" lengthAdjust="spacingAndGlyphs">100</text>
<rect x="1598" y="563" width="1" height="1" fill="#000"/>
<text x="1601.2" y="566.5" font-size="9.3" fill="#000" stroke="#000" stroke-width="0.2" font-family="'DejaVu Sans Condensed','DejaVu Sans','Liberation Sans',sans-serif" textLength="9.5" lengthAdjust="spacingAndGlyphs">70</text>
<rect x="1598" y="599" width="1" height="1" fill="#000"/>
<text x="1601.2" y="602.5" font-size="9.3" fill="#000" stroke="#000" stroke-width="0.2" font-family="'DejaVu Sans Condensed','DejaVu Sans','Liberation Sans',sans-serif" textLength="9.5" lengthAdjust="spacingAndGlyphs">30</text>
<rect x="1598" y="626" width="1" height="1" fill="#000"/>
<text x="1601.2" y="624" font-size="9.3" fill="#000" stroke="#000" stroke-width="0.2" font-family="'DejaVu Sans Condensed','DejaVu Sans','Liberation Sans',sans-serif" textLength="4.6" lengthAdjust="spacingAndGlyphs">0</text>
<g clip-path="url(#cd)">
<path fill="#c0c0c0" d="M5 689h1v12h-1z M9 689h1v12h-1z M13 689h1v12h-1z M17 689h1v11h-1z M21 689h1v11h-1z M25 689h1v10h-1z M29 689h1v9h-1z M33 689h1v8h-1z M37 689h1v7h-1z M41 689h1v6h-1z M45 689h1v5h-1z M49 689h1v4h-1z M53 689h1v2h-1z M65 688h1v2h-1z M69 688h1v2h-1z M73 687h1v3h-1z M77 686h1v4h-1z M81 686h1v4h-1z M85 686h1v4h-1z M89 685h1v5h-1z M93 683h1v7h-1z M97 683h1v7h-1z M101 683h1v7h-1z M105 684h1v6h-1z M109 684h1v6h-1z M113 684h1v6h-1z M117 683h1v7h-1z M121 682h1v8h-1z M125 682h1v8h-1z M129 683h1v7h-1z M133 682h1v8h-1z M137 682h1v8h-1z M141 682h1v8h-1z M145 683h1v7h-1z M149 682h1v8h-1z M153 683h1v7h-1z M157 683h1v7h-1z M161 684h1v6h-1z M165 684h1v6h-1z M169 684h1v6h-1z M173 685h1v5h-1z M177 684h1v6h-1z M181 684h1v6h-1z M185 684h1v6h-1z M189 685h1v5h-1z M193 686h1v4h-1z M197 688h1v2h-1z M201 689h1v2h-1z M205 689h1v3h-1z M209 689h1v4h-1z M213 689h1v4h-1z M217 689h1v4h-1z M221 689h1v3h-1z M225 689h1v2h-1z M229 689h1v2h-1z M233 689h1v2h-1z M249 688h1v2h-1z M253 688h1v2h-1z M257 688h1v2h-1z M261 688h1v2h-1z M265 688h1v2h-1z M269 688h1v2h-1z M273 688h1v2h-1z M285 688h1v2h-1z M289 687h1v3h-1z M293 687h1v3h-1z M297 686h1v4h-1z M301 686h1v4h-1z M305 686h1v4h-1z M309 686h1v4h-1z M313 686h1v4h-1z M317 688h1v2h-1z M325 689h1v2h-1z M329 689h1v3h-1z M333 689h1v3h-1z M337 689h1v5h-1z M341 689h1v6h-1z M345 689h1v7h-1z M349 689h1v8h-1z M353 689h1v8h-1z M357 689h1v9h-1z M361 689h1v9h-1z M365 689h1v10h-1z M369 689h1v10h-1z M373 689h1v10h-1z M377 689h1v10h-1z M381 689h1v8h-1z M385 689h1v7h-1z M389 689h1v7h-1z M393 689h1v6h-1z M397 689h1v5h-1z M401 689h1v5h-1z M405 689h1v4h-1z M409 689h1v3h-1z M413 689h1v2h-1z M421 688h1v2h-1z M425 688h1v2h-1z M429 687h1v3h-1z M433 686h1v4h-1z M437 686h1v4h-1z M441 686h1v4h-1z M445 686h1v4h-1z M449 686h1v4h-1z M453 685h1v5h-1z M457 685h1v5h-1z M461 684h1v6h-1z M465 684h1v6h-1z M469 683h1v7h-1z M473 683h1v7h-1z M477 684h1v6h-1z M481 684h1v6h-1z M485 684h1v6h-1z M489 684h1v6h-1z M493 684h1v6h-1z M497 684h1v6h-1z M501 685h1v5h-1z M505 687h1v3h-1z M509 687h1v3h-1z M513 687h1v3h-1z M517 688h1v2h-1z M521 688h1v2h-1z M533 689h1v2h-1z M537 689h1v3h-1z M541 689h1v3h-1z M545 689h1v4h-1z M549 689h1v5h-1z M553 689h1v6h-1z M557 689h1v5h-1z M561 689h1v5h-1z M565 689h1v5h-1z M569 689h1v5h-1z M573 689h1v5h-1z M577 689h1v5h-1z M581 689h1v6h-1z M585 689h1v7h-1z M589 689h1v8h-1z M593 689h1v9h-1z M597 689h1v10h-1z M601 689h1v11h-1z M605 689h1v11h-1z M609 689h1v12h-1z M613 689h1v12h-1z M617 689h1v11h-1z M621 689h1v10h-1z M625 689h1v9h-1z M629 689h1v8h-1z M633 689h1v7h-1z M637 689h1v7h-1z M641 689h1v6h-1z M645 689h1v6h-1z M649 689h1v6h-1z M653 689h1v5h-1z M657 689h1v5h-1z M661 689h1v4h-1z M665 689h1v4h-1z M669 689h1v3h-1z M681 688h1v2h-1z M685 687h1v3h-1z M689 686h1v4h-1z M693 685h1v5h-1z M697 684h1v6h-1z M701 683h1v7h-1z M705 683h1v7h-1z M709 682h1v8h-1z M713 681h1v9h-1z M717 680h1v10h-1z M721 680h1v10h-1z M725 679h1v11h-1z M729 679h1v11h-1z M733 679h1v11h-1z M737 679h1v11h-1z M741 680h1v10h-1z M745 681h1v9h-1z M749 681h1v9h-1z M753 682h1v8h-1z M757 683h1v7h-1z M761 684h1v6h-1z M765 684h1v6h-1z M769 685h1v5h-1z M773 686h1v4h-1z M777 686h1v4h-1z M781 686h1v4h-1z M785 686h1v4h-1z M789 685h1v5h-1z M793 684h1v6h-1z M797 682h1v8h-1z M801 681h1v9h-1z M805 681h1v9h-1z M809 681h1v9h-1z M813 681h1v9h-1z M817 681h1v9h-1z M821 680h1v10h-1z M825 680h1v10h-1z M829 678h1v12h-1z M833 674h1v16h-1z M837 671h1v19h-1z M841 667h1v23h-1z M845 663h1v27h-1z M849 660h1v30h-1z M853 658h1v32h-1z M857 654h1v36h-1z M861 646h1v44h-1z M865 641h1v49h-1z M869 640h1v50h-1z M873 638h1v52h-1z M877 636h1v54h-1z M881 635h1v55h-1z M885 638h1v52h-1z M889 644h1v46h-1z M893 650h1v40h-1z M897 656h1v34h-1z M901 658h1v32h-1z M905 661h1v29h-1z M909 662h1v28h-1z M913 664h1v26h-1z M917 666h1v24h-1z M921 668h1v22h-1z M925 670h1v20h-1z M929 674h1v16h-1z M933 676h1v14h-1z M937 679h1v11h-1z M941 682h1v8h-1z M945 684h1v6h-1z M949 685h1v5h-1z M953 688h1v2h-1z M957 686h1v4h-1z M961 685h1v5h-1z M965 686h1v4h-1z M969 686h1v4h-1z M973 686h1v4h-1z M977 684h1v6h-1z M981 684h1v6h-1z M985 685h1v5h-1z M989 684h1v6h-1z M993 684h1v6h-1z M997 685h1v5h-1z M1001 687h1v3h-1z M1009 689h1v2h-1z M1021 688h1v2h-1z M1025 688h1v2h-1z M1029 687h1v3h-1z M1033 688h1v2h-1z M1037 689h1v2h-1z M1041 689h1v3h-1z M1045 689h1v3h-1z M1049 689h1v3h-1z M1053 689h1v2h-1z M1061 688h1v2h-1z M1065 687h1v3h-1z M1073 689h1v3h-1z M1077 689h1v4h-1z M1081 689h1v5h-1z M1085 689h1v4h-1z M1089 689h1v4h-1z M1093 689h1v4h-1z M1097 689h1v6h-1z M1101 689h1v8h-1z M1105 689h1v10h-1z M1109 689h1v11h-1z M1113 689h1v12h-1z M1117 689h1v15h-1z M1121 689h1v18h-1z M1125 689h1v21h-1z M1129 689h1v23h-1z M1133 689h1v25h-1z M1137 689h1v26h-1z M1141 689h1v28h-1z M1145 689h1v28h-1z M1149 689h1v29h-1z M1153 689h1v26h-1z M1157 689h1v24h-1z M1161 689h1v21h-1z M1165 689h1v19h-1z M1169 689h1v18h-1z M1173 689h1v16h-1z M1177 689h1v15h-1z M1181 689h1v13h-1z M1185 689h1v12h-1z M1189 689h1v12h-1z M1193 689h1v12h-1z M1197 689h1v11h-1z M1201 689h1v9h-1z M1205 689h1v6h-1z M1209 689h1v5h-1z M1213 689h1v4h-1z M1217 689h1v4h-1z M1221 689h1v4h-1z M1225 689h1v4h-1z M1229 689h1v5h-1z M1233 689h1v5h-1z M1237 689h1v5h-1z M1241 689h1v5h-1z M1245 689h1v6h-1z M1249 689h1v5h-1z M1253 689h1v5h-1z M1257 689h1v4h-1z M1261 689h1v4h-1z M1265 689h1v4h-1z M1269 689h1v4h-1z"/>
<polyline fill="none" stroke="#ff0000" stroke-width="1" points="5.5,701.647 9.5,701.355 13.5,701.066 17.5,700.768 21.5,700.464 25.5,700.071 29.5,699.622 33.5,699.145 37.5,698.571 41.5,697.886 45.5,697.09 49.5,696.215 53.5,695.226 57.5,694.182 61.5,693.214 65.5,692.272 69.5,691.388 73.5,690.533 77.5,689.726 81.5,688.978 85.5,688.325 89.5,687.724 93.5,687.024 97.5,686.362 101.5,685.794 105.5,685.289 109.5,684.902 113.5,684.656 117.5,684.344 121.5,683.953 125.5,683.671 129.5,683.624 133.5,683.569 137.5,683.429 141.5,683.281 145.5,683.139 149.5,682.936 153.5,682.898 157.5,683.005 161.5,683.18 165.5,683.338 169.5,683.543 173.5,683.835 177.5,684.059 181.5,684.258 185.5,684.456 189.5,684.742 193.5,685.094 197.5,685.58 201.5,686.191 205.5,686.947 209.5,687.8 213.5,688.675 217.5,689.54 221.5,690.314 225.5,690.848 229.5,691.252 233.5,691.417 237.5,691.355 241.5,691.098 245.5,690.686 249.5,690.23 253.5,689.768 257.5,689.426 261.5,689.165 265.5,688.913 269.5,688.728 273.5,688.659 277.5,688.638 281.5,688.688 285.5,688.68 289.5,688.603 293.5,688.434 297.5,688.246 301.5,688.056 305.5,687.794 309.5,687.477 313.5,687.206 317.5,687.1 321.5,687.248 325.5,687.537 329.5,687.996 333.5,688.582 337.5,689.318 341.5,690.209 345.5,691.217 349.5,692.259 353.5,693.191 357.5,694.021 361.5,694.858 365.5,695.663 369.5,696.427 373.5,697.054 377.5,697.539 381.5,697.731 385.5,697.72 389.5,697.521 393.5,697.188 397.5,696.738 401.5,696.15 405.5,695.426 409.5,694.627 413.5,693.733 417.5,692.91 421.5,692.119 425.5,691.334 429.5,690.544 433.5,689.738 437.5,689.012 441.5,688.365 445.5,687.808 449.5,687.368 453.5,686.946 457.5,686.542 461.5,686.175 465.5,685.845 469.5,685.538 473.5,685.234 477.5,684.972 481.5,684.698 485.5,684.465 489.5,684.368 493.5,684.317 497.5,684.33 501.5,684.495 505.5,684.886 509.5,685.279 513.5,685.675 517.5,686.125 521.5,686.589 525.5,687.083 529.5,687.667 533.5,688.288 537.5,688.867 541.5,689.379 545.5,689.952 549.5,690.617 553.5,691.267 557.5,691.852 561.5,692.352 565.5,692.734 569.5,693.064 573.5,693.311 577.5,693.511 581.5,693.731 585.5,693.917 589.5,694.137 593.5,694.568 597.5,695.132 601.5,695.816 605.5,696.546 609.5,697.31 613.5,698.047 617.5,698.634 621.5,699.041 625.5,699.183 629.5,699.054 633.5,698.736 637.5,698.274 641.5,697.681 645.5,697.033 649.5,696.332 653.5,695.636 657.5,694.982 661.5,694.475 665.5,693.998 669.5,693.477 673.5,692.864 677.5,692.238 681.5,691.569 685.5,690.806 689.5,690.006 693.5,689.153 697.5,688.221 701.5,687.257 705.5,686.351 709.5,685.495 713.5,684.65 717.5,683.804 721.5,683.02 725.5,682.297 729.5,681.677 733.5,681.133 737.5,680.7 741.5,680.416 745.5,680.32 749.5,680.383 753.5,680.604 757.5,680.975 761.5,681.437 765.5,681.981 769.5,682.635 773.5,683.333 777.5,684.036 781.5,684.631 785.5,685.108 789.5,685.458 793.5,685.591 797.5,685.473 801.5,685.172 805.5,684.741 809.5,684.282 813.5,683.687 817.5,683.072 821.5,682.442 825.5,681.841 829.5,681.197 833.5,680.238 837.5,679.058 841.5,677.499 845.5,675.399 849.5,673.098 853.5,670.597 857.5,667.674 861.5,663.909 865.5,659.799 869.5,656.01 873.5,652.363 877.5,648.891 881.5,645.885 885.5,643.398 889.5,641.867 893.5,641.391 897.5,642.48 901.5,644.323 905.5,646.655 909.5,649.294 913.5,652.489 917.5,655.93 921.5,659.275 925.5,662.11 929.5,664.813 933.5,667.104 937.5,669.455 941.5,671.77 945.5,674.199 949.5,676.526 953.5,678.871 957.5,680.909 961.5,682.581 965.5,683.879 969.5,684.949 973.5,685.697 977.5,685.964 981.5,685.98 985.5,685.897 989.5,685.556 993.5,685.322 997.5,685.345 1001.5,685.462 1005.5,685.735 1009.5,686.236 1013.5,686.813 1017.5,687.347 1021.5,687.716 1025.5,688.127 1029.5,688.42 1033.5,688.764 1037.5,689.166 1041.5,689.485 1045.5,689.56 1049.5,689.77 1053.5,689.904 1057.5,690.004 1061.5,689.992 1065.5,690.039 1069.5,690.081 1073.5,690.158 1077.5,690.245 1081.5,690.419 1085.5,690.516 1089.5,690.727 1093.5,691.061 1097.5,691.729 1101.5,692.727 1105.5,693.789 1109.5,694.675 1113.5,695.508 1117.5,696.625 1121.5,698.207 1125.5,700.131 1129.5,702.219 1133.5,704.329 1137.5,706.351 1141.5,708.333 1145.5,710.256 1149.5,712.138 1153.5,713.428 1157.5,714.053 1161.5,714.064 1165.5,713.634 1169.5,712.801 1173.5,711.673 1177.5,710.202 1181.5,708.559 1185.5,706.725 1189.5,705.115 1193.5,703.8 1197.5,702.635 1201.5,701.505 1205.5,700.273 1209.5,699.054 1213.5,697.843 1217.5,696.782 1221.5,695.891 1225.5,695.046 1229.5,694.235 1233.5,693.609 1237.5,693.253 1241.5,693.101 1245.5,693.123 1249.5,693.274 1253.5,693.378 1257.5,693.415 1261.5,693.434 1265.5,693.347 1269.5,693.189" stroke-dasharray="3 3"/>
</g>
<text x="9.6" y="641" font-size="9.3" fill="#000" stroke="#000" stroke-width="0.2" font-family="'DejaVu Sans Condensed','DejaVu Sans','Liberation Sans',sans-serif" textLength="153.6" lengthAdjust="spacingAndGlyphs">MACD(12,26,9) -0.001309 -0.002074</text>
<text x="1601.2" y="640" font-size="9.3" fill="#000" stroke="#000" stroke-width="0.2" font-family="'DejaVu Sans Condensed','DejaVu Sans','Liberation Sans',sans-serif" textLength="39.8" lengthAdjust="spacingAndGlyphs">0.032972</text>
<rect x="1598" y="689" width="2" height="1" fill="#000"/>
<text x="1601.2" y="692.5" font-size="9.3" fill="#000" stroke="#000" stroke-width="0.2" font-family="'DejaVu Sans Condensed','DejaVu Sans','Liberation Sans',sans-serif" textLength="17.4" lengthAdjust="spacingAndGlyphs">0.00</text>
<text x="1602.2" y="718" font-size="9.3" fill="#000" stroke="#000" stroke-width="0.2" font-family="'DejaVu Sans Condensed','DejaVu Sans','Liberation Sans',sans-serif" textLength="42.3" lengthAdjust="spacingAndGlyphs">-0.018154</text>
<rect x="1598" y="630" width="1" height="1" fill="#000"/>
<rect x="1598" y="720" width="1" height="1" fill="#000"/>
<rect x="5" y="722" width="1" height="3" fill="#000"/>
<text x="4.3" y="734" font-size="9.18" fill="#000" stroke="#000" stroke-width="0.2" font-family="'DejaVu Sans Condensed','DejaVu Sans','Liberation Sans',sans-serif">12 Jul 2019</text>
<rect x="69" y="722" width="1" height="3" fill="#000"/>
<text x="68.3" y="734" font-size="9.18" fill="#000" stroke="#000" stroke-width="0.2" font-family="'DejaVu Sans Condensed','DejaVu Sans','Liberation Sans',sans-serif">31 Jul 2019</text>
<rect x="133" y="722" width="1" height="3" fill="#000"/>
<text x="132.3" y="734" font-size="9.18" fill="#000" stroke="#000" stroke-width="0.2" font-family="'DejaVu Sans Condensed','DejaVu Sans','Liberation Sans',sans-serif">19 Aug 2019</text>
<rect x="197" y="722" width="1" height="3" fill="#000"/>
<text x="196.3" y="734" font-size="9.18" fill="#000" stroke="#000" stroke-width="0.2" font-family="'DejaVu Sans Condensed','DejaVu Sans','Liberation Sans',sans-serif">6 Sep 2019</text>
<rect x="261" y="722" width="1" height="3" fill="#000"/>
<text x="260.3" y="734" font-size="9.18" fill="#000" stroke="#000" stroke-width="0.2" font-family="'DejaVu Sans Condensed','DejaVu Sans','Liberation Sans',sans-serif">25 Sep 2019</text>
<rect x="325" y="722" width="1" height="3" fill="#000"/>
<text x="324.3" y="734" font-size="9.18" fill="#000" stroke="#000" stroke-width="0.2" font-family="'DejaVu Sans Condensed','DejaVu Sans','Liberation Sans',sans-serif">14 Oct 2019</text>
<rect x="389" y="722" width="1" height="3" fill="#000"/>
<text x="388.3" y="734" font-size="9.18" fill="#000" stroke="#000" stroke-width="0.2" font-family="'DejaVu Sans Condensed','DejaVu Sans','Liberation Sans',sans-serif">1 Nov 2019</text>
<rect x="453" y="722" width="1" height="3" fill="#000"/>
<text x="452.3" y="734" font-size="9.18" fill="#000" stroke="#000" stroke-width="0.2" font-family="'DejaVu Sans Condensed','DejaVu Sans','Liberation Sans',sans-serif">20 Nov 2019</text>
<rect x="517" y="722" width="1" height="3" fill="#000"/>
<text x="516.3" y="734" font-size="9.18" fill="#000" stroke="#000" stroke-width="0.2" font-family="'DejaVu Sans Condensed','DejaVu Sans','Liberation Sans',sans-serif">9 Dec 2019</text>
<rect x="581" y="722" width="1" height="3" fill="#000"/>
<text x="580.3" y="734" font-size="9.18" fill="#000" stroke="#000" stroke-width="0.2" font-family="'DejaVu Sans Condensed','DejaVu Sans','Liberation Sans',sans-serif">27 Dec 2019</text>
<rect x="645" y="722" width="1" height="3" fill="#000"/>
<text x="644.3" y="734" font-size="9.18" fill="#000" stroke="#000" stroke-width="0.2" font-family="'DejaVu Sans Condensed','DejaVu Sans','Liberation Sans',sans-serif">15 Jan 2020</text>
<rect x="709" y="722" width="1" height="3" fill="#000"/>
<text x="708.3" y="734" font-size="9.18" fill="#000" stroke="#000" stroke-width="0.2" font-family="'DejaVu Sans Condensed','DejaVu Sans','Liberation Sans',sans-serif">3 Feb 2020</text>
<rect x="773" y="722" width="1" height="3" fill="#000"/>
<text x="772.3" y="734" font-size="9.18" fill="#000" stroke="#000" stroke-width="0.2" font-family="'DejaVu Sans Condensed','DejaVu Sans','Liberation Sans',sans-serif">21 Feb 2020</text>
<rect x="837" y="722" width="1" height="3" fill="#000"/>
<text x="836.3" y="734" font-size="9.18" fill="#000" stroke="#000" stroke-width="0.2" font-family="'DejaVu Sans Condensed','DejaVu Sans','Liberation Sans',sans-serif">11 Mar 2020</text>
<rect x="901" y="722" width="1" height="3" fill="#000"/>
<text x="900.3" y="734" font-size="9.18" fill="#000" stroke="#000" stroke-width="0.2" font-family="'DejaVu Sans Condensed','DejaVu Sans','Liberation Sans',sans-serif">30 Mar 2020</text>
<rect x="965" y="722" width="1" height="3" fill="#000"/>
<text x="964.3" y="734" font-size="9.18" fill="#000" stroke="#000" stroke-width="0.2" font-family="'DejaVu Sans Condensed','DejaVu Sans','Liberation Sans',sans-serif">17 Apr 2020</text>
<rect x="1029" y="722" width="1" height="3" fill="#000"/>
<text x="1028.3" y="734" font-size="9.18" fill="#000" stroke="#000" stroke-width="0.2" font-family="'DejaVu Sans Condensed','DejaVu Sans','Liberation Sans',sans-serif">6 May 2020</text>
<rect x="1093" y="722" width="1" height="3" fill="#000"/>
<text x="1092.3" y="734" font-size="9.18" fill="#000" stroke="#000" stroke-width="0.2" font-family="'DejaVu Sans Condensed','DejaVu Sans','Liberation Sans',sans-serif">25 May 2020</text>
<rect x="1157" y="722" width="1" height="3" fill="#000"/>
<text x="1156.3" y="734" font-size="9.18" fill="#000" stroke="#000" stroke-width="0.2" font-family="'DejaVu Sans Condensed','DejaVu Sans','Liberation Sans',sans-serif">12 Jun 2020</text>
<rect x="1221" y="722" width="1" height="3" fill="#000"/>
<text x="1220.3" y="734" font-size="9.18" fill="#000" stroke="#000" stroke-width="0.2" font-family="'DejaVu Sans Condensed','DejaVu Sans','Liberation Sans',sans-serif">1 Jul 2020</text>
<rect x="0" y="742" width="1639" height="1" fill="#e3e3e3"/>
<rect x="0" y="744" width="1639" height="1" fill="#000"/>
<rect x="0" y="745" width="1639" height="1" fill="#fff"/>
<rect x="0" y="746" width="1639" height="18" fill="#f0f0f0"/>
<rect x="0" y="764" width="1639" height="1" fill="#fff"/>
<rect x="0" y="765" width="1639" height="2" fill="#f0f0f0"/>
<rect x="0" y="745" width="2" height="19" fill="#808080"/>
<rect x="315" y="743" width="102" height="19" fill="#fff"/>
<rect x="314" y="744" width="1" height="19" fill="#000"/>
<rect x="417" y="744" width="1" height="19" fill="#000"/>
<rect x="314" y="762" width="104" height="1" fill="#000"/>
<text x="58.25" y="758.5" font-size="12" fill="#787878" stroke="#787878" stroke-width="0" font-family="'Liberation Sans',sans-serif" text-anchor="middle" textLength="80.5" lengthAdjust="spacingAndGlyphs">EURUSD,Daily</text>
<text x="159.5" y="758.5" font-size="12" fill="#787878" stroke="#787878" stroke-width="0" font-family="'Liberation Sans',sans-serif" text-anchor="middle" textLength="80" lengthAdjust="spacingAndGlyphs">USDCHF,Daily</text>
<text x="261.9" y="758.5" font-size="12" fill="#787878" stroke="#787878" stroke-width="0" font-family="'Liberation Sans',sans-serif" text-anchor="middle" textLength="83.2" lengthAdjust="spacingAndGlyphs">AUDUSD,Daily</text>
<text x="365.9" y="758.5" font-size="12" fill="#000" stroke="#000" stroke-width="0" font-family="'Liberation Sans',sans-serif" text-anchor="middle" textLength="81.6" lengthAdjust="spacingAndGlyphs">USDCAD,Daily</text>
<text x="469.6" y="758.5" font-size="12" fill="#787878" stroke="#787878" stroke-width="0" font-family="'Liberation Sans',sans-serif" text-anchor="middle" textLength="83.2" lengthAdjust="spacingAndGlyphs">USDCNH,Daily</text>
<text x="571.8" y="758.5" font-size="12" fill="#787878" stroke="#787878" stroke-width="0" font-family="'Liberation Sans',sans-serif" text-anchor="middle" textLength="78.8" lengthAdjust="spacingAndGlyphs">EURUSD,M15</text>
<text x="671.95" y="758.5" font-size="12" fill="#787878" stroke="#787878" stroke-width="0" font-family="'Liberation Sans',sans-serif" text-anchor="middle" textLength="78.5" lengthAdjust="spacingAndGlyphs">GBPUSD,M30</text>
<text x="773.8" y="758.5" font-size="12" fill="#787878" stroke="#787878" stroke-width="0" font-family="'Liberation Sans',sans-serif" text-anchor="middle" textLength="82.2" lengthAdjust="spacingAndGlyphs">XAUUSD,Daily</text>
<text x="861.9" y="758.5" font-size="12" fill="#787878" stroke="#787878" stroke-width="0" font-family="'Liberation Sans',sans-serif" text-anchor="middle" textLength="50.4" lengthAdjust="spacingAndGlyphs">HK50,H1</text>
<text x="937.6" y="758.5" font-size="12" fill="#787878" stroke="#787878" stroke-width="0" font-family="'Liberation Sans',sans-serif" text-anchor="middle" textLength="57.4" lengthAdjust="spacingAndGlyphs">UK100,H1</text>
<text x="1017.3" y="758.5" font-size="12" fill="#787878" stroke="#787878" stroke-width="0" font-family="'Liberation Sans',sans-serif" text-anchor="middle" textLength="57" lengthAdjust="spacingAndGlyphs">UK100,H1</text>
<text x="1097.55" y="758.5" font-size="12" fill="#787878" stroke="#787878" stroke-width="0" font-family="'Liberation Sans',sans-serif" text-anchor="middle" textLength="57.7" lengthAdjust="spacingAndGlyphs">GER30,H1</text>
<text x="1175.4" y="758.5" font-size="12" fill="#787878" stroke="#787878" stroke-width="0" font-family="'Liberation Sans',sans-serif" text-anchor="middle" textLength="55.4" lengthAdjust="spacingAndGlyphs">FRA40,H1</text>
<text x="1255.85" y="758.5" font-size="12" fill="#787878" stroke="#787878" stroke-width="0" font-family="'Liberation Sans',sans-serif" text-anchor="middle" textLength="63.5" lengthAdjust="spacingAndGlyphs">USOil,Daily</text>
<text x="1339.7" y="758.5" font-size="12" fill="#787878" stroke="#787878" stroke-width="0" font-family="'Liberation Sans',sans-serif" text-anchor="middle" textLength="63.2" lengthAdjust="spacingAndGlyphs">USDJPY,H1</text>
<text x="1421.55" y="758.5" font-size="12" fill="#787878" stroke="#787878" stroke-width="0" font-family="'Liberation Sans',sans-serif" text-anchor="middle" textLength="57.3" lengthAdjust="spacingAndGlyphs">DJ30,M15</text>
<rect x="110" y="748" width="1" height="14" fill="#606060"/>
<rect x="210" y="748" width="1" height="14" fill="#606060"/>
<rect x="522" y="748" width="1" height="14" fill="#606060"/>
<rect x="622" y="748" width="1" height="14" fill="#606060"/>
<rect x="722" y="748" width="1" height="14" fill="#606060"/>
<rect x="826" y="748" width="1" height="14" fill="#606060"/>
<rect x="898" y="748" width="1" height="14" fill="#606060"/>
<rect x="978" y="748" width="1" height="14" fill="#606060"/>
<rect x="1058" y="748" width="1" height="14" fill="#606060"/>
<rect x="1138" y="748" width="1" height="14" fill="#606060"/>
<rect x="1214" y="748" width="1" height="14" fill="#606060"/>
<rect x="1298" y="748" width="1" height="14" fill="#606060"/>
<rect x="1382" y="748" width="1" height="14" fill="#606060"/>
<rect x="1462" y="748" width="1" height="14" fill="#606060"/>
<path d="M1612.8 753l3.4-3.3v6.6z M1635.3 753l-3.4-3.3v6.6z" fill="#909090" shape-rendering="auto"/>
</svg>
</body></html>
